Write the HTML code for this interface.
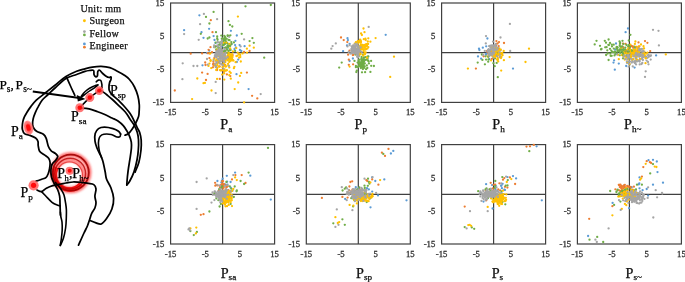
<!DOCTYPE html><html><head><meta charset="utf-8"><style>html,body{margin:0;padding:0;background:#fff;width:685px;height:282px;overflow:hidden}svg{display:block}text{font-family:"Liberation Serif",serif;stroke:currentColor;stroke-width:0.25px;paint-order:stroke}svg{will-change:transform}</style></head><body>
<svg width="685" height="282" viewBox="0 0 685 282">
<defs><filter id="bl" x="-50%" y="-50%" width="200%" height="200%"><feGaussianBlur stdDeviation="1.2"/></filter><filter id="bl2" x="-50%" y="-50%" width="200%" height="200%"><feGaussianBlur stdDeviation="0.9"/></filter><filter id="bl3" x="-50%" y="-50%" width="200%" height="200%"><feGaussianBlur stdDeviation="0.5"/></filter></defs>
<g stroke="#404040" stroke-width="1.2" fill="none">
<rect x="170.6" y="3.0" width="104.0" height="99.4"/>
<line x1="222.6" y1="3.0" x2="222.6" y2="102.4"/>
<line x1="170.6" y1="52.7" x2="274.6" y2="52.7"/>
</g>
<circle cx="235.1" cy="45.1" r="1.15" fill="#5B9BD5"/><circle cx="202.5" cy="65.3" r="1.15" fill="#5B9BD5"/><circle cx="213.6" cy="36.1" r="1.15" fill="#5B9BD5"/><circle cx="209.3" cy="50.7" r="1.15" fill="#5B9BD5"/><circle cx="229.6" cy="49.4" r="1.15" fill="#5B9BD5"/><circle cx="209.1" cy="28.8" r="1.15" fill="#5B9BD5"/><circle cx="199.4" cy="15.3" r="1.15" fill="#5B9BD5"/><circle cx="235.4" cy="40.8" r="1.15" fill="#5B9BD5"/><circle cx="223.5" cy="40.2" r="1.15" fill="#5B9BD5"/><circle cx="224.9" cy="38.0" r="1.15" fill="#5B9BD5"/><circle cx="214.5" cy="40.0" r="1.15" fill="#5B9BD5"/><circle cx="236.5" cy="74.2" r="1.15" fill="#5B9BD5"/><circle cx="236.8" cy="35.5" r="1.15" fill="#5B9BD5"/><circle cx="244.6" cy="46.2" r="1.15" fill="#5B9BD5"/><circle cx="184.1" cy="30.2" r="1.15" fill="#5B9BD5"/><circle cx="207.0" cy="53.0" r="1.15" fill="#5B9BD5"/><circle cx="235.8" cy="47.4" r="1.15" fill="#5B9BD5"/><circle cx="219.2" cy="53.1" r="1.15" fill="#5B9BD5"/><circle cx="238.9" cy="53.8" r="1.15" fill="#5B9BD5"/><circle cx="227.2" cy="48.0" r="1.15" fill="#5B9BD5"/><circle cx="231.6" cy="43.8" r="1.15" fill="#5B9BD5"/><circle cx="216.8" cy="53.5" r="1.15" fill="#5B9BD5"/><circle cx="221.8" cy="46.6" r="1.15" fill="#5B9BD5"/><circle cx="241.3" cy="51.0" r="1.15" fill="#5B9BD5"/><circle cx="239.6" cy="45.1" r="1.15" fill="#5B9BD5"/><circle cx="201.5" cy="32.2" r="1.15" fill="#5B9BD5"/><circle cx="248.6" cy="89.1" r="1.15" fill="#5B9BD5"/><circle cx="219.1" cy="51.9" r="1.15" fill="#ED7D31"/><circle cx="219.8" cy="78.9" r="1.15" fill="#ED7D31"/><circle cx="215.5" cy="43.1" r="1.15" fill="#5B9BD5"/><circle cx="225.2" cy="43.7" r="1.15" fill="#5B9BD5"/><circle cx="236.8" cy="62.0" r="1.15" fill="#5B9BD5"/><circle cx="222.9" cy="56.9" r="1.15" fill="#ED7D31"/><circle cx="230.9" cy="30.8" r="1.15" fill="#5B9BD5"/><circle cx="234.5" cy="49.1" r="1.15" fill="#5B9BD5"/><circle cx="213.7" cy="63.7" r="1.15" fill="#ED7D31"/><circle cx="222.1" cy="52.3" r="1.15" fill="#5B9BD5"/><circle cx="210.5" cy="47.2" r="1.15" fill="#ED7D31"/><circle cx="231.5" cy="55.4" r="1.15" fill="#ED7D31"/><circle cx="238.2" cy="59.6" r="1.15" fill="#5B9BD5"/><circle cx="217.9" cy="60.8" r="1.15" fill="#ED7D31"/><circle cx="174.8" cy="90.5" r="1.15" fill="#ED7D31"/><circle cx="224.4" cy="56.0" r="1.15" fill="#ED7D31"/><circle cx="203.5" cy="37.8" r="1.15" fill="#5B9BD5"/><circle cx="207.8" cy="53.2" r="1.15" fill="#ED7D31"/><circle cx="217.1" cy="70.0" r="1.15" fill="#ED7D31"/><circle cx="249.6" cy="51.0" r="1.15" fill="#ED7D31"/><circle cx="239.9" cy="50.0" r="1.15" fill="#5B9BD5"/><circle cx="202.1" cy="72.6" r="1.15" fill="#ED7D31"/><circle cx="227.0" cy="42.9" r="1.15" fill="#5B9BD5"/><circle cx="206.0" cy="80.0" r="1.15" fill="#ED7D31"/><circle cx="205.2" cy="62.5" r="1.15" fill="#ED7D31"/><circle cx="224.5" cy="65.1" r="1.15" fill="#ED7D31"/><circle cx="223.5" cy="58.5" r="1.15" fill="#ED7D31"/><circle cx="218.6" cy="55.9" r="1.15" fill="#ED7D31"/><circle cx="190.7" cy="53.7" r="1.15" fill="#ED7D31"/><circle cx="224.5" cy="55.6" r="1.15" fill="#ED7D31"/><circle cx="207.6" cy="73.9" r="1.15" fill="#ED7D31"/><circle cx="222.4" cy="56.5" r="1.15" fill="#ED7D31"/><circle cx="227.8" cy="55.8" r="1.15" fill="#ED7D31"/><circle cx="223.8" cy="71.8" r="1.15" fill="#ED7D31"/><circle cx="226.9" cy="74.4" r="1.15" fill="#ED7D31"/><circle cx="224.3" cy="60.5" r="1.15" fill="#ED7D31"/><circle cx="214.4" cy="58.0" r="1.15" fill="#ED7D31"/><circle cx="215.5" cy="46.3" r="1.15" fill="#ED7D31"/><circle cx="210.8" cy="20.2" r="1.15" fill="#ED7D31"/><circle cx="225.2" cy="64.9" r="1.15" fill="#ED7D31"/><circle cx="224.7" cy="61.2" r="1.15" fill="#ED7D31"/><circle cx="252.1" cy="95.8" r="1.15" fill="#ED7D31"/><circle cx="205.5" cy="65.0" r="1.15" fill="#ED7D31"/><circle cx="224.8" cy="50.5" r="1.15" fill="#ED7D31"/><circle cx="209.3" cy="53.4" r="1.15" fill="#ED7D31"/><circle cx="215.8" cy="65.9" r="1.15" fill="#ED7D31"/><circle cx="219.7" cy="66.5" r="1.15" fill="#ED7D31"/><circle cx="220.9" cy="49.6" r="1.15" fill="#ED7D31"/><circle cx="209.4" cy="58.1" r="1.15" fill="#ED7D31"/><circle cx="229.5" cy="40.2" r="1.15" fill="#70AD47"/><circle cx="241.7" cy="33.8" r="1.15" fill="#70AD47"/><circle cx="212.5" cy="32.2" r="1.15" fill="#ED7D31"/><circle cx="218.4" cy="47.8" r="1.15" fill="#70AD47"/><circle cx="227.0" cy="49.8" r="1.15" fill="#70AD47"/><circle cx="217.1" cy="67.6" r="1.15" fill="#ED7D31"/><circle cx="220.0" cy="44.5" r="1.15" fill="#70AD47"/><circle cx="213.1" cy="64.2" r="1.15" fill="#ED7D31"/><circle cx="214.3" cy="47.2" r="1.15" fill="#70AD47"/><circle cx="257.3" cy="98.4" r="1.15" fill="#ED7D31"/><circle cx="228.9" cy="58.7" r="1.15" fill="#ED7D31"/><circle cx="230.2" cy="45.4" r="1.15" fill="#70AD47"/><circle cx="212.9" cy="67.3" r="1.15" fill="#ED7D31"/><circle cx="213.6" cy="65.6" r="1.15" fill="#ED7D31"/><circle cx="225.6" cy="52.5" r="1.15" fill="#ED7D31"/><circle cx="222.6" cy="45.0" r="1.15" fill="#70AD47"/><circle cx="220.8" cy="52.7" r="1.15" fill="#70AD47"/><circle cx="224.4" cy="38.6" r="1.15" fill="#70AD47"/><circle cx="206.0" cy="16.9" r="1.15" fill="#70AD47"/><circle cx="232.7" cy="55.1" r="1.15" fill="#ED7D31"/><circle cx="202.1" cy="53.4" r="1.15" fill="#ED7D31"/><circle cx="223.4" cy="42.2" r="1.15" fill="#70AD47"/><circle cx="218.8" cy="62.5" r="1.15" fill="#ED7D31"/><circle cx="231.5" cy="44.2" r="1.15" fill="#70AD47"/><circle cx="224.7" cy="39.9" r="1.15" fill="#70AD47"/><circle cx="225.3" cy="58.0" r="1.15" fill="#ED7D31"/><circle cx="224.3" cy="47.8" r="1.15" fill="#70AD47"/><circle cx="215.7" cy="42.6" r="1.15" fill="#70AD47"/><circle cx="227.9" cy="36.0" r="1.15" fill="#70AD47"/><circle cx="209.4" cy="37.5" r="1.15" fill="#70AD47"/><circle cx="216.5" cy="50.3" r="1.15" fill="#ED7D31"/><circle cx="246.9" cy="72.6" r="1.15" fill="#ED7D31"/><circle cx="226.2" cy="43.1" r="1.15" fill="#70AD47"/><circle cx="229.0" cy="56.6" r="1.15" fill="#ED7D31"/><circle cx="222.8" cy="60.4" r="1.15" fill="#ED7D31"/><circle cx="231.5" cy="57.1" r="1.15" fill="#ED7D31"/><circle cx="230.3" cy="76.1" r="1.15" fill="#ED7D31"/><circle cx="228.5" cy="21.2" r="1.15" fill="#70AD47"/><circle cx="213.4" cy="61.7" r="1.15" fill="#ED7D31"/><circle cx="228.4" cy="58.0" r="1.15" fill="#ED7D31"/><circle cx="223.9" cy="44.6" r="1.15" fill="#70AD47"/><circle cx="228.7" cy="46.1" r="1.15" fill="#70AD47"/><circle cx="221.4" cy="70.3" r="1.15" fill="#ED7D31"/><circle cx="223.2" cy="65.8" r="1.15" fill="#ED7D31"/><circle cx="235.1" cy="50.9" r="1.15" fill="#70AD47"/><circle cx="264.2" cy="57.7" r="1.15" fill="#70AD47"/><circle cx="217.2" cy="38.4" r="1.15" fill="#70AD47"/><circle cx="245.5" cy="6.3" r="1.15" fill="#70AD47"/><circle cx="212.0" cy="52.2" r="1.15" fill="#ED7D31"/><circle cx="208.6" cy="49.8" r="1.15" fill="#ED7D31"/><circle cx="244.1" cy="52.0" r="1.15" fill="#ED7D31"/><circle cx="222.1" cy="39.5" r="1.15" fill="#70AD47"/><circle cx="228.5" cy="51.0" r="1.15" fill="#70AD47"/><circle cx="220.2" cy="42.4" r="1.15" fill="#70AD47"/><circle cx="225.2" cy="40.4" r="1.15" fill="#70AD47"/><circle cx="217.5" cy="50.5" r="1.15" fill="#70AD47"/><circle cx="222.2" cy="55.4" r="1.15" fill="#70AD47"/><circle cx="218.9" cy="52.9" r="1.15" fill="#70AD47"/><circle cx="225.5" cy="40.8" r="1.15" fill="#70AD47"/><circle cx="227.3" cy="52.8" r="1.15" fill="#70AD47"/><circle cx="218.7" cy="48.0" r="1.15" fill="#70AD47"/><circle cx="224.1" cy="43.3" r="1.15" fill="#70AD47"/><circle cx="225.0" cy="36.9" r="1.15" fill="#70AD47"/><circle cx="229.9" cy="24.9" r="1.15" fill="#70AD47"/><circle cx="221.2" cy="48.8" r="1.15" fill="#70AD47"/><circle cx="230.4" cy="50.2" r="1.15" fill="#70AD47"/><circle cx="207.7" cy="38.5" r="1.15" fill="#70AD47"/><circle cx="223.8" cy="44.8" r="1.15" fill="#70AD47"/><circle cx="249.6" cy="41.1" r="1.15" fill="#70AD47"/><circle cx="228.5" cy="40.0" r="1.15" fill="#70AD47"/><circle cx="223.0" cy="40.7" r="1.15" fill="#70AD47"/><circle cx="227.6" cy="35.5" r="1.15" fill="#70AD47"/><circle cx="231.3" cy="42.1" r="1.15" fill="#70AD47"/><circle cx="227.7" cy="43.6" r="1.15" fill="#70AD47"/><circle cx="218.2" cy="46.4" r="1.15" fill="#70AD47"/><circle cx="233.9" cy="42.4" r="1.15" fill="#70AD47"/><circle cx="253.8" cy="42.8" r="1.15" fill="#70AD47"/><circle cx="224.7" cy="50.8" r="1.15" fill="#70AD47"/><circle cx="223.4" cy="40.9" r="1.15" fill="#70AD47"/><circle cx="231.7" cy="58.9" r="1.15" fill="#70AD47"/><circle cx="225.4" cy="37.7" r="1.15" fill="#70AD47"/><circle cx="218.8" cy="45.1" r="1.15" fill="#70AD47"/><circle cx="230.4" cy="35.3" r="1.15" fill="#70AD47"/><circle cx="226.7" cy="38.8" r="1.15" fill="#70AD47"/><circle cx="200.8" cy="33.8" r="1.15" fill="#70AD47"/><circle cx="225.1" cy="60.6" r="1.15" fill="#FFC000"/><circle cx="210.6" cy="61.0" r="1.15" fill="#FFC000"/><circle cx="229.3" cy="67.4" r="1.15" fill="#FFC000"/><circle cx="229.3" cy="75.2" r="1.15" fill="#FFC000"/><circle cx="218.8" cy="58.8" r="1.15" fill="#FFC000"/><circle cx="230.3" cy="49.7" r="1.15" fill="#70AD47"/><circle cx="230.2" cy="48.4" r="1.15" fill="#FFC000"/><circle cx="215.3" cy="64.2" r="1.15" fill="#FFC000"/><circle cx="217.6" cy="39.8" r="1.15" fill="#70AD47"/><circle cx="240.3" cy="57.1" r="1.15" fill="#FFC000"/><circle cx="215.9" cy="46.6" r="1.15" fill="#70AD47"/><circle cx="225.3" cy="51.1" r="1.15" fill="#70AD47"/><circle cx="197.3" cy="78.5" r="1.15" fill="#FFC000"/><circle cx="229.1" cy="53.3" r="1.15" fill="#FFC000"/><circle cx="220.4" cy="43.0" r="1.15" fill="#70AD47"/><circle cx="210.2" cy="53.5" r="1.15" fill="#FFC000"/><circle cx="218.9" cy="66.5" r="1.15" fill="#FFC000"/><circle cx="233.5" cy="60.6" r="1.15" fill="#FFC000"/><circle cx="225.4" cy="66.6" r="1.15" fill="#FFC000"/><circle cx="228.8" cy="52.6" r="1.15" fill="#70AD47"/><circle cx="239.9" cy="75.9" r="1.15" fill="#FFC000"/><circle cx="222.4" cy="43.1" r="1.15" fill="#70AD47"/><circle cx="225.0" cy="65.3" r="1.15" fill="#FFC000"/><circle cx="216.0" cy="32.2" r="1.15" fill="#70AD47"/><circle cx="217.2" cy="36.5" r="1.15" fill="#70AD47"/><circle cx="270.8" cy="5.0" r="1.15" fill="#70AD47"/><circle cx="209.4" cy="23.5" r="1.15" fill="#70AD47"/><circle cx="221.8" cy="38.7" r="1.15" fill="#70AD47"/><circle cx="228.8" cy="59.5" r="1.15" fill="#70AD47"/><circle cx="225.8" cy="47.4" r="1.15" fill="#70AD47"/><circle cx="224.6" cy="69.4" r="1.15" fill="#FFC000"/><circle cx="242.6" cy="53.4" r="1.15" fill="#FFC000"/><circle cx="230.2" cy="61.0" r="1.15" fill="#FFC000"/><circle cx="225.8" cy="70.8" r="1.15" fill="#FFC000"/><circle cx="213.6" cy="11.9" r="1.15" fill="#70AD47"/><circle cx="222.6" cy="38.4" r="1.15" fill="#70AD47"/><circle cx="229.0" cy="36.0" r="1.15" fill="#70AD47"/><circle cx="224.0" cy="42.9" r="1.15" fill="#FFC000"/><circle cx="224.6" cy="39.7" r="1.15" fill="#70AD47"/><circle cx="226.1" cy="66.4" r="1.15" fill="#FFC000"/><circle cx="230.8" cy="59.2" r="1.15" fill="#FFC000"/><circle cx="225.9" cy="47.9" r="1.15" fill="#70AD47"/><circle cx="226.2" cy="42.1" r="1.15" fill="#70AD47"/><circle cx="231.0" cy="58.4" r="1.15" fill="#FFC000"/><circle cx="228.2" cy="45.9" r="1.15" fill="#70AD47"/><circle cx="228.2" cy="47.6" r="1.15" fill="#70AD47"/><circle cx="219.6" cy="57.0" r="1.15" fill="#FFC000"/><circle cx="229.4" cy="58.0" r="1.15" fill="#FFC000"/><circle cx="238.9" cy="53.9" r="1.15" fill="#FFC000"/><circle cx="225.4" cy="62.0" r="1.15" fill="#FFC000"/><circle cx="241.2" cy="72.9" r="1.15" fill="#FFC000"/><circle cx="236.4" cy="56.1" r="1.15" fill="#FFC000"/><circle cx="225.1" cy="43.7" r="1.15" fill="#70AD47"/><circle cx="224.3" cy="35.8" r="1.15" fill="#70AD47"/><circle cx="217.1" cy="78.9" r="1.15" fill="#FFC000"/><circle cx="252.4" cy="38.1" r="1.15" fill="#70AD47"/><circle cx="246.9" cy="48.7" r="1.15" fill="#FFC000"/><circle cx="222.5" cy="67.4" r="1.15" fill="#FFC000"/><circle cx="233.9" cy="68.2" r="1.15" fill="#FFC000"/><circle cx="227.4" cy="46.0" r="1.15" fill="#70AD47"/><circle cx="228.4" cy="45.4" r="1.15" fill="#70AD47"/><circle cx="223.9" cy="51.5" r="1.15" fill="#70AD47"/><circle cx="236.3" cy="48.1" r="1.15" fill="#FFC000"/><circle cx="228.0" cy="59.4" r="1.15" fill="#FFC000"/><circle cx="231.3" cy="58.2" r="1.15" fill="#FFC000"/><circle cx="225.2" cy="57.0" r="1.15" fill="#FFC000"/><circle cx="225.7" cy="59.4" r="1.15" fill="#FFC000"/><circle cx="216.2" cy="49.3" r="1.15" fill="#70AD47"/><circle cx="203.5" cy="83.2" r="1.15" fill="#FFC000"/><circle cx="238.2" cy="82.5" r="1.15" fill="#FFC000"/><circle cx="232.0" cy="60.5" r="1.15" fill="#FFC000"/><circle cx="229.4" cy="56.4" r="1.15" fill="#FFC000"/><circle cx="224.4" cy="39.0" r="1.15" fill="#70AD47"/><circle cx="221.3" cy="35.6" r="1.15" fill="#70AD47"/><circle cx="230.1" cy="45.9" r="1.15" fill="#70AD47"/><circle cx="232.5" cy="56.9" r="1.15" fill="#FFC000"/><circle cx="232.3" cy="26.5" r="1.15" fill="#70AD47"/><circle cx="247.0" cy="52.7" r="1.15" fill="#FFC000"/><circle cx="226.4" cy="42.6" r="1.15" fill="#FFC000"/><circle cx="231.9" cy="55.5" r="1.15" fill="#FFC000"/><circle cx="232.9" cy="51.5" r="1.15" fill="#FFC000"/><circle cx="249.6" cy="45.7" r="1.15" fill="#FFC000"/><circle cx="224.8" cy="59.6" r="1.15" fill="#FFC000"/><circle cx="225.3" cy="57.0" r="1.15" fill="#FFC000"/><circle cx="220.7" cy="60.7" r="1.15" fill="#FFC000"/><circle cx="224.1" cy="62.8" r="1.15" fill="#FFC000"/><circle cx="215.9" cy="60.8" r="1.15" fill="#FFC000"/><circle cx="217.9" cy="60.4" r="1.15" fill="#FFC000"/><circle cx="224.3" cy="79.6" r="1.15" fill="#FFC000"/><circle cx="244.1" cy="102.4" r="1.15" fill="#FFC000"/><circle cx="220.3" cy="56.7" r="1.15" fill="#FFC000"/><circle cx="229.2" cy="62.0" r="1.15" fill="#FFC000"/><circle cx="216.2" cy="70.0" r="1.15" fill="#FFC000"/><circle cx="225.6" cy="56.5" r="1.15" fill="#FFC000"/><circle cx="230.5" cy="54.3" r="1.15" fill="#FFC000"/><circle cx="230.7" cy="72.9" r="1.15" fill="#FFC000"/><circle cx="220.7" cy="70.4" r="1.15" fill="#FFC000"/><circle cx="217.3" cy="65.0" r="1.15" fill="#FFC000"/><circle cx="226.9" cy="70.2" r="1.15" fill="#FFC000"/><circle cx="237.7" cy="52.6" r="1.15" fill="#FFC000"/><circle cx="220.0" cy="70.1" r="1.15" fill="#FFC000"/><circle cx="223.9" cy="70.5" r="1.15" fill="#FFC000"/><circle cx="217.4" cy="49.7" r="1.15" fill="#FFC000"/><circle cx="228.3" cy="65.5" r="1.15" fill="#FFC000"/><circle cx="218.5" cy="61.3" r="1.15" fill="#FFC000"/><circle cx="240.8" cy="61.5" r="1.15" fill="#FFC000"/><circle cx="224.2" cy="73.3" r="1.15" fill="#FFC000"/><circle cx="208.5" cy="65.9" r="1.15" fill="#FFC000"/><circle cx="228.1" cy="54.9" r="1.15" fill="#FFC000"/><circle cx="222.7" cy="65.8" r="1.15" fill="#FFC000"/><circle cx="230.8" cy="55.8" r="1.15" fill="#FFC000"/><circle cx="234.7" cy="89.1" r="1.15" fill="#FFC000"/><circle cx="231.9" cy="54.1" r="1.15" fill="#FFC000"/><circle cx="210.6" cy="60.2" r="1.15" fill="#FFC000"/><circle cx="213.7" cy="59.3" r="1.15" fill="#FFC000"/><circle cx="224.6" cy="61.1" r="1.15" fill="#FFC000"/><circle cx="182.7" cy="63.3" r="1.15" fill="#A5A5A5"/><circle cx="219.4" cy="55.8" r="1.15" fill="#A5A5A5"/><circle cx="224.7" cy="58.6" r="1.15" fill="#A5A5A5"/><circle cx="219.9" cy="61.5" r="1.15" fill="#FFC000"/><circle cx="192.1" cy="99.1" r="1.15" fill="#FFC000"/><circle cx="220.5" cy="53.9" r="1.15" fill="#A5A5A5"/><circle cx="219.8" cy="50.9" r="1.15" fill="#A5A5A5"/><circle cx="222.3" cy="53.6" r="1.15" fill="#A5A5A5"/><circle cx="217.7" cy="55.6" r="1.15" fill="#A5A5A5"/><circle cx="226.0" cy="58.9" r="1.15" fill="#FFC000"/><circle cx="225.2" cy="65.9" r="1.15" fill="#FFC000"/><circle cx="222.3" cy="56.1" r="1.15" fill="#A5A5A5"/><circle cx="222.2" cy="74.6" r="1.15" fill="#FFC000"/><circle cx="237.6" cy="55.7" r="1.15" fill="#FFC000"/><circle cx="240.2" cy="55.0" r="1.15" fill="#FFC000"/><circle cx="230.7" cy="57.3" r="1.15" fill="#FFC000"/><circle cx="229.5" cy="43.8" r="1.15" fill="#FFC000"/><circle cx="239.3" cy="53.8" r="1.15" fill="#FFC000"/><circle cx="217.6" cy="50.8" r="1.15" fill="#A5A5A5"/><circle cx="218.3" cy="55.9" r="1.15" fill="#FFC000"/><circle cx="223.4" cy="63.9" r="1.15" fill="#FFC000"/><circle cx="221.4" cy="64.2" r="1.15" fill="#A5A5A5"/><circle cx="217.6" cy="63.1" r="1.15" fill="#FFC000"/><circle cx="221.8" cy="50.9" r="1.15" fill="#A5A5A5"/><circle cx="218.3" cy="55.5" r="1.15" fill="#FFC000"/><circle cx="219.5" cy="51.1" r="1.15" fill="#A5A5A5"/><circle cx="239.1" cy="57.7" r="1.15" fill="#FFC000"/><circle cx="211.5" cy="90.5" r="1.15" fill="#FFC000"/><circle cx="235.6" cy="62.2" r="1.15" fill="#FFC000"/><circle cx="223.7" cy="62.8" r="1.15" fill="#FFC000"/><circle cx="207.0" cy="59.0" r="1.15" fill="#A5A5A5"/><circle cx="214.5" cy="65.3" r="1.15" fill="#FFC000"/><circle cx="222.8" cy="59.2" r="1.15" fill="#A5A5A5"/><circle cx="217.3" cy="45.5" r="1.15" fill="#A5A5A5"/><circle cx="213.6" cy="60.3" r="1.15" fill="#A5A5A5"/><circle cx="217.3" cy="68.1" r="1.15" fill="#FFC000"/><circle cx="222.4" cy="50.0" r="1.15" fill="#A5A5A5"/><circle cx="219.6" cy="54.2" r="1.15" fill="#A5A5A5"/><circle cx="222.7" cy="70.2" r="1.15" fill="#FFC000"/><circle cx="230.2" cy="54.4" r="1.15" fill="#FFC000"/><circle cx="237.9" cy="16.6" r="1.15" fill="#FFC000"/><circle cx="222.8" cy="65.2" r="1.15" fill="#A5A5A5"/><circle cx="224.5" cy="55.6" r="1.15" fill="#FFC000"/><circle cx="222.6" cy="56.3" r="1.15" fill="#A5A5A5"/><circle cx="222.6" cy="59.6" r="1.15" fill="#A5A5A5"/><circle cx="223.8" cy="55.9" r="1.15" fill="#FFC000"/><circle cx="229.2" cy="36.8" r="1.15" fill="#A5A5A5"/><circle cx="221.9" cy="40.5" r="1.15" fill="#A5A5A5"/><circle cx="222.0" cy="58.1" r="1.15" fill="#A5A5A5"/><circle cx="223.1" cy="55.2" r="1.15" fill="#FFC000"/><circle cx="218.3" cy="59.3" r="1.15" fill="#A5A5A5"/><circle cx="229.6" cy="71.7" r="1.15" fill="#FFC000"/><circle cx="221.7" cy="43.5" r="1.15" fill="#A5A5A5"/><circle cx="223.5" cy="68.7" r="1.15" fill="#A5A5A5"/><circle cx="219.7" cy="53.6" r="1.15" fill="#A5A5A5"/><circle cx="253.8" cy="47.7" r="1.15" fill="#FFC000"/><circle cx="224.5" cy="59.3" r="1.15" fill="#A5A5A5"/><circle cx="216.4" cy="59.3" r="1.15" fill="#FFC000"/><circle cx="228.0" cy="63.8" r="1.15" fill="#FFC000"/><circle cx="220.9" cy="48.1" r="1.15" fill="#A5A5A5"/><circle cx="223.0" cy="54.6" r="1.15" fill="#FFC000"/><circle cx="229.7" cy="59.4" r="1.15" fill="#FFC000"/><circle cx="214.9" cy="55.3" r="1.15" fill="#A5A5A5"/><circle cx="219.6" cy="53.6" r="1.15" fill="#A5A5A5"/><circle cx="222.4" cy="56.0" r="1.15" fill="#A5A5A5"/><circle cx="215.8" cy="67.2" r="1.15" fill="#A5A5A5"/><circle cx="214.9" cy="64.5" r="1.15" fill="#A5A5A5"/><circle cx="219.4" cy="61.5" r="1.15" fill="#A5A5A5"/><circle cx="232.8" cy="59.9" r="1.15" fill="#FFC000"/><circle cx="227.4" cy="60.3" r="1.15" fill="#FFC000"/><circle cx="230.8" cy="78.7" r="1.15" fill="#FFC000"/><circle cx="220.0" cy="51.0" r="1.15" fill="#A5A5A5"/><circle cx="223.4" cy="53.2" r="1.15" fill="#FFC000"/><circle cx="211.2" cy="68.1" r="1.15" fill="#FFC000"/><circle cx="220.6" cy="42.8" r="1.15" fill="#A5A5A5"/><circle cx="197.3" cy="66.0" r="1.15" fill="#A5A5A5"/><circle cx="221.6" cy="52.3" r="1.15" fill="#A5A5A5"/><circle cx="217.5" cy="55.3" r="1.15" fill="#A5A5A5"/><circle cx="234.4" cy="66.8" r="1.15" fill="#FFC000"/><circle cx="209.4" cy="63.6" r="1.15" fill="#FFC000"/><circle cx="204.9" cy="82.9" r="1.15" fill="#FFC000"/><circle cx="221.7" cy="51.4" r="1.15" fill="#A5A5A5"/><circle cx="215.8" cy="53.5" r="1.15" fill="#A5A5A5"/><circle cx="225.3" cy="55.2" r="1.15" fill="#A5A5A5"/><circle cx="231.6" cy="58.6" r="1.15" fill="#FFC000"/><circle cx="228.6" cy="52.8" r="1.15" fill="#FFC000"/><circle cx="184.1" cy="34.1" r="1.15" fill="#A5A5A5"/><circle cx="220.3" cy="56.2" r="1.15" fill="#A5A5A5"/><circle cx="216.5" cy="63.0" r="1.15" fill="#A5A5A5"/><circle cx="217.7" cy="55.3" r="1.15" fill="#A5A5A5"/><circle cx="219.0" cy="53.3" r="1.15" fill="#A5A5A5"/><circle cx="217.6" cy="42.0" r="1.15" fill="#A5A5A5"/><circle cx="220.8" cy="59.0" r="1.15" fill="#A5A5A5"/><circle cx="221.8" cy="42.2" r="1.15" fill="#A5A5A5"/><circle cx="244.1" cy="39.4" r="1.15" fill="#A5A5A5"/><circle cx="219.8" cy="61.2" r="1.15" fill="#A5A5A5"/><circle cx="221.4" cy="56.7" r="1.15" fill="#A5A5A5"/><circle cx="220.7" cy="57.8" r="1.15" fill="#A5A5A5"/><circle cx="218.0" cy="50.3" r="1.15" fill="#A5A5A5"/><circle cx="220.8" cy="54.0" r="1.15" fill="#A5A5A5"/><circle cx="200.1" cy="24.2" r="1.15" fill="#A5A5A5"/><circle cx="224.8" cy="49.0" r="1.15" fill="#A5A5A5"/><circle cx="220.6" cy="43.4" r="1.15" fill="#A5A5A5"/><circle cx="218.0" cy="52.8" r="1.15" fill="#A5A5A5"/><circle cx="219.1" cy="55.2" r="1.15" fill="#A5A5A5"/><circle cx="221.3" cy="53.3" r="1.15" fill="#A5A5A5"/><circle cx="224.9" cy="53.6" r="1.15" fill="#A5A5A5"/><circle cx="217.1" cy="19.2" r="1.15" fill="#A5A5A5"/><circle cx="226.0" cy="58.5" r="1.15" fill="#A5A5A5"/><circle cx="223.7" cy="57.9" r="1.15" fill="#A5A5A5"/><circle cx="223.7" cy="55.2" r="1.15" fill="#A5A5A5"/><circle cx="214.1" cy="45.3" r="1.15" fill="#A5A5A5"/><circle cx="221.6" cy="57.7" r="1.15" fill="#A5A5A5"/><circle cx="215.7" cy="93.1" r="1.15" fill="#A5A5A5"/><circle cx="219.6" cy="57.1" r="1.15" fill="#A5A5A5"/><circle cx="219.8" cy="55.4" r="1.15" fill="#A5A5A5"/><circle cx="203.9" cy="13.9" r="1.15" fill="#A5A5A5"/><circle cx="218.9" cy="58.8" r="1.15" fill="#A5A5A5"/><circle cx="220.0" cy="53.9" r="1.15" fill="#A5A5A5"/><circle cx="217.7" cy="51.8" r="1.15" fill="#A5A5A5"/><circle cx="219.9" cy="63.5" r="1.15" fill="#A5A5A5"/><circle cx="215.5" cy="56.5" r="1.15" fill="#A5A5A5"/><circle cx="220.1" cy="51.1" r="1.15" fill="#A5A5A5"/><circle cx="220.3" cy="53.1" r="1.15" fill="#A5A5A5"/><circle cx="224.8" cy="57.5" r="1.15" fill="#A5A5A5"/><circle cx="220.8" cy="46.0" r="1.15" fill="#A5A5A5"/><circle cx="223.7" cy="61.1" r="1.15" fill="#A5A5A5"/><circle cx="216.5" cy="61.9" r="1.15" fill="#A5A5A5"/><circle cx="215.7" cy="81.9" r="1.15" fill="#A5A5A5"/><circle cx="217.2" cy="53.9" r="1.15" fill="#A5A5A5"/><circle cx="216.4" cy="51.8" r="1.15" fill="#A5A5A5"/><circle cx="224.4" cy="57.4" r="1.15" fill="#A5A5A5"/><circle cx="218.2" cy="54.8" r="1.15" fill="#A5A5A5"/><circle cx="182.4" cy="79.2" r="1.15" fill="#A5A5A5"/><circle cx="224.2" cy="55.4" r="1.15" fill="#A5A5A5"/><circle cx="214.9" cy="56.5" r="1.15" fill="#A5A5A5"/><circle cx="240.6" cy="46.4" r="1.15" fill="#A5A5A5"/><circle cx="216.9" cy="54.5" r="1.15" fill="#A5A5A5"/><circle cx="217.5" cy="51.3" r="1.15" fill="#A5A5A5"/><circle cx="221.3" cy="58.3" r="1.15" fill="#A5A5A5"/><circle cx="227.5" cy="57.2" r="1.15" fill="#A5A5A5"/><circle cx="216.9" cy="51.7" r="1.15" fill="#A5A5A5"/><circle cx="220.4" cy="49.6" r="1.15" fill="#A5A5A5"/><circle cx="215.2" cy="55.5" r="1.15" fill="#A5A5A5"/><circle cx="218.1" cy="42.5" r="1.15" fill="#A5A5A5"/><circle cx="225.4" cy="52.9" r="1.15" fill="#A5A5A5"/><circle cx="214.0" cy="47.2" r="1.15" fill="#A5A5A5"/><circle cx="216.2" cy="56.0" r="1.15" fill="#A5A5A5"/><circle cx="221.5" cy="56.2" r="1.15" fill="#A5A5A5"/><circle cx="224.3" cy="62.2" r="1.15" fill="#A5A5A5"/><circle cx="217.6" cy="53.3" r="1.15" fill="#A5A5A5"/><circle cx="193.5" cy="66.0" r="1.15" fill="#A5A5A5"/><circle cx="221.5" cy="61.4" r="1.15" fill="#A5A5A5"/><circle cx="218.7" cy="49.4" r="1.15" fill="#A5A5A5"/><circle cx="198.7" cy="39.8" r="1.15" fill="#A5A5A5"/><circle cx="220.8" cy="52.4" r="1.15" fill="#A5A5A5"/><circle cx="222.9" cy="53.3" r="1.15" fill="#A5A5A5"/><circle cx="218.1" cy="54.4" r="1.15" fill="#A5A5A5"/><circle cx="223.5" cy="54.7" r="1.15" fill="#A5A5A5"/><circle cx="229.0" cy="65.9" r="1.15" fill="#A5A5A5"/><circle cx="207.7" cy="64.6" r="1.15" fill="#A5A5A5"/><circle cx="221.5" cy="55.9" r="1.15" fill="#A5A5A5"/><circle cx="260.7" cy="94.1" r="1.15" fill="#A5A5A5"/><circle cx="216.7" cy="57.3" r="1.15" fill="#A5A5A5"/><circle cx="216.1" cy="66.5" r="1.15" fill="#A5A5A5"/><circle cx="217.6" cy="55.5" r="1.15" fill="#A5A5A5"/><circle cx="218.2" cy="46.5" r="1.15" fill="#A5A5A5"/><circle cx="218.1" cy="59.1" r="1.15" fill="#A5A5A5"/><circle cx="217.4" cy="54.0" r="1.15" fill="#A5A5A5"/>
<g font-size="7.7" fill="#3A3A3A" style="stroke:#3A3A3A;stroke-width:0.18px">
<text transform="translate(164.3 5.8) scale(1.13 1)" text-anchor="end">15</text>
<text transform="translate(164.3 38.9) scale(1.13 1)" text-anchor="end">5</text>
<text transform="translate(164.3 72.1) scale(1.13 1)" text-anchor="end">-5</text>
<text transform="translate(164.3 105.2) scale(1.13 1)" text-anchor="end">-15</text>
<text transform="translate(170.6 114.9) scale(1.13 1)" text-anchor="middle">-15</text>
<text transform="translate(205.3 114.9) scale(1.13 1)" text-anchor="middle">-5</text>
<text transform="translate(239.9 114.9) scale(1.13 1)" text-anchor="middle">5</text>
<text transform="translate(274.6 114.9) scale(1.13 1)" text-anchor="middle">15</text>
</g>
<text x="220.3" y="129.3" font-size="14.2" fill="#111">P<tspan font-size="9.2" dy="2.7">a</tspan></text>
<g stroke="#404040" stroke-width="1.2" fill="none">
<rect x="306.3" y="3.0" width="104.0" height="99.4"/>
<line x1="358.3" y1="3.0" x2="358.3" y2="102.4"/>
<line x1="306.3" y1="52.7" x2="410.3" y2="52.7"/>
</g>
<circle cx="347.0" cy="45.4" r="1.15" fill="#5B9BD5"/><circle cx="349.6" cy="61.0" r="1.15" fill="#5B9BD5"/><circle cx="356.6" cy="42.5" r="1.15" fill="#5B9BD5"/><circle cx="347.9" cy="40.1" r="1.15" fill="#5B9BD5"/><circle cx="343.1" cy="51.2" r="1.15" fill="#5B9BD5"/><circle cx="347.5" cy="38.2" r="1.15" fill="#5B9BD5"/><circle cx="352.9" cy="58.5" r="1.15" fill="#5B9BD5"/><circle cx="385.7" cy="34.8" r="1.15" fill="#5B9BD5"/><circle cx="349.6" cy="43.8" r="1.15" fill="#5B9BD5"/><circle cx="349.5" cy="50.7" r="1.15" fill="#ED7D31"/><circle cx="348.8" cy="59.7" r="1.15" fill="#ED7D31"/><circle cx="356.7" cy="53.1" r="1.15" fill="#ED7D31"/><circle cx="352.8" cy="55.1" r="1.15" fill="#ED7D31"/><circle cx="341.0" cy="37.5" r="1.15" fill="#ED7D31"/><circle cx="353.4" cy="54.8" r="1.15" fill="#ED7D31"/><circle cx="348.1" cy="54.7" r="1.15" fill="#ED7D31"/><circle cx="348.8" cy="64.8" r="1.15" fill="#ED7D31"/><circle cx="353.1" cy="64.3" r="1.15" fill="#ED7D31"/><circle cx="347.3" cy="42.1" r="1.15" fill="#ED7D31"/><circle cx="343.7" cy="40.1" r="1.15" fill="#ED7D31"/><circle cx="355.9" cy="66.0" r="1.15" fill="#70AD47"/><circle cx="363.9" cy="60.1" r="1.15" fill="#70AD47"/><circle cx="362.9" cy="69.1" r="1.15" fill="#70AD47"/><circle cx="360.7" cy="65.6" r="1.15" fill="#70AD47"/><circle cx="360.9" cy="68.0" r="1.15" fill="#70AD47"/><circle cx="367.6" cy="58.3" r="1.15" fill="#70AD47"/><circle cx="367.5" cy="56.7" r="1.15" fill="#70AD47"/><circle cx="355.5" cy="54.5" r="1.15" fill="#70AD47"/><circle cx="356.8" cy="70.7" r="1.15" fill="#70AD47"/><circle cx="362.3" cy="62.4" r="1.15" fill="#70AD47"/><circle cx="359.2" cy="62.9" r="1.15" fill="#70AD47"/><circle cx="362.3" cy="63.4" r="1.15" fill="#70AD47"/><circle cx="363.4" cy="62.6" r="1.15" fill="#70AD47"/><circle cx="361.4" cy="66.4" r="1.15" fill="#70AD47"/><circle cx="361.3" cy="65.8" r="1.15" fill="#70AD47"/><circle cx="363.9" cy="61.5" r="1.15" fill="#70AD47"/><circle cx="359.4" cy="65.3" r="1.15" fill="#70AD47"/><circle cx="363.3" cy="67.2" r="1.15" fill="#70AD47"/><circle cx="364.0" cy="57.4" r="1.15" fill="#70AD47"/><circle cx="361.7" cy="60.7" r="1.15" fill="#70AD47"/><circle cx="361.7" cy="61.3" r="1.15" fill="#70AD47"/><circle cx="373.9" cy="66.0" r="1.15" fill="#70AD47"/><circle cx="366.8" cy="65.4" r="1.15" fill="#70AD47"/><circle cx="361.4" cy="59.4" r="1.15" fill="#70AD47"/><circle cx="359.7" cy="62.7" r="1.15" fill="#70AD47"/><circle cx="363.1" cy="59.6" r="1.15" fill="#70AD47"/><circle cx="359.6" cy="64.5" r="1.15" fill="#70AD47"/><circle cx="359.1" cy="59.6" r="1.15" fill="#70AD47"/><circle cx="356.3" cy="72.1" r="1.15" fill="#70AD47"/><circle cx="371.1" cy="60.9" r="1.15" fill="#70AD47"/><circle cx="365.2" cy="60.0" r="1.15" fill="#70AD47"/><circle cx="362.5" cy="61.0" r="1.15" fill="#70AD47"/><circle cx="364.8" cy="63.4" r="1.15" fill="#70AD47"/><circle cx="367.3" cy="68.0" r="1.15" fill="#70AD47"/><circle cx="361.3" cy="65.8" r="1.15" fill="#70AD47"/><circle cx="368.9" cy="63.4" r="1.15" fill="#70AD47"/><circle cx="362.3" cy="64.3" r="1.15" fill="#70AD47"/><circle cx="360.0" cy="62.6" r="1.15" fill="#70AD47"/><circle cx="359.1" cy="62.3" r="1.15" fill="#70AD47"/><circle cx="362.4" cy="67.2" r="1.15" fill="#70AD47"/><circle cx="360.2" cy="64.2" r="1.15" fill="#70AD47"/><circle cx="361.6" cy="58.4" r="1.15" fill="#70AD47"/><circle cx="339.2" cy="67.6" r="1.15" fill="#70AD47"/><circle cx="360.3" cy="66.6" r="1.15" fill="#70AD47"/><circle cx="362.0" cy="72.3" r="1.15" fill="#70AD47"/><circle cx="362.1" cy="66.1" r="1.15" fill="#70AD47"/><circle cx="355.9" cy="67.2" r="1.15" fill="#70AD47"/><circle cx="365.1" cy="72.2" r="1.15" fill="#70AD47"/><circle cx="364.2" cy="67.8" r="1.15" fill="#70AD47"/><circle cx="363.7" cy="67.4" r="1.15" fill="#70AD47"/><circle cx="362.7" cy="67.4" r="1.15" fill="#70AD47"/><circle cx="363.6" cy="59.5" r="1.15" fill="#70AD47"/><circle cx="366.6" cy="59.7" r="1.15" fill="#70AD47"/><circle cx="363.8" cy="57.9" r="1.15" fill="#70AD47"/><circle cx="363.3" cy="66.2" r="1.15" fill="#70AD47"/><circle cx="366.1" cy="69.2" r="1.15" fill="#70AD47"/><circle cx="363.2" cy="60.8" r="1.15" fill="#70AD47"/><circle cx="365.6" cy="57.2" r="1.15" fill="#70AD47"/><circle cx="362.6" cy="62.7" r="1.15" fill="#70AD47"/><circle cx="360.6" cy="66.2" r="1.15" fill="#70AD47"/><circle cx="371.2" cy="65.8" r="1.15" fill="#70AD47"/><circle cx="357.4" cy="66.8" r="1.15" fill="#70AD47"/><circle cx="362.6" cy="64.1" r="1.15" fill="#70AD47"/><circle cx="362.8" cy="66.6" r="1.15" fill="#70AD47"/><circle cx="362.0" cy="62.0" r="1.15" fill="#70AD47"/><circle cx="359.9" cy="63.0" r="1.15" fill="#70AD47"/><circle cx="361.5" cy="63.8" r="1.15" fill="#70AD47"/><circle cx="363.1" cy="54.6" r="1.15" fill="#70AD47"/><circle cx="358.1" cy="66.9" r="1.15" fill="#70AD47"/><circle cx="364.6" cy="66.4" r="1.15" fill="#70AD47"/><circle cx="363.9" cy="61.2" r="1.15" fill="#70AD47"/><circle cx="362.7" cy="64.0" r="1.15" fill="#70AD47"/><circle cx="361.6" cy="57.0" r="1.15" fill="#70AD47"/><circle cx="359.0" cy="55.8" r="1.15" fill="#70AD47"/><circle cx="368.3" cy="56.4" r="1.15" fill="#70AD47"/><circle cx="361.9" cy="61.2" r="1.15" fill="#70AD47"/><circle cx="368.0" cy="60.5" r="1.15" fill="#70AD47"/><circle cx="362.2" cy="65.5" r="1.15" fill="#70AD47"/><circle cx="362.4" cy="61.0" r="1.15" fill="#70AD47"/><circle cx="364.2" cy="66.6" r="1.15" fill="#70AD47"/><circle cx="368.7" cy="61.3" r="1.15" fill="#70AD47"/><circle cx="357.6" cy="62.6" r="1.15" fill="#70AD47"/><circle cx="359.2" cy="65.5" r="1.15" fill="#70AD47"/><circle cx="360.6" cy="64.8" r="1.15" fill="#70AD47"/><circle cx="361.9" cy="63.1" r="1.15" fill="#70AD47"/><circle cx="354.5" cy="60.9" r="1.15" fill="#70AD47"/><circle cx="363.6" cy="64.7" r="1.15" fill="#70AD47"/><circle cx="361.7" cy="62.2" r="1.15" fill="#70AD47"/><circle cx="370.4" cy="71.9" r="1.15" fill="#70AD47"/><circle cx="361.9" cy="62.2" r="1.15" fill="#70AD47"/><circle cx="361.1" cy="63.4" r="1.15" fill="#70AD47"/><circle cx="358.7" cy="60.7" r="1.15" fill="#70AD47"/><circle cx="341.7" cy="62.6" r="1.15" fill="#70AD47"/><circle cx="361.7" cy="59.8" r="1.15" fill="#70AD47"/><circle cx="375.6" cy="38.1" r="1.15" fill="#FFC000"/><circle cx="360.6" cy="54.3" r="1.15" fill="#FFC000"/><circle cx="359.8" cy="49.3" r="1.15" fill="#FFC000"/><circle cx="354.7" cy="43.6" r="1.15" fill="#FFC000"/><circle cx="367.2" cy="44.4" r="1.15" fill="#FFC000"/><circle cx="362.0" cy="46.7" r="1.15" fill="#FFC000"/><circle cx="358.2" cy="43.4" r="1.15" fill="#FFC000"/><circle cx="360.8" cy="45.0" r="1.15" fill="#FFC000"/><circle cx="358.5" cy="41.5" r="1.15" fill="#FFC000"/><circle cx="368.3" cy="38.3" r="1.15" fill="#FFC000"/><circle cx="349.6" cy="66.6" r="1.15" fill="#FFC000"/><circle cx="363.1" cy="49.4" r="1.15" fill="#FFC000"/><circle cx="361.9" cy="47.9" r="1.15" fill="#FFC000"/><circle cx="368.1" cy="43.9" r="1.15" fill="#FFC000"/><circle cx="358.3" cy="51.7" r="1.15" fill="#FFC000"/><circle cx="356.6" cy="48.6" r="1.15" fill="#FFC000"/><circle cx="358.8" cy="52.4" r="1.15" fill="#FFC000"/><circle cx="363.4" cy="49.3" r="1.15" fill="#FFC000"/><circle cx="364.7" cy="52.9" r="1.15" fill="#FFC000"/><circle cx="361.9" cy="35.0" r="1.15" fill="#FFC000"/><circle cx="364.2" cy="46.0" r="1.15" fill="#FFC000"/><circle cx="361.0" cy="41.8" r="1.15" fill="#FFC000"/><circle cx="358.5" cy="51.0" r="1.15" fill="#FFC000"/><circle cx="365.9" cy="49.3" r="1.15" fill="#FFC000"/><circle cx="362.5" cy="45.5" r="1.15" fill="#FFC000"/><circle cx="361.1" cy="33.5" r="1.15" fill="#FFC000"/><circle cx="360.3" cy="53.8" r="1.15" fill="#FFC000"/><circle cx="361.3" cy="44.6" r="1.15" fill="#FFC000"/><circle cx="365.7" cy="40.0" r="1.15" fill="#FFC000"/><circle cx="367.5" cy="43.8" r="1.15" fill="#FFC000"/><circle cx="358.9" cy="52.4" r="1.15" fill="#FFC000"/><circle cx="355.9" cy="42.2" r="1.15" fill="#FFC000"/><circle cx="359.6" cy="47.5" r="1.15" fill="#FFC000"/><circle cx="356.5" cy="51.5" r="1.15" fill="#FFC000"/><circle cx="359.0" cy="41.4" r="1.15" fill="#FFC000"/><circle cx="359.5" cy="46.2" r="1.15" fill="#FFC000"/><circle cx="365.2" cy="49.6" r="1.15" fill="#FFC000"/><circle cx="361.6" cy="49.2" r="1.15" fill="#FFC000"/><circle cx="364.8" cy="45.0" r="1.15" fill="#FFC000"/><circle cx="364.7" cy="46.0" r="1.15" fill="#FFC000"/><circle cx="360.3" cy="49.5" r="1.15" fill="#FFC000"/><circle cx="362.2" cy="48.1" r="1.15" fill="#FFC000"/><circle cx="363.5" cy="28.5" r="1.15" fill="#FFC000"/><circle cx="394.0" cy="56.7" r="1.15" fill="#FFC000"/><circle cx="367.5" cy="48.6" r="1.15" fill="#FFC000"/><circle cx="363.7" cy="49.9" r="1.15" fill="#FFC000"/><circle cx="367.8" cy="41.5" r="1.15" fill="#FFC000"/><circle cx="360.6" cy="51.5" r="1.15" fill="#FFC000"/><circle cx="362.5" cy="45.5" r="1.15" fill="#FFC000"/><circle cx="357.8" cy="41.1" r="1.15" fill="#FFC000"/><circle cx="355.6" cy="51.6" r="1.15" fill="#FFC000"/><circle cx="365.4" cy="45.7" r="1.15" fill="#FFC000"/><circle cx="361.0" cy="45.9" r="1.15" fill="#FFC000"/><circle cx="359.2" cy="41.9" r="1.15" fill="#FFC000"/><circle cx="360.7" cy="42.8" r="1.15" fill="#FFC000"/><circle cx="360.1" cy="39.6" r="1.15" fill="#FFC000"/><circle cx="367.0" cy="57.7" r="1.15" fill="#FFC000"/><circle cx="360.7" cy="48.4" r="1.15" fill="#FFC000"/><circle cx="365.7" cy="52.4" r="1.15" fill="#FFC000"/><circle cx="370.4" cy="41.7" r="1.15" fill="#FFC000"/><circle cx="365.8" cy="46.7" r="1.15" fill="#FFC000"/><circle cx="359.7" cy="47.6" r="1.15" fill="#FFC000"/><circle cx="359.9" cy="41.0" r="1.15" fill="#FFC000"/><circle cx="361.9" cy="48.8" r="1.15" fill="#FFC000"/><circle cx="357.5" cy="43.6" r="1.15" fill="#FFC000"/><circle cx="367.1" cy="45.9" r="1.15" fill="#FFC000"/><circle cx="368.3" cy="47.2" r="1.15" fill="#FFC000"/><circle cx="360.7" cy="41.9" r="1.15" fill="#FFC000"/><circle cx="363.7" cy="51.3" r="1.15" fill="#FFC000"/><circle cx="363.8" cy="39.2" r="1.15" fill="#FFC000"/><circle cx="363.7" cy="45.5" r="1.15" fill="#FFC000"/><circle cx="364.6" cy="54.1" r="1.15" fill="#FFC000"/><circle cx="365.4" cy="38.7" r="1.15" fill="#FFC000"/><circle cx="359.8" cy="48.3" r="1.15" fill="#FFC000"/><circle cx="366.1" cy="48.9" r="1.15" fill="#FFC000"/><circle cx="366.9" cy="45.5" r="1.15" fill="#FFC000"/><circle cx="390.2" cy="76.9" r="1.15" fill="#FFC000"/><circle cx="353.2" cy="46.5" r="1.15" fill="#FFC000"/><circle cx="360.3" cy="50.2" r="1.15" fill="#FFC000"/><circle cx="360.8" cy="40.6" r="1.15" fill="#FFC000"/><circle cx="357.3" cy="53.9" r="1.15" fill="#FFC000"/><circle cx="366.1" cy="44.2" r="1.15" fill="#FFC000"/><circle cx="364.9" cy="54.3" r="1.15" fill="#FFC000"/><circle cx="359.8" cy="47.3" r="1.15" fill="#FFC000"/><circle cx="364.5" cy="32.2" r="1.15" fill="#FFC000"/><circle cx="359.2" cy="54.8" r="1.15" fill="#FFC000"/><circle cx="364.3" cy="47.4" r="1.15" fill="#FFC000"/><circle cx="365.2" cy="48.4" r="1.15" fill="#FFC000"/><circle cx="362.5" cy="45.0" r="1.15" fill="#FFC000"/><circle cx="361.2" cy="48.8" r="1.15" fill="#FFC000"/><circle cx="358.7" cy="50.1" r="1.15" fill="#FFC000"/><circle cx="362.7" cy="47.7" r="1.15" fill="#FFC000"/><circle cx="363.2" cy="55.5" r="1.15" fill="#FFC000"/><circle cx="351.6" cy="46.3" r="1.15" fill="#A5A5A5"/><circle cx="349.6" cy="45.2" r="1.15" fill="#A5A5A5"/><circle cx="354.4" cy="47.8" r="1.15" fill="#A5A5A5"/><circle cx="356.7" cy="54.1" r="1.15" fill="#A5A5A5"/><circle cx="356.3" cy="48.8" r="1.15" fill="#A5A5A5"/><circle cx="353.3" cy="52.4" r="1.15" fill="#A5A5A5"/><circle cx="357.4" cy="44.3" r="1.15" fill="#A5A5A5"/><circle cx="358.5" cy="48.7" r="1.15" fill="#A5A5A5"/><circle cx="331.3" cy="48.7" r="1.15" fill="#A5A5A5"/><circle cx="347.5" cy="46.4" r="1.15" fill="#A5A5A5"/><circle cx="356.3" cy="49.4" r="1.15" fill="#A5A5A5"/><circle cx="354.6" cy="50.2" r="1.15" fill="#A5A5A5"/><circle cx="352.1" cy="50.5" r="1.15" fill="#A5A5A5"/><circle cx="352.7" cy="52.5" r="1.15" fill="#A5A5A5"/><circle cx="355.5" cy="48.9" r="1.15" fill="#A5A5A5"/><circle cx="351.6" cy="50.4" r="1.15" fill="#A5A5A5"/><circle cx="357.5" cy="46.6" r="1.15" fill="#A5A5A5"/><circle cx="355.2" cy="43.9" r="1.15" fill="#A5A5A5"/><circle cx="356.8" cy="49.8" r="1.15" fill="#A5A5A5"/><circle cx="357.5" cy="55.9" r="1.15" fill="#A5A5A5"/><circle cx="358.4" cy="53.9" r="1.15" fill="#A5A5A5"/><circle cx="353.5" cy="50.4" r="1.15" fill="#A5A5A5"/><circle cx="358.4" cy="55.6" r="1.15" fill="#A5A5A5"/><circle cx="354.1" cy="50.3" r="1.15" fill="#A5A5A5"/><circle cx="353.7" cy="52.1" r="1.15" fill="#A5A5A5"/><circle cx="332.6" cy="46.1" r="1.15" fill="#A5A5A5"/><circle cx="356.6" cy="45.1" r="1.15" fill="#A5A5A5"/><circle cx="357.2" cy="50.5" r="1.15" fill="#A5A5A5"/><circle cx="354.9" cy="48.4" r="1.15" fill="#A5A5A5"/><circle cx="352.8" cy="47.8" r="1.15" fill="#A5A5A5"/><circle cx="355.1" cy="52.0" r="1.15" fill="#A5A5A5"/><circle cx="354.7" cy="47.6" r="1.15" fill="#A5A5A5"/><circle cx="355.8" cy="50.6" r="1.15" fill="#A5A5A5"/><circle cx="358.6" cy="51.1" r="1.15" fill="#A5A5A5"/><circle cx="353.2" cy="45.3" r="1.15" fill="#A5A5A5"/><circle cx="352.3" cy="47.1" r="1.15" fill="#A5A5A5"/><circle cx="352.5" cy="52.5" r="1.15" fill="#A5A5A5"/><circle cx="368.7" cy="26.9" r="1.15" fill="#A5A5A5"/><circle cx="359.0" cy="51.9" r="1.15" fill="#A5A5A5"/><circle cx="357.3" cy="53.9" r="1.15" fill="#A5A5A5"/><circle cx="357.6" cy="56.1" r="1.15" fill="#A5A5A5"/><circle cx="356.6" cy="49.6" r="1.15" fill="#A5A5A5"/><circle cx="354.2" cy="52.4" r="1.15" fill="#A5A5A5"/><circle cx="356.5" cy="49.8" r="1.15" fill="#A5A5A5"/><circle cx="352.0" cy="48.4" r="1.15" fill="#A5A5A5"/><circle cx="335.8" cy="43.4" r="1.15" fill="#A5A5A5"/><circle cx="359.1" cy="49.6" r="1.15" fill="#A5A5A5"/><circle cx="358.6" cy="46.4" r="1.15" fill="#A5A5A5"/><circle cx="351.7" cy="53.4" r="1.15" fill="#A5A5A5"/><circle cx="355.7" cy="48.6" r="1.15" fill="#A5A5A5"/><circle cx="361.8" cy="52.1" r="1.15" fill="#A5A5A5"/><circle cx="358.3" cy="47.9" r="1.15" fill="#A5A5A5"/><circle cx="357.4" cy="56.9" r="1.15" fill="#A5A5A5"/><circle cx="350.3" cy="53.6" r="1.15" fill="#A5A5A5"/><circle cx="358.0" cy="52.1" r="1.15" fill="#A5A5A5"/><circle cx="358.7" cy="49.9" r="1.15" fill="#A5A5A5"/><circle cx="358.1" cy="47.0" r="1.15" fill="#A5A5A5"/><circle cx="355.8" cy="46.1" r="1.15" fill="#A5A5A5"/><circle cx="358.4" cy="57.0" r="1.15" fill="#A5A5A5"/><circle cx="351.3" cy="52.1" r="1.15" fill="#A5A5A5"/><circle cx="360.2" cy="51.1" r="1.15" fill="#A5A5A5"/><circle cx="354.6" cy="52.1" r="1.15" fill="#A5A5A5"/><circle cx="354.9" cy="47.8" r="1.15" fill="#A5A5A5"/><circle cx="354.9" cy="53.4" r="1.15" fill="#A5A5A5"/><circle cx="355.0" cy="51.2" r="1.15" fill="#A5A5A5"/><circle cx="352.4" cy="46.8" r="1.15" fill="#A5A5A5"/><circle cx="360.7" cy="47.5" r="1.15" fill="#A5A5A5"/><circle cx="354.4" cy="46.8" r="1.15" fill="#A5A5A5"/><circle cx="354.7" cy="50.0" r="1.15" fill="#A5A5A5"/><circle cx="356.8" cy="51.9" r="1.15" fill="#A5A5A5"/><circle cx="353.9" cy="49.0" r="1.15" fill="#A5A5A5"/><circle cx="351.7" cy="49.9" r="1.15" fill="#A5A5A5"/><circle cx="354.0" cy="48.6" r="1.15" fill="#A5A5A5"/><circle cx="353.6" cy="51.8" r="1.15" fill="#A5A5A5"/><circle cx="358.5" cy="51.2" r="1.15" fill="#A5A5A5"/><circle cx="357.4" cy="56.5" r="1.15" fill="#A5A5A5"/><circle cx="351.8" cy="48.7" r="1.15" fill="#A5A5A5"/><circle cx="354.8" cy="46.4" r="1.15" fill="#A5A5A5"/><circle cx="354.8" cy="51.5" r="1.15" fill="#A5A5A5"/><circle cx="355.6" cy="53.0" r="1.15" fill="#A5A5A5"/><circle cx="356.2" cy="52.8" r="1.15" fill="#A5A5A5"/><circle cx="355.3" cy="47.1" r="1.15" fill="#A5A5A5"/><circle cx="353.7" cy="45.6" r="1.15" fill="#A5A5A5"/><circle cx="348.7" cy="52.0" r="1.15" fill="#A5A5A5"/><circle cx="355.2" cy="46.6" r="1.15" fill="#A5A5A5"/><circle cx="351.6" cy="49.0" r="1.15" fill="#A5A5A5"/><circle cx="357.5" cy="50.9" r="1.15" fill="#A5A5A5"/><circle cx="357.1" cy="53.5" r="1.15" fill="#A5A5A5"/><circle cx="352.0" cy="51.9" r="1.15" fill="#A5A5A5"/>
<g font-size="7.7" fill="#3A3A3A" style="stroke:#3A3A3A;stroke-width:0.18px">
<text transform="translate(300.0 5.8) scale(1.13 1)" text-anchor="end">15</text>
<text transform="translate(300.0 38.9) scale(1.13 1)" text-anchor="end">5</text>
<text transform="translate(300.0 72.1) scale(1.13 1)" text-anchor="end">-5</text>
<text transform="translate(300.0 105.2) scale(1.13 1)" text-anchor="end">-15</text>
<text transform="translate(306.3 114.9) scale(1.13 1)" text-anchor="middle">-15</text>
<text transform="translate(341.0 114.9) scale(1.13 1)" text-anchor="middle">-5</text>
<text transform="translate(375.6 114.9) scale(1.13 1)" text-anchor="middle">5</text>
<text transform="translate(410.3 114.9) scale(1.13 1)" text-anchor="middle">15</text>
</g>
<text x="354.6" y="129.3" font-size="14.2" fill="#111">P<tspan font-size="9.2" dy="2.7">p</tspan></text>
<g stroke="#404040" stroke-width="1.2" fill="none">
<rect x="441.6" y="3.0" width="104.0" height="99.4"/>
<line x1="493.6" y1="3.0" x2="493.6" y2="102.4"/>
<line x1="441.6" y1="52.7" x2="545.6" y2="52.7"/>
</g>
<circle cx="487.4" cy="38.5" r="1.15" fill="#5B9BD5"/><circle cx="491.2" cy="52.4" r="1.15" fill="#5B9BD5"/><circle cx="482.8" cy="47.7" r="1.15" fill="#5B9BD5"/><circle cx="479.4" cy="50.0" r="1.15" fill="#5B9BD5"/><circle cx="481.1" cy="58.7" r="1.15" fill="#5B9BD5"/><circle cx="491.6" cy="52.6" r="1.15" fill="#ED7D31"/><circle cx="486.2" cy="46.3" r="1.15" fill="#5B9BD5"/><circle cx="493.1" cy="51.2" r="1.15" fill="#ED7D31"/><circle cx="495.7" cy="55.6" r="1.15" fill="#5B9BD5"/><circle cx="493.2" cy="53.7" r="1.15" fill="#ED7D31"/><circle cx="487.6" cy="52.2" r="1.15" fill="#ED7D31"/><circle cx="489.5" cy="53.9" r="1.15" fill="#ED7D31"/><circle cx="486.4" cy="54.6" r="1.15" fill="#ED7D31"/><circle cx="490.6" cy="52.7" r="1.15" fill="#ED7D31"/><circle cx="496.6" cy="54.9" r="1.15" fill="#5B9BD5"/><circle cx="491.3" cy="55.2" r="1.15" fill="#ED7D31"/><circle cx="493.5" cy="46.7" r="1.15" fill="#ED7D31"/><circle cx="488.6" cy="49.9" r="1.15" fill="#5B9BD5"/><circle cx="484.9" cy="64.3" r="1.15" fill="#70AD47"/><circle cx="494.7" cy="66.2" r="1.15" fill="#70AD47"/><circle cx="489.8" cy="55.3" r="1.15" fill="#5B9BD5"/><circle cx="492.3" cy="47.9" r="1.15" fill="#ED7D31"/><circle cx="489.4" cy="59.2" r="1.15" fill="#5B9BD5"/><circle cx="496.1" cy="45.7" r="1.15" fill="#ED7D31"/><circle cx="491.8" cy="50.4" r="1.15" fill="#ED7D31"/><circle cx="495.8" cy="55.5" r="1.15" fill="#ED7D31"/><circle cx="495.6" cy="53.3" r="1.15" fill="#70AD47"/><circle cx="475.9" cy="68.6" r="1.15" fill="#ED7D31"/><circle cx="488.6" cy="56.6" r="1.15" fill="#5B9BD5"/><circle cx="494.7" cy="48.5" r="1.15" fill="#FFC000"/><circle cx="487.1" cy="51.0" r="1.15" fill="#ED7D31"/><circle cx="499.8" cy="56.4" r="1.15" fill="#FFC000"/><circle cx="496.5" cy="51.2" r="1.15" fill="#FFC000"/><circle cx="499.5" cy="53.4" r="1.15" fill="#FFC000"/><circle cx="482.4" cy="59.9" r="1.15" fill="#70AD47"/><circle cx="490.9" cy="54.6" r="1.15" fill="#5B9BD5"/><circle cx="495.8" cy="54.2" r="1.15" fill="#ED7D31"/><circle cx="498.0" cy="59.1" r="1.15" fill="#FFC000"/><circle cx="498.8" cy="49.3" r="1.15" fill="#FFC000"/><circle cx="525.5" cy="62.0" r="1.15" fill="#FFC000"/><circle cx="487.8" cy="56.7" r="1.15" fill="#FFC000"/><circle cx="485.8" cy="54.4" r="1.15" fill="#5B9BD5"/><circle cx="499.3" cy="48.4" r="1.15" fill="#FFC000"/><circle cx="493.4" cy="63.2" r="1.15" fill="#70AD47"/><circle cx="488.8" cy="55.7" r="1.15" fill="#FFC000"/><circle cx="491.1" cy="60.4" r="1.15" fill="#FFC000"/><circle cx="496.8" cy="53.7" r="1.15" fill="#FFC000"/><circle cx="493.4" cy="58.2" r="1.15" fill="#70AD47"/><circle cx="498.7" cy="46.1" r="1.15" fill="#ED7D31"/><circle cx="488.2" cy="53.3" r="1.15" fill="#FFC000"/><circle cx="495.6" cy="47.7" r="1.15" fill="#FFC000"/><circle cx="488.2" cy="61.7" r="1.15" fill="#70AD47"/><circle cx="483.6" cy="56.3" r="1.15" fill="#ED7D31"/><circle cx="481.9" cy="54.5" r="1.15" fill="#70AD47"/><circle cx="487.9" cy="52.7" r="1.15" fill="#ED7D31"/><circle cx="496.2" cy="51.9" r="1.15" fill="#FFC000"/><circle cx="501.8" cy="54.3" r="1.15" fill="#FFC000"/><circle cx="495.6" cy="51.1" r="1.15" fill="#5B9BD5"/><circle cx="491.9" cy="58.8" r="1.15" fill="#ED7D31"/><circle cx="491.8" cy="47.1" r="1.15" fill="#A5A5A5"/><circle cx="497.6" cy="49.6" r="1.15" fill="#ED7D31"/><circle cx="496.7" cy="62.9" r="1.15" fill="#70AD47"/><circle cx="500.5" cy="37.5" r="1.15" fill="#A5A5A5"/><circle cx="489.1" cy="46.1" r="1.15" fill="#A5A5A5"/><circle cx="499.5" cy="53.7" r="1.15" fill="#FFC000"/><circle cx="495.6" cy="51.2" r="1.15" fill="#A5A5A5"/><circle cx="499.0" cy="42.1" r="1.15" fill="#ED7D31"/><circle cx="492.0" cy="52.4" r="1.15" fill="#FFC000"/><circle cx="500.3" cy="52.8" r="1.15" fill="#FFC000"/><circle cx="486.5" cy="53.7" r="1.15" fill="#5B9BD5"/><circle cx="485.5" cy="56.3" r="1.15" fill="#70AD47"/><circle cx="492.4" cy="52.5" r="1.15" fill="#A5A5A5"/><circle cx="500.4" cy="50.4" r="1.15" fill="#A5A5A5"/><circle cx="509.9" cy="23.9" r="1.15" fill="#A5A5A5"/><circle cx="491.3" cy="49.6" r="1.15" fill="#A5A5A5"/><circle cx="487.6" cy="51.0" r="1.15" fill="#A5A5A5"/><circle cx="488.2" cy="49.8" r="1.15" fill="#A5A5A5"/><circle cx="489.6" cy="50.3" r="1.15" fill="#A5A5A5"/><circle cx="513.0" cy="68.6" r="1.15" fill="#5B9BD5"/><circle cx="494.1" cy="50.9" r="1.15" fill="#FFC000"/><circle cx="497.4" cy="53.6" r="1.15" fill="#A5A5A5"/><circle cx="496.5" cy="50.8" r="1.15" fill="#A5A5A5"/><circle cx="498.2" cy="61.4" r="1.15" fill="#FFC000"/><circle cx="495.0" cy="50.5" r="1.15" fill="#A5A5A5"/><circle cx="494.4" cy="52.4" r="1.15" fill="#ED7D31"/><circle cx="493.9" cy="51.9" r="1.15" fill="#A5A5A5"/><circle cx="495.0" cy="53.1" r="1.15" fill="#A5A5A5"/><circle cx="495.0" cy="51.1" r="1.15" fill="#A5A5A5"/><circle cx="489.5" cy="52.1" r="1.15" fill="#A5A5A5"/><circle cx="477.7" cy="62.6" r="1.15" fill="#70AD47"/><circle cx="494.2" cy="52.0" r="1.15" fill="#A5A5A5"/><circle cx="503.9" cy="60.2" r="1.15" fill="#FFC000"/><circle cx="489.6" cy="54.7" r="1.15" fill="#5B9BD5"/><circle cx="490.0" cy="54.7" r="1.15" fill="#5B9BD5"/><circle cx="487.9" cy="50.9" r="1.15" fill="#A5A5A5"/><circle cx="498.2" cy="48.7" r="1.15" fill="#ED7D31"/><circle cx="479.0" cy="48.7" r="1.15" fill="#5B9BD5"/><circle cx="498.8" cy="52.2" r="1.15" fill="#FFC000"/><circle cx="494.2" cy="52.3" r="1.15" fill="#A5A5A5"/><circle cx="490.8" cy="52.7" r="1.15" fill="#A5A5A5"/><circle cx="492.4" cy="55.9" r="1.15" fill="#FFC000"/><circle cx="497.9" cy="49.6" r="1.15" fill="#ED7D31"/><circle cx="496.0" cy="43.9" r="1.15" fill="#A5A5A5"/><circle cx="493.0" cy="47.6" r="1.15" fill="#A5A5A5"/><circle cx="490.7" cy="50.9" r="1.15" fill="#A5A5A5"/><circle cx="498.5" cy="50.0" r="1.15" fill="#A5A5A5"/><circle cx="493.4" cy="50.2" r="1.15" fill="#A5A5A5"/><circle cx="497.3" cy="55.8" r="1.15" fill="#ED7D31"/><circle cx="499.4" cy="49.7" r="1.15" fill="#FFC000"/><circle cx="490.6" cy="47.7" r="1.15" fill="#A5A5A5"/><circle cx="497.8" cy="77.2" r="1.15" fill="#70AD47"/><circle cx="490.6" cy="55.1" r="1.15" fill="#A5A5A5"/><circle cx="497.9" cy="50.9" r="1.15" fill="#FFC000"/><circle cx="492.4" cy="52.3" r="1.15" fill="#A5A5A5"/><circle cx="492.5" cy="48.5" r="1.15" fill="#A5A5A5"/><circle cx="494.1" cy="49.5" r="1.15" fill="#5B9BD5"/><circle cx="490.7" cy="51.9" r="1.15" fill="#A5A5A5"/><circle cx="483.1" cy="54.9" r="1.15" fill="#A5A5A5"/><circle cx="496.3" cy="51.6" r="1.15" fill="#A5A5A5"/><circle cx="497.6" cy="60.0" r="1.15" fill="#FFC000"/><circle cx="493.1" cy="56.8" r="1.15" fill="#A5A5A5"/><circle cx="497.6" cy="43.5" r="1.15" fill="#ED7D31"/><circle cx="491.8" cy="51.1" r="1.15" fill="#ED7D31"/><circle cx="486.1" cy="59.6" r="1.15" fill="#70AD47"/><circle cx="492.0" cy="47.1" r="1.15" fill="#FFC000"/><circle cx="478.0" cy="56.4" r="1.15" fill="#5B9BD5"/><circle cx="497.9" cy="47.8" r="1.15" fill="#A5A5A5"/><circle cx="495.2" cy="51.3" r="1.15" fill="#FFC000"/><circle cx="491.2" cy="54.3" r="1.15" fill="#FFC000"/><circle cx="492.2" cy="53.7" r="1.15" fill="#A5A5A5"/><circle cx="494.9" cy="58.4" r="1.15" fill="#70AD47"/><circle cx="499.6" cy="52.4" r="1.15" fill="#A5A5A5"/><circle cx="500.8" cy="49.7" r="1.15" fill="#FFC000"/><circle cx="509.6" cy="57.1" r="1.15" fill="#FFC000"/><circle cx="493.4" cy="51.9" r="1.15" fill="#A5A5A5"/><circle cx="496.4" cy="41.1" r="1.15" fill="#ED7D31"/><circle cx="497.0" cy="59.3" r="1.15" fill="#FFC000"/><circle cx="501.6" cy="53.5" r="1.15" fill="#FFC000"/><circle cx="503.7" cy="50.9" r="1.15" fill="#FFC000"/><circle cx="491.5" cy="52.3" r="1.15" fill="#ED7D31"/><circle cx="501.0" cy="54.3" r="1.15" fill="#FFC000"/><circle cx="496.7" cy="50.6" r="1.15" fill="#ED7D31"/><circle cx="501.0" cy="58.0" r="1.15" fill="#FFC000"/><circle cx="493.8" cy="55.6" r="1.15" fill="#FFC000"/><circle cx="500.2" cy="56.9" r="1.15" fill="#FFC000"/><circle cx="496.3" cy="53.0" r="1.15" fill="#FFC000"/><circle cx="489.3" cy="52.4" r="1.15" fill="#A5A5A5"/><circle cx="491.9" cy="50.9" r="1.15" fill="#FFC000"/><circle cx="488.1" cy="51.1" r="1.15" fill="#A5A5A5"/><circle cx="496.6" cy="51.1" r="1.15" fill="#FFC000"/><circle cx="493.7" cy="55.5" r="1.15" fill="#70AD47"/><circle cx="496.3" cy="48.4" r="1.15" fill="#FFC000"/><circle cx="495.0" cy="49.0" r="1.15" fill="#A5A5A5"/><circle cx="497.7" cy="57.8" r="1.15" fill="#FFC000"/><circle cx="488.4" cy="56.6" r="1.15" fill="#70AD47"/><circle cx="495.1" cy="46.7" r="1.15" fill="#A5A5A5"/><circle cx="504.0" cy="43.0" r="1.15" fill="#ED7D31"/><circle cx="529.0" cy="48.7" r="1.15" fill="#FFC000"/><circle cx="489.2" cy="55.8" r="1.15" fill="#A5A5A5"/><circle cx="493.8" cy="54.0" r="1.15" fill="#FFC000"/><circle cx="495.5" cy="51.1" r="1.15" fill="#A5A5A5"/><circle cx="490.0" cy="54.8" r="1.15" fill="#A5A5A5"/><circle cx="488.8" cy="53.3" r="1.15" fill="#A5A5A5"/><circle cx="499.9" cy="54.9" r="1.15" fill="#A5A5A5"/><circle cx="489.0" cy="51.2" r="1.15" fill="#A5A5A5"/><circle cx="493.9" cy="55.9" r="1.15" fill="#A5A5A5"/><circle cx="497.4" cy="53.7" r="1.15" fill="#FFC000"/><circle cx="498.1" cy="55.0" r="1.15" fill="#FFC000"/><circle cx="493.8" cy="57.5" r="1.15" fill="#A5A5A5"/><circle cx="494.3" cy="51.7" r="1.15" fill="#A5A5A5"/><circle cx="494.0" cy="50.3" r="1.15" fill="#FFC000"/><circle cx="496.6" cy="50.1" r="1.15" fill="#A5A5A5"/><circle cx="488.5" cy="59.5" r="1.15" fill="#70AD47"/><circle cx="493.4" cy="55.7" r="1.15" fill="#FFC000"/><circle cx="495.6" cy="54.8" r="1.15" fill="#FFC000"/><circle cx="496.7" cy="53.3" r="1.15" fill="#70AD47"/><circle cx="491.9" cy="45.5" r="1.15" fill="#A5A5A5"/><circle cx="494.3" cy="45.7" r="1.15" fill="#A5A5A5"/><circle cx="491.1" cy="49.2" r="1.15" fill="#A5A5A5"/><circle cx="495.1" cy="46.2" r="1.15" fill="#A5A5A5"/><circle cx="495.2" cy="49.4" r="1.15" fill="#A5A5A5"/><circle cx="493.3" cy="50.6" r="1.15" fill="#A5A5A5"/><circle cx="488.7" cy="49.1" r="1.15" fill="#A5A5A5"/><circle cx="502.6" cy="55.2" r="1.15" fill="#FFC000"/><circle cx="502.3" cy="53.0" r="1.15" fill="#FFC000"/><circle cx="498.3" cy="54.1" r="1.15" fill="#FFC000"/><circle cx="497.8" cy="50.7" r="1.15" fill="#A5A5A5"/><circle cx="497.9" cy="50.4" r="1.15" fill="#FFC000"/><circle cx="492.1" cy="54.0" r="1.15" fill="#A5A5A5"/><circle cx="491.8" cy="52.8" r="1.15" fill="#A5A5A5"/><circle cx="493.8" cy="52.2" r="1.15" fill="#A5A5A5"/><circle cx="484.8" cy="50.9" r="1.15" fill="#A5A5A5"/><circle cx="494.2" cy="50.8" r="1.15" fill="#A5A5A5"/><circle cx="496.3" cy="46.6" r="1.15" fill="#A5A5A5"/><circle cx="501.4" cy="57.0" r="1.15" fill="#FFC000"/><circle cx="497.4" cy="50.7" r="1.15" fill="#FFC000"/><circle cx="494.4" cy="52.0" r="1.15" fill="#A5A5A5"/><circle cx="494.4" cy="56.6" r="1.15" fill="#FFC000"/><circle cx="496.0" cy="53.5" r="1.15" fill="#FFC000"/><circle cx="493.4" cy="45.5" r="1.15" fill="#A5A5A5"/><circle cx="495.6" cy="56.8" r="1.15" fill="#FFC000"/><circle cx="501.2" cy="70.6" r="1.15" fill="#FFC000"/><circle cx="495.8" cy="53.3" r="1.15" fill="#FFC000"/><circle cx="499.7" cy="57.3" r="1.15" fill="#A5A5A5"/><circle cx="495.0" cy="52.0" r="1.15" fill="#FFC000"/><circle cx="467.9" cy="68.6" r="1.15" fill="#FFC000"/><circle cx="490.4" cy="53.2" r="1.15" fill="#A5A5A5"/><circle cx="486.0" cy="36.1" r="1.15" fill="#A5A5A5"/><circle cx="492.4" cy="47.4" r="1.15" fill="#A5A5A5"/><circle cx="497.1" cy="56.1" r="1.15" fill="#A5A5A5"/><circle cx="493.5" cy="50.6" r="1.15" fill="#A5A5A5"/><circle cx="493.0" cy="41.6" r="1.15" fill="#A5A5A5"/><circle cx="494.3" cy="52.6" r="1.15" fill="#A5A5A5"/><circle cx="490.3" cy="50.1" r="1.15" fill="#A5A5A5"/><circle cx="494.2" cy="50.0" r="1.15" fill="#A5A5A5"/><circle cx="490.7" cy="53.2" r="1.15" fill="#A5A5A5"/><circle cx="492.3" cy="45.8" r="1.15" fill="#A5A5A5"/><circle cx="490.6" cy="50.1" r="1.15" fill="#A5A5A5"/><circle cx="493.1" cy="50.6" r="1.15" fill="#A5A5A5"/><circle cx="485.8" cy="43.4" r="1.15" fill="#A5A5A5"/><circle cx="490.4" cy="45.7" r="1.15" fill="#A5A5A5"/><circle cx="490.4" cy="53.7" r="1.15" fill="#A5A5A5"/><circle cx="493.8" cy="53.5" r="1.15" fill="#A5A5A5"/><circle cx="510.2" cy="51.0" r="1.15" fill="#A5A5A5"/><circle cx="497.0" cy="49.5" r="1.15" fill="#A5A5A5"/><circle cx="492.3" cy="54.9" r="1.15" fill="#A5A5A5"/><circle cx="493.0" cy="51.1" r="1.15" fill="#A5A5A5"/><circle cx="489.8" cy="46.3" r="1.15" fill="#A5A5A5"/><circle cx="495.4" cy="45.0" r="1.15" fill="#A5A5A5"/><circle cx="493.8" cy="48.7" r="1.15" fill="#A5A5A5"/>
<g font-size="7.7" fill="#3A3A3A" style="stroke:#3A3A3A;stroke-width:0.18px">
<text transform="translate(435.3 5.8) scale(1.13 1)" text-anchor="end">15</text>
<text transform="translate(435.3 38.9) scale(1.13 1)" text-anchor="end">5</text>
<text transform="translate(435.3 72.1) scale(1.13 1)" text-anchor="end">-5</text>
<text transform="translate(435.3 105.2) scale(1.13 1)" text-anchor="end">-15</text>
<text transform="translate(441.6 114.9) scale(1.13 1)" text-anchor="middle">-15</text>
<text transform="translate(476.3 114.9) scale(1.13 1)" text-anchor="middle">-5</text>
<text transform="translate(510.9 114.9) scale(1.13 1)" text-anchor="middle">5</text>
<text transform="translate(545.6 114.9) scale(1.13 1)" text-anchor="middle">15</text>
</g>
<text x="492.3" y="129.3" font-size="14.2" fill="#111">P<tspan font-size="9.2" dy="2.7">h</tspan></text>
<g stroke="#404040" stroke-width="1.2" fill="none">
<rect x="577.4" y="3.0" width="104.0" height="99.4"/>
<line x1="629.4" y1="3.0" x2="629.4" y2="102.4"/>
<line x1="577.4" y1="52.7" x2="681.4" y2="52.7"/>
</g>
<circle cx="634.6" cy="67.6" r="1.15" fill="#5B9BD5"/><circle cx="613.5" cy="62.6" r="1.15" fill="#5B9BD5"/><circle cx="636.6" cy="60.0" r="1.15" fill="#5B9BD5"/><circle cx="625.4" cy="51.1" r="1.15" fill="#5B9BD5"/><circle cx="628.1" cy="61.8" r="1.15" fill="#5B9BD5"/><circle cx="625.6" cy="32.2" r="1.15" fill="#5B9BD5"/><circle cx="638.4" cy="47.8" r="1.15" fill="#ED7D31"/><circle cx="639.4" cy="46.3" r="1.15" fill="#ED7D31"/><circle cx="639.4" cy="50.0" r="1.15" fill="#ED7D31"/><circle cx="633.2" cy="47.6" r="1.15" fill="#ED7D31"/><circle cx="634.3" cy="51.4" r="1.15" fill="#ED7D31"/><circle cx="634.0" cy="47.4" r="1.15" fill="#ED7D31"/><circle cx="626.2" cy="66.0" r="1.15" fill="#5B9BD5"/><circle cx="628.0" cy="28.5" r="1.15" fill="#5B9BD5"/><circle cx="634.7" cy="52.0" r="1.15" fill="#ED7D31"/><circle cx="625.9" cy="51.2" r="1.15" fill="#ED7D31"/><circle cx="633.8" cy="48.4" r="1.15" fill="#ED7D31"/><circle cx="624.2" cy="52.2" r="1.15" fill="#ED7D31"/><circle cx="622.2" cy="50.5" r="1.15" fill="#5B9BD5"/><circle cx="614.5" cy="55.4" r="1.15" fill="#70AD47"/><circle cx="625.5" cy="43.8" r="1.15" fill="#ED7D31"/><circle cx="629.5" cy="49.9" r="1.15" fill="#ED7D31"/><circle cx="634.5" cy="46.6" r="1.15" fill="#70AD47"/><circle cx="616.7" cy="48.4" r="1.15" fill="#70AD47"/><circle cx="627.3" cy="50.4" r="1.15" fill="#70AD47"/><circle cx="608.6" cy="60.0" r="1.15" fill="#70AD47"/><circle cx="631.6" cy="50.2" r="1.15" fill="#70AD47"/><circle cx="612.0" cy="46.4" r="1.15" fill="#70AD47"/><circle cx="619.8" cy="55.3" r="1.15" fill="#70AD47"/><circle cx="610.0" cy="48.8" r="1.15" fill="#70AD47"/><circle cx="608.4" cy="44.8" r="1.15" fill="#70AD47"/><circle cx="620.2" cy="52.8" r="1.15" fill="#70AD47"/><circle cx="615.4" cy="52.0" r="1.15" fill="#70AD47"/><circle cx="636.7" cy="46.8" r="1.15" fill="#ED7D31"/><circle cx="612.2" cy="51.8" r="1.15" fill="#70AD47"/><circle cx="615.2" cy="49.7" r="1.15" fill="#5B9BD5"/><circle cx="636.5" cy="51.9" r="1.15" fill="#70AD47"/><circle cx="616.7" cy="46.9" r="1.15" fill="#70AD47"/><circle cx="615.4" cy="54.2" r="1.15" fill="#70AD47"/><circle cx="631.1" cy="53.2" r="1.15" fill="#70AD47"/><circle cx="634.4" cy="49.5" r="1.15" fill="#70AD47"/><circle cx="616.8" cy="47.4" r="1.15" fill="#70AD47"/><circle cx="638.5" cy="50.1" r="1.15" fill="#ED7D31"/><circle cx="645.0" cy="41.1" r="1.15" fill="#ED7D31"/><circle cx="606.6" cy="47.2" r="1.15" fill="#70AD47"/><circle cx="622.9" cy="43.6" r="1.15" fill="#ED7D31"/><circle cx="622.5" cy="40.8" r="1.15" fill="#70AD47"/><circle cx="622.1" cy="51.5" r="1.15" fill="#70AD47"/><circle cx="633.9" cy="53.5" r="1.15" fill="#FFC000"/><circle cx="632.6" cy="59.5" r="1.15" fill="#FFC000"/><circle cx="636.2" cy="60.6" r="1.15" fill="#FFC000"/><circle cx="634.6" cy="47.2" r="1.15" fill="#FFC000"/><circle cx="610.3" cy="53.7" r="1.15" fill="#70AD47"/><circle cx="632.2" cy="54.3" r="1.15" fill="#ED7D31"/><circle cx="629.4" cy="53.2" r="1.15" fill="#70AD47"/><circle cx="614.6" cy="51.7" r="1.15" fill="#70AD47"/><circle cx="625.9" cy="49.8" r="1.15" fill="#FFC000"/><circle cx="633.8" cy="52.5" r="1.15" fill="#5B9BD5"/><circle cx="647.4" cy="42.8" r="1.15" fill="#ED7D31"/><circle cx="638.6" cy="54.1" r="1.15" fill="#FFC000"/><circle cx="635.9" cy="47.1" r="1.15" fill="#FFC000"/><circle cx="629.9" cy="50.3" r="1.15" fill="#FFC000"/><circle cx="628.2" cy="59.4" r="1.15" fill="#FFC000"/><circle cx="650.2" cy="51.1" r="1.15" fill="#ED7D31"/><circle cx="632.1" cy="51.3" r="1.15" fill="#FFC000"/><circle cx="600.0" cy="45.8" r="1.15" fill="#70AD47"/><circle cx="614.8" cy="69.7" r="1.15" fill="#5B9BD5"/><circle cx="633.9" cy="48.8" r="1.15" fill="#FFC000"/><circle cx="604.8" cy="40.8" r="1.15" fill="#70AD47"/><circle cx="619.7" cy="50.5" r="1.15" fill="#70AD47"/><circle cx="601.0" cy="49.4" r="1.15" fill="#70AD47"/><circle cx="638.3" cy="53.2" r="1.15" fill="#ED7D31"/><circle cx="629.8" cy="58.1" r="1.15" fill="#FFC000"/><circle cx="637.3" cy="50.8" r="1.15" fill="#ED7D31"/><circle cx="607.7" cy="53.5" r="1.15" fill="#70AD47"/><circle cx="613.8" cy="48.6" r="1.15" fill="#70AD47"/><circle cx="620.0" cy="43.8" r="1.15" fill="#70AD47"/><circle cx="644.4" cy="51.7" r="1.15" fill="#FFC000"/><circle cx="616.7" cy="48.4" r="1.15" fill="#70AD47"/><circle cx="634.8" cy="50.3" r="1.15" fill="#ED7D31"/><circle cx="645.5" cy="63.2" r="1.15" fill="#FFC000"/><circle cx="611.8" cy="44.7" r="1.15" fill="#70AD47"/><circle cx="621.0" cy="49.4" r="1.15" fill="#FFC000"/><circle cx="634.9" cy="53.1" r="1.15" fill="#ED7D31"/><circle cx="630.1" cy="53.6" r="1.15" fill="#70AD47"/><circle cx="608.6" cy="39.5" r="1.15" fill="#70AD47"/><circle cx="630.6" cy="57.5" r="1.15" fill="#FFC000"/><circle cx="624.5" cy="51.9" r="1.15" fill="#70AD47"/><circle cx="601.5" cy="49.0" r="1.15" fill="#70AD47"/><circle cx="634.0" cy="50.8" r="1.15" fill="#70AD47"/><circle cx="636.2" cy="52.3" r="1.15" fill="#ED7D31"/><circle cx="617.4" cy="50.0" r="1.15" fill="#70AD47"/><circle cx="634.8" cy="48.9" r="1.15" fill="#FFC000"/><circle cx="644.1" cy="48.3" r="1.15" fill="#FFC000"/><circle cx="623.3" cy="47.4" r="1.15" fill="#ED7D31"/><circle cx="651.0" cy="55.5" r="1.15" fill="#A5A5A5"/><circle cx="622.1" cy="49.5" r="1.15" fill="#70AD47"/><circle cx="639.8" cy="54.7" r="1.15" fill="#A5A5A5"/><circle cx="643.3" cy="55.0" r="1.15" fill="#A5A5A5"/><circle cx="629.8" cy="64.5" r="1.15" fill="#A5A5A5"/><circle cx="638.0" cy="51.3" r="1.15" fill="#FFC000"/><circle cx="627.5" cy="53.8" r="1.15" fill="#ED7D31"/><circle cx="621.8" cy="55.1" r="1.15" fill="#FFC000"/><circle cx="627.7" cy="51.0" r="1.15" fill="#70AD47"/><circle cx="632.3" cy="54.7" r="1.15" fill="#A5A5A5"/><circle cx="606.1" cy="55.0" r="1.15" fill="#70AD47"/><circle cx="633.2" cy="56.4" r="1.15" fill="#A5A5A5"/><circle cx="638.0" cy="53.7" r="1.15" fill="#A5A5A5"/><circle cx="623.0" cy="58.3" r="1.15" fill="#70AD47"/><circle cx="628.0" cy="55.4" r="1.15" fill="#70AD47"/><circle cx="617.1" cy="47.5" r="1.15" fill="#70AD47"/><circle cx="627.8" cy="52.1" r="1.15" fill="#70AD47"/><circle cx="636.0" cy="60.7" r="1.15" fill="#A5A5A5"/><circle cx="610.0" cy="43.0" r="1.15" fill="#70AD47"/><circle cx="618.8" cy="63.6" r="1.15" fill="#5B9BD5"/><circle cx="644.4" cy="55.8" r="1.15" fill="#A5A5A5"/><circle cx="628.3" cy="46.9" r="1.15" fill="#FFC000"/><circle cx="642.5" cy="53.4" r="1.15" fill="#FFC000"/><circle cx="637.8" cy="54.1" r="1.15" fill="#ED7D31"/><circle cx="630.5" cy="52.4" r="1.15" fill="#5B9BD5"/><circle cx="623.8" cy="50.6" r="1.15" fill="#FFC000"/><circle cx="624.7" cy="59.5" r="1.15" fill="#FFC000"/><circle cx="623.1" cy="53.7" r="1.15" fill="#70AD47"/><circle cx="622.7" cy="52.9" r="1.15" fill="#70AD47"/><circle cx="630.1" cy="47.8" r="1.15" fill="#FFC000"/><circle cx="634.1" cy="54.5" r="1.15" fill="#FFC000"/><circle cx="619.0" cy="50.8" r="1.15" fill="#70AD47"/><circle cx="643.5" cy="48.6" r="1.15" fill="#FFC000"/><circle cx="625.4" cy="55.7" r="1.15" fill="#FFC000"/><circle cx="627.3" cy="55.7" r="1.15" fill="#70AD47"/><circle cx="614.1" cy="60.3" r="1.15" fill="#5B9BD5"/><circle cx="633.8" cy="49.5" r="1.15" fill="#FFC000"/><circle cx="634.8" cy="56.4" r="1.15" fill="#A5A5A5"/><circle cx="616.0" cy="43.5" r="1.15" fill="#5B9BD5"/><circle cx="624.3" cy="52.8" r="1.15" fill="#FFC000"/><circle cx="644.6" cy="55.4" r="1.15" fill="#FFC000"/><circle cx="627.0" cy="62.6" r="1.15" fill="#5B9BD5"/><circle cx="648.6" cy="56.9" r="1.15" fill="#A5A5A5"/><circle cx="632.8" cy="46.3" r="1.15" fill="#ED7D31"/><circle cx="623.4" cy="43.9" r="1.15" fill="#70AD47"/><circle cx="630.5" cy="52.2" r="1.15" fill="#FFC000"/><circle cx="627.2" cy="59.1" r="1.15" fill="#A5A5A5"/><circle cx="638.6" cy="48.4" r="1.15" fill="#A5A5A5"/><circle cx="647.5" cy="57.8" r="1.15" fill="#A5A5A5"/><circle cx="641.9" cy="55.1" r="1.15" fill="#A5A5A5"/><circle cx="656.1" cy="55.4" r="1.15" fill="#5B9BD5"/><circle cx="638.5" cy="42.4" r="1.15" fill="#ED7D31"/><circle cx="629.6" cy="50.6" r="1.15" fill="#70AD47"/><circle cx="619.6" cy="51.6" r="1.15" fill="#70AD47"/><circle cx="634.9" cy="43.9" r="1.15" fill="#FFC000"/><circle cx="625.1" cy="49.6" r="1.15" fill="#70AD47"/><circle cx="642.3" cy="63.0" r="1.15" fill="#A5A5A5"/><circle cx="625.3" cy="47.7" r="1.15" fill="#70AD47"/><circle cx="630.9" cy="58.8" r="1.15" fill="#A5A5A5"/><circle cx="622.4" cy="46.4" r="1.15" fill="#70AD47"/><circle cx="627.0" cy="62.8" r="1.15" fill="#A5A5A5"/><circle cx="639.8" cy="59.8" r="1.15" fill="#A5A5A5"/><circle cx="637.4" cy="56.2" r="1.15" fill="#A5A5A5"/><circle cx="645.8" cy="58.1" r="1.15" fill="#FFC000"/><circle cx="627.1" cy="54.9" r="1.15" fill="#A5A5A5"/><circle cx="626.3" cy="57.4" r="1.15" fill="#FFC000"/><circle cx="640.3" cy="54.8" r="1.15" fill="#A5A5A5"/><circle cx="624.0" cy="53.8" r="1.15" fill="#FFC000"/><circle cx="638.8" cy="46.3" r="1.15" fill="#FFC000"/><circle cx="611.7" cy="55.8" r="1.15" fill="#70AD47"/><circle cx="632.5" cy="52.0" r="1.15" fill="#A5A5A5"/><circle cx="634.6" cy="56.0" r="1.15" fill="#A5A5A5"/><circle cx="630.4" cy="34.8" r="1.15" fill="#70AD47"/><circle cx="634.0" cy="53.1" r="1.15" fill="#FFC000"/><circle cx="634.2" cy="54.8" r="1.15" fill="#FFC000"/><circle cx="628.8" cy="40.5" r="1.15" fill="#70AD47"/><circle cx="619.5" cy="49.4" r="1.15" fill="#70AD47"/><circle cx="633.1" cy="51.4" r="1.15" fill="#FFC000"/><circle cx="629.2" cy="50.7" r="1.15" fill="#70AD47"/><circle cx="637.0" cy="59.6" r="1.15" fill="#FFC000"/><circle cx="634.0" cy="55.8" r="1.15" fill="#FFC000"/><circle cx="630.8" cy="45.8" r="1.15" fill="#70AD47"/><circle cx="594.7" cy="44.4" r="1.15" fill="#70AD47"/><circle cx="623.6" cy="50.1" r="1.15" fill="#70AD47"/><circle cx="641.9" cy="49.0" r="1.15" fill="#A5A5A5"/><circle cx="621.1" cy="48.1" r="1.15" fill="#FFC000"/><circle cx="640.6" cy="56.0" r="1.15" fill="#A5A5A5"/><circle cx="629.5" cy="58.6" r="1.15" fill="#A5A5A5"/><circle cx="631.3" cy="51.3" r="1.15" fill="#ED7D31"/><circle cx="626.2" cy="53.2" r="1.15" fill="#70AD47"/><circle cx="627.1" cy="55.9" r="1.15" fill="#70AD47"/><circle cx="636.0" cy="56.3" r="1.15" fill="#A5A5A5"/><circle cx="629.9" cy="61.6" r="1.15" fill="#A5A5A5"/><circle cx="610.6" cy="55.8" r="1.15" fill="#70AD47"/><circle cx="631.8" cy="62.5" r="1.15" fill="#A5A5A5"/><circle cx="631.7" cy="46.2" r="1.15" fill="#ED7D31"/><circle cx="617.6" cy="51.5" r="1.15" fill="#70AD47"/><circle cx="638.2" cy="48.8" r="1.15" fill="#FFC000"/><circle cx="634.8" cy="61.1" r="1.15" fill="#A5A5A5"/><circle cx="648.5" cy="64.3" r="1.15" fill="#A5A5A5"/><circle cx="645.2" cy="56.5" r="1.15" fill="#FFC000"/><circle cx="642.3" cy="56.9" r="1.15" fill="#A5A5A5"/><circle cx="634.2" cy="52.2" r="1.15" fill="#70AD47"/><circle cx="623.1" cy="55.4" r="1.15" fill="#70AD47"/><circle cx="623.0" cy="53.4" r="1.15" fill="#70AD47"/><circle cx="621.6" cy="46.6" r="1.15" fill="#70AD47"/><circle cx="658.5" cy="30.8" r="1.15" fill="#A5A5A5"/><circle cx="636.9" cy="61.6" r="1.15" fill="#A5A5A5"/><circle cx="643.6" cy="53.9" r="1.15" fill="#FFC000"/><circle cx="629.6" cy="53.6" r="1.15" fill="#A5A5A5"/><circle cx="639.3" cy="52.4" r="1.15" fill="#FFC000"/><circle cx="611.3" cy="50.6" r="1.15" fill="#70AD47"/><circle cx="605.2" cy="47.3" r="1.15" fill="#70AD47"/><circle cx="643.7" cy="51.9" r="1.15" fill="#A5A5A5"/><circle cx="646.0" cy="56.6" r="1.15" fill="#A5A5A5"/><circle cx="620.3" cy="46.7" r="1.15" fill="#70AD47"/><circle cx="608.9" cy="45.1" r="1.15" fill="#70AD47"/><circle cx="637.9" cy="53.6" r="1.15" fill="#A5A5A5"/><circle cx="628.0" cy="49.7" r="1.15" fill="#A5A5A5"/><circle cx="629.8" cy="47.4" r="1.15" fill="#ED7D31"/><circle cx="634.4" cy="54.4" r="1.15" fill="#A5A5A5"/><circle cx="626.5" cy="45.0" r="1.15" fill="#70AD47"/><circle cx="643.7" cy="57.2" r="1.15" fill="#A5A5A5"/><circle cx="634.7" cy="47.4" r="1.15" fill="#70AD47"/><circle cx="630.1" cy="55.9" r="1.15" fill="#A5A5A5"/><circle cx="620.1" cy="42.7" r="1.15" fill="#70AD47"/><circle cx="630.9" cy="51.9" r="1.15" fill="#FFC000"/><circle cx="647.4" cy="52.6" r="1.15" fill="#FFC000"/><circle cx="636.0" cy="52.1" r="1.15" fill="#FFC000"/><circle cx="639.6" cy="61.5" r="1.15" fill="#A5A5A5"/><circle cx="639.2" cy="55.5" r="1.15" fill="#A5A5A5"/><circle cx="635.0" cy="52.4" r="1.15" fill="#FFC000"/><circle cx="628.1" cy="49.2" r="1.15" fill="#FFC000"/><circle cx="639.2" cy="56.8" r="1.15" fill="#A5A5A5"/><circle cx="623.6" cy="56.5" r="1.15" fill="#FFC000"/><circle cx="596.5" cy="40.8" r="1.15" fill="#70AD47"/><circle cx="644.7" cy="53.7" r="1.15" fill="#FFC000"/><circle cx="637.9" cy="53.2" r="1.15" fill="#FFC000"/><circle cx="628.7" cy="66.7" r="1.15" fill="#A5A5A5"/><circle cx="638.6" cy="51.3" r="1.15" fill="#A5A5A5"/><circle cx="614.2" cy="52.4" r="1.15" fill="#70AD47"/><circle cx="617.0" cy="53.7" r="1.15" fill="#70AD47"/><circle cx="606.0" cy="42.7" r="1.15" fill="#70AD47"/><circle cx="643.5" cy="46.2" r="1.15" fill="#FFC000"/><circle cx="629.0" cy="58.0" r="1.15" fill="#70AD47"/><circle cx="633.2" cy="52.4" r="1.15" fill="#FFC000"/><circle cx="631.8" cy="50.7" r="1.15" fill="#70AD47"/><circle cx="628.2" cy="46.3" r="1.15" fill="#70AD47"/><circle cx="619.7" cy="45.5" r="1.15" fill="#70AD47"/><circle cx="612.4" cy="52.2" r="1.15" fill="#70AD47"/><circle cx="618.0" cy="54.8" r="1.15" fill="#FFC000"/><circle cx="650.7" cy="59.6" r="1.15" fill="#A5A5A5"/><circle cx="617.6" cy="47.4" r="1.15" fill="#70AD47"/><circle cx="629.6" cy="57.1" r="1.15" fill="#A5A5A5"/><circle cx="640.1" cy="50.4" r="1.15" fill="#FFC000"/><circle cx="642.0" cy="58.9" r="1.15" fill="#A5A5A5"/><circle cx="629.3" cy="49.3" r="1.15" fill="#70AD47"/><circle cx="636.9" cy="51.9" r="1.15" fill="#FFC000"/><circle cx="645.0" cy="76.9" r="1.15" fill="#A5A5A5"/><circle cx="632.2" cy="60.1" r="1.15" fill="#FFC000"/><circle cx="632.6" cy="59.4" r="1.15" fill="#A5A5A5"/><circle cx="640.0" cy="58.8" r="1.15" fill="#FFC000"/><circle cx="613.7" cy="44.7" r="1.15" fill="#70AD47"/><circle cx="620.8" cy="49.7" r="1.15" fill="#70AD47"/><circle cx="643.2" cy="50.8" r="1.15" fill="#A5A5A5"/><circle cx="658.9" cy="45.4" r="1.15" fill="#A5A5A5"/><circle cx="607.3" cy="50.3" r="1.15" fill="#70AD47"/><circle cx="645.7" cy="58.3" r="1.15" fill="#FFC000"/><circle cx="630.0" cy="46.7" r="1.15" fill="#70AD47"/><circle cx="643.7" cy="53.3" r="1.15" fill="#A5A5A5"/><circle cx="640.7" cy="53.9" r="1.15" fill="#A5A5A5"/><circle cx="619.5" cy="41.5" r="1.15" fill="#70AD47"/><circle cx="628.8" cy="45.1" r="1.15" fill="#70AD47"/><circle cx="636.3" cy="58.0" r="1.15" fill="#A5A5A5"/><circle cx="630.4" cy="44.6" r="1.15" fill="#FFC000"/><circle cx="634.8" cy="48.8" r="1.15" fill="#A5A5A5"/><circle cx="628.4" cy="53.6" r="1.15" fill="#FFC000"/><circle cx="635.4" cy="41.5" r="1.15" fill="#FFC000"/><circle cx="626.3" cy="55.8" r="1.15" fill="#70AD47"/><circle cx="626.3" cy="53.2" r="1.15" fill="#FFC000"/><circle cx="643.9" cy="53.4" r="1.15" fill="#FFC000"/><circle cx="625.2" cy="56.1" r="1.15" fill="#FFC000"/><circle cx="653.0" cy="29.8" r="1.15" fill="#A5A5A5"/><circle cx="639.9" cy="49.0" r="1.15" fill="#A5A5A5"/><circle cx="623.7" cy="49.2" r="1.15" fill="#70AD47"/><circle cx="618.8" cy="59.2" r="1.15" fill="#FFC000"/><circle cx="631.9" cy="53.5" r="1.15" fill="#FFC000"/><circle cx="637.2" cy="54.9" r="1.15" fill="#A5A5A5"/><circle cx="637.2" cy="49.0" r="1.15" fill="#FFC000"/><circle cx="642.4" cy="51.6" r="1.15" fill="#A5A5A5"/><circle cx="630.3" cy="50.0" r="1.15" fill="#FFC000"/><circle cx="648.6" cy="54.8" r="1.15" fill="#A5A5A5"/><circle cx="642.9" cy="55.0" r="1.15" fill="#FFC000"/><circle cx="623.8" cy="56.8" r="1.15" fill="#A5A5A5"/><circle cx="646.3" cy="53.7" r="1.15" fill="#FFC000"/><circle cx="650.2" cy="56.0" r="1.15" fill="#A5A5A5"/><circle cx="633.5" cy="53.6" r="1.15" fill="#FFC000"/><circle cx="628.3" cy="55.2" r="1.15" fill="#A5A5A5"/><circle cx="635.8" cy="54.1" r="1.15" fill="#FFC000"/><circle cx="639.0" cy="49.5" r="1.15" fill="#A5A5A5"/><circle cx="636.0" cy="52.4" r="1.15" fill="#FFC000"/><circle cx="639.1" cy="61.0" r="1.15" fill="#A5A5A5"/><circle cx="634.7" cy="52.1" r="1.15" fill="#FFC000"/><circle cx="634.1" cy="62.1" r="1.15" fill="#A5A5A5"/><circle cx="635.1" cy="62.4" r="1.15" fill="#A5A5A5"/><circle cx="629.4" cy="64.0" r="1.15" fill="#FFC000"/><circle cx="642.9" cy="55.0" r="1.15" fill="#A5A5A5"/><circle cx="636.9" cy="52.3" r="1.15" fill="#FFC000"/><circle cx="631.1" cy="56.7" r="1.15" fill="#FFC000"/><circle cx="625.4" cy="59.2" r="1.15" fill="#A5A5A5"/><circle cx="640.0" cy="50.6" r="1.15" fill="#A5A5A5"/><circle cx="635.3" cy="49.8" r="1.15" fill="#FFC000"/><circle cx="627.2" cy="62.0" r="1.15" fill="#FFC000"/><circle cx="627.9" cy="57.1" r="1.15" fill="#A5A5A5"/><circle cx="646.6" cy="60.6" r="1.15" fill="#A5A5A5"/><circle cx="665.8" cy="54.4" r="1.15" fill="#FFC000"/><circle cx="642.4" cy="57.6" r="1.15" fill="#A5A5A5"/><circle cx="640.8" cy="55.6" r="1.15" fill="#A5A5A5"/><circle cx="631.1" cy="54.8" r="1.15" fill="#FFC000"/><circle cx="638.7" cy="60.4" r="1.15" fill="#A5A5A5"/><circle cx="648.0" cy="62.0" r="1.15" fill="#A5A5A5"/><circle cx="632.8" cy="66.4" r="1.15" fill="#A5A5A5"/><circle cx="642.9" cy="60.0" r="1.15" fill="#A5A5A5"/><circle cx="636.1" cy="52.8" r="1.15" fill="#A5A5A5"/><circle cx="638.9" cy="55.2" r="1.15" fill="#A5A5A5"/><circle cx="636.3" cy="57.2" r="1.15" fill="#FFC000"/><circle cx="636.3" cy="55.1" r="1.15" fill="#A5A5A5"/><circle cx="633.6" cy="59.1" r="1.15" fill="#FFC000"/><circle cx="634.4" cy="56.1" r="1.15" fill="#A5A5A5"/><circle cx="634.0" cy="49.8" r="1.15" fill="#FFC000"/><circle cx="638.9" cy="52.3" r="1.15" fill="#FFC000"/><circle cx="641.0" cy="44.5" r="1.15" fill="#FFC000"/><circle cx="628.6" cy="63.5" r="1.15" fill="#A5A5A5"/><circle cx="634.9" cy="63.2" r="1.15" fill="#A5A5A5"/><circle cx="638.4" cy="53.6" r="1.15" fill="#A5A5A5"/><circle cx="649.8" cy="56.0" r="1.15" fill="#A5A5A5"/><circle cx="629.4" cy="61.5" r="1.15" fill="#A5A5A5"/><circle cx="627.3" cy="56.1" r="1.15" fill="#A5A5A5"/><circle cx="647.9" cy="55.3" r="1.15" fill="#A5A5A5"/><circle cx="632.4" cy="61.4" r="1.15" fill="#A5A5A5"/><circle cx="636.0" cy="53.8" r="1.15" fill="#A5A5A5"/><circle cx="628.8" cy="57.7" r="1.15" fill="#A5A5A5"/><circle cx="639.7" cy="64.4" r="1.15" fill="#A5A5A5"/><circle cx="640.4" cy="50.3" r="1.15" fill="#A5A5A5"/><circle cx="624.6" cy="55.5" r="1.15" fill="#A5A5A5"/><circle cx="626.9" cy="61.3" r="1.15" fill="#A5A5A5"/><circle cx="636.1" cy="64.4" r="1.15" fill="#A5A5A5"/><circle cx="641.5" cy="51.7" r="1.15" fill="#A5A5A5"/><circle cx="616.9" cy="54.4" r="1.15" fill="#A5A5A5"/><circle cx="640.1" cy="54.1" r="1.15" fill="#A5A5A5"/><circle cx="641.5" cy="64.0" r="1.15" fill="#A5A5A5"/><circle cx="635.9" cy="58.2" r="1.15" fill="#A5A5A5"/><circle cx="645.7" cy="71.3" r="1.15" fill="#A5A5A5"/>
<g font-size="7.7" fill="#3A3A3A" style="stroke:#3A3A3A;stroke-width:0.18px">
<text transform="translate(571.1 5.8) scale(1.13 1)" text-anchor="end">15</text>
<text transform="translate(571.1 38.9) scale(1.13 1)" text-anchor="end">5</text>
<text transform="translate(571.1 72.1) scale(1.13 1)" text-anchor="end">-5</text>
<text transform="translate(571.1 105.2) scale(1.13 1)" text-anchor="end">-15</text>
<text transform="translate(577.4 114.9) scale(1.13 1)" text-anchor="middle">-15</text>
<text transform="translate(612.1 114.9) scale(1.13 1)" text-anchor="middle">-5</text>
<text transform="translate(646.7 114.9) scale(1.13 1)" text-anchor="middle">5</text>
<text transform="translate(681.4 114.9) scale(1.13 1)" text-anchor="middle">15</text>
</g>
<text x="624.1" y="129.3" font-size="14.2" fill="#111">P<tspan font-size="9.2" dy="2.7">h~</tspan></text>
<g stroke="#404040" stroke-width="1.2" fill="none">
<rect x="170.6" y="144.6" width="104.0" height="99.4"/>
<line x1="222.6" y1="144.6" x2="222.6" y2="244.0"/>
<line x1="170.6" y1="194.3" x2="274.6" y2="194.3"/>
</g>
<circle cx="222.7" cy="178.7" r="1.15" fill="#5B9BD5"/><circle cx="232.5" cy="190.7" r="1.15" fill="#5B9BD5"/><circle cx="217.4" cy="181.0" r="1.15" fill="#5B9BD5"/><circle cx="227.1" cy="181.7" r="1.15" fill="#5B9BD5"/><circle cx="220.2" cy="185.5" r="1.15" fill="#5B9BD5"/><circle cx="221.4" cy="182.4" r="1.15" fill="#5B9BD5"/><circle cx="230.6" cy="182.0" r="1.15" fill="#5B9BD5"/><circle cx="235.1" cy="172.6" r="1.15" fill="#5B9BD5"/><circle cx="226.8" cy="175.8" r="1.15" fill="#5B9BD5"/><circle cx="225.1" cy="184.3" r="1.15" fill="#5B9BD5"/><circle cx="227.5" cy="184.7" r="1.15" fill="#5B9BD5"/><circle cx="250.3" cy="175.7" r="1.15" fill="#5B9BD5"/><circle cx="221.9" cy="180.7" r="1.15" fill="#5B9BD5"/><circle cx="222.3" cy="198.6" r="1.15" fill="#5B9BD5"/><circle cx="270.8" cy="199.6" r="1.15" fill="#5B9BD5"/><circle cx="230.7" cy="187.7" r="1.15" fill="#5B9BD5"/><circle cx="217.7" cy="185.4" r="1.15" fill="#ED7D31"/><circle cx="223.4" cy="187.7" r="1.15" fill="#ED7D31"/><circle cx="221.5" cy="184.8" r="1.15" fill="#ED7D31"/><circle cx="222.4" cy="192.0" r="1.15" fill="#ED7D31"/><circle cx="227.7" cy="186.2" r="1.15" fill="#ED7D31"/><circle cx="232.0" cy="179.4" r="1.15" fill="#ED7D31"/><circle cx="222.8" cy="187.7" r="1.15" fill="#ED7D31"/><circle cx="229.8" cy="192.5" r="1.15" fill="#ED7D31"/><circle cx="215.3" cy="185.7" r="1.15" fill="#ED7D31"/><circle cx="223.4" cy="187.7" r="1.15" fill="#ED7D31"/><circle cx="223.0" cy="185.0" r="1.15" fill="#ED7D31"/><circle cx="203.5" cy="214.2" r="1.15" fill="#ED7D31"/><circle cx="226.6" cy="186.9" r="1.15" fill="#ED7D31"/><circle cx="224.0" cy="184.1" r="1.15" fill="#ED7D31"/><circle cx="219.6" cy="191.3" r="1.15" fill="#ED7D31"/><circle cx="223.0" cy="181.1" r="1.15" fill="#ED7D31"/><circle cx="241.7" cy="175.1" r="1.15" fill="#ED7D31"/><circle cx="226.2" cy="185.5" r="1.15" fill="#ED7D31"/><circle cx="222.2" cy="181.2" r="1.15" fill="#ED7D31"/><circle cx="200.8" cy="214.8" r="1.15" fill="#ED7D31"/><circle cx="222.3" cy="183.4" r="1.15" fill="#ED7D31"/><circle cx="215.1" cy="182.8" r="1.15" fill="#ED7D31"/><circle cx="220.8" cy="188.1" r="1.15" fill="#ED7D31"/><circle cx="228.4" cy="190.1" r="1.15" fill="#ED7D31"/><circle cx="245.5" cy="183.0" r="1.15" fill="#ED7D31"/><circle cx="219.9" cy="187.1" r="1.15" fill="#ED7D31"/><circle cx="222.4" cy="190.3" r="1.15" fill="#ED7D31"/><circle cx="226.4" cy="187.3" r="1.15" fill="#ED7D31"/><circle cx="235.4" cy="175.1" r="1.15" fill="#ED7D31"/><circle cx="220.2" cy="187.4" r="1.15" fill="#ED7D31"/><circle cx="221.2" cy="187.1" r="1.15" fill="#ED7D31"/><circle cx="223.6" cy="186.4" r="1.15" fill="#ED7D31"/><circle cx="221.5" cy="184.6" r="1.15" fill="#ED7D31"/><circle cx="216.4" cy="185.0" r="1.15" fill="#ED7D31"/><circle cx="225.5" cy="189.6" r="1.15" fill="#ED7D31"/><circle cx="218.9" cy="190.4" r="1.15" fill="#ED7D31"/><circle cx="209.4" cy="211.5" r="1.15" fill="#70AD47"/><circle cx="228.5" cy="201.5" r="1.15" fill="#70AD47"/><circle cx="226.4" cy="182.0" r="1.15" fill="#70AD47"/><circle cx="219.7" cy="193.1" r="1.15" fill="#70AD47"/><circle cx="193.8" cy="235.1" r="1.15" fill="#70AD47"/><circle cx="234.7" cy="186.5" r="1.15" fill="#70AD47"/><circle cx="214.6" cy="193.2" r="1.15" fill="#70AD47"/><circle cx="190.4" cy="231.1" r="1.15" fill="#70AD47"/><circle cx="219.2" cy="189.1" r="1.15" fill="#70AD47"/><circle cx="218.1" cy="194.3" r="1.15" fill="#70AD47"/><circle cx="229.8" cy="186.3" r="1.15" fill="#70AD47"/><circle cx="220.3" cy="196.1" r="1.15" fill="#70AD47"/><circle cx="248.6" cy="172.6" r="1.15" fill="#70AD47"/><circle cx="233.8" cy="197.0" r="1.15" fill="#70AD47"/><circle cx="244.1" cy="184.0" r="1.15" fill="#70AD47"/><circle cx="221.4" cy="187.7" r="1.15" fill="#70AD47"/><circle cx="219.6" cy="206.5" r="1.15" fill="#70AD47"/><circle cx="230.6" cy="203.9" r="1.15" fill="#70AD47"/><circle cx="236.5" cy="191.3" r="1.15" fill="#70AD47"/><circle cx="218.4" cy="200.2" r="1.15" fill="#70AD47"/><circle cx="196.9" cy="231.9" r="1.15" fill="#70AD47"/><circle cx="236.8" cy="190.5" r="1.15" fill="#70AD47"/><circle cx="220.9" cy="204.0" r="1.15" fill="#70AD47"/><circle cx="214.7" cy="192.9" r="1.15" fill="#70AD47"/><circle cx="222.1" cy="186.4" r="1.15" fill="#70AD47"/><circle cx="226.8" cy="193.0" r="1.15" fill="#70AD47"/><circle cx="223.0" cy="200.3" r="1.15" fill="#70AD47"/><circle cx="223.6" cy="194.9" r="1.15" fill="#70AD47"/><circle cx="231.3" cy="188.7" r="1.15" fill="#70AD47"/><circle cx="268.0" cy="147.9" r="1.15" fill="#70AD47"/><circle cx="216.4" cy="198.4" r="1.15" fill="#70AD47"/><circle cx="240.6" cy="181.0" r="1.15" fill="#70AD47"/><circle cx="226.0" cy="193.4" r="1.15" fill="#FFC000"/><circle cx="227.4" cy="195.4" r="1.15" fill="#FFC000"/><circle cx="228.8" cy="195.2" r="1.15" fill="#FFC000"/><circle cx="226.9" cy="192.5" r="1.15" fill="#FFC000"/><circle cx="230.5" cy="197.0" r="1.15" fill="#FFC000"/><circle cx="225.7" cy="201.9" r="1.15" fill="#FFC000"/><circle cx="227.1" cy="196.2" r="1.15" fill="#FFC000"/><circle cx="225.1" cy="201.6" r="1.15" fill="#FFC000"/><circle cx="229.2" cy="193.8" r="1.15" fill="#FFC000"/><circle cx="230.8" cy="200.3" r="1.15" fill="#FFC000"/><circle cx="228.5" cy="200.3" r="1.15" fill="#FFC000"/><circle cx="226.1" cy="197.8" r="1.15" fill="#FFC000"/><circle cx="226.0" cy="200.9" r="1.15" fill="#FFC000"/><circle cx="230.2" cy="196.6" r="1.15" fill="#FFC000"/><circle cx="228.0" cy="193.8" r="1.15" fill="#FFC000"/><circle cx="223.1" cy="200.5" r="1.15" fill="#FFC000"/><circle cx="231.6" cy="198.7" r="1.15" fill="#FFC000"/><circle cx="228.3" cy="194.3" r="1.15" fill="#FFC000"/><circle cx="228.4" cy="191.8" r="1.15" fill="#FFC000"/><circle cx="225.8" cy="193.0" r="1.15" fill="#FFC000"/><circle cx="233.3" cy="189.0" r="1.15" fill="#FFC000"/><circle cx="228.6" cy="199.8" r="1.15" fill="#FFC000"/><circle cx="227.8" cy="195.9" r="1.15" fill="#FFC000"/><circle cx="225.5" cy="206.3" r="1.15" fill="#FFC000"/><circle cx="227.2" cy="198.0" r="1.15" fill="#FFC000"/><circle cx="228.9" cy="197.9" r="1.15" fill="#FFC000"/><circle cx="228.4" cy="198.6" r="1.15" fill="#FFC000"/><circle cx="235.1" cy="177.4" r="1.15" fill="#FFC000"/><circle cx="195.9" cy="233.4" r="1.15" fill="#FFC000"/><circle cx="228.9" cy="199.1" r="1.15" fill="#FFC000"/><circle cx="228.4" cy="201.3" r="1.15" fill="#FFC000"/><circle cx="223.9" cy="192.4" r="1.15" fill="#FFC000"/><circle cx="229.2" cy="196.5" r="1.15" fill="#FFC000"/><circle cx="230.8" cy="198.4" r="1.15" fill="#FFC000"/><circle cx="222.7" cy="203.4" r="1.15" fill="#FFC000"/><circle cx="225.9" cy="192.6" r="1.15" fill="#FFC000"/><circle cx="225.0" cy="204.5" r="1.15" fill="#FFC000"/><circle cx="223.6" cy="202.0" r="1.15" fill="#FFC000"/><circle cx="229.9" cy="196.5" r="1.15" fill="#FFC000"/><circle cx="224.8" cy="197.8" r="1.15" fill="#FFC000"/><circle cx="230.2" cy="192.0" r="1.15" fill="#FFC000"/><circle cx="225.7" cy="201.0" r="1.15" fill="#FFC000"/><circle cx="226.3" cy="200.0" r="1.15" fill="#FFC000"/><circle cx="232.0" cy="206.1" r="1.15" fill="#FFC000"/><circle cx="222.9" cy="197.3" r="1.15" fill="#FFC000"/><circle cx="228.8" cy="194.1" r="1.15" fill="#FFC000"/><circle cx="228.7" cy="199.1" r="1.15" fill="#FFC000"/><circle cx="223.8" cy="190.9" r="1.15" fill="#FFC000"/><circle cx="224.6" cy="197.8" r="1.15" fill="#FFC000"/><circle cx="227.4" cy="192.6" r="1.15" fill="#FFC000"/><circle cx="229.8" cy="195.7" r="1.15" fill="#FFC000"/><circle cx="231.5" cy="195.7" r="1.15" fill="#FFC000"/><circle cx="229.6" cy="195.7" r="1.15" fill="#FFC000"/><circle cx="196.3" cy="227.6" r="1.15" fill="#FFC000"/><circle cx="224.6" cy="191.9" r="1.15" fill="#FFC000"/><circle cx="230.6" cy="197.5" r="1.15" fill="#FFC000"/><circle cx="227.8" cy="196.7" r="1.15" fill="#FFC000"/><circle cx="231.5" cy="194.9" r="1.15" fill="#FFC000"/><circle cx="225.4" cy="200.0" r="1.15" fill="#FFC000"/><circle cx="227.0" cy="193.2" r="1.15" fill="#FFC000"/><circle cx="228.1" cy="202.1" r="1.15" fill="#FFC000"/><circle cx="190.4" cy="228.4" r="1.15" fill="#FFC000"/><circle cx="232.1" cy="190.9" r="1.15" fill="#FFC000"/><circle cx="227.1" cy="201.4" r="1.15" fill="#FFC000"/><circle cx="227.8" cy="200.0" r="1.15" fill="#FFC000"/><circle cx="229.1" cy="197.7" r="1.15" fill="#FFC000"/><circle cx="226.2" cy="202.5" r="1.15" fill="#FFC000"/><circle cx="223.4" cy="198.7" r="1.15" fill="#FFC000"/><circle cx="225.0" cy="202.5" r="1.15" fill="#FFC000"/><circle cx="230.9" cy="191.7" r="1.15" fill="#FFC000"/><circle cx="231.9" cy="195.6" r="1.15" fill="#FFC000"/><circle cx="230.7" cy="202.1" r="1.15" fill="#FFC000"/><circle cx="221.7" cy="197.3" r="1.15" fill="#FFC000"/><circle cx="228.2" cy="198.7" r="1.15" fill="#FFC000"/><circle cx="224.6" cy="198.1" r="1.15" fill="#FFC000"/><circle cx="229.4" cy="194.0" r="1.15" fill="#FFC000"/><circle cx="224.8" cy="201.8" r="1.15" fill="#FFC000"/><circle cx="226.4" cy="200.9" r="1.15" fill="#FFC000"/><circle cx="225.0" cy="193.3" r="1.15" fill="#FFC000"/><circle cx="224.6" cy="203.1" r="1.15" fill="#FFC000"/><circle cx="226.3" cy="200.4" r="1.15" fill="#FFC000"/><circle cx="223.7" cy="203.1" r="1.15" fill="#FFC000"/><circle cx="228.0" cy="200.7" r="1.15" fill="#FFC000"/><circle cx="225.2" cy="195.5" r="1.15" fill="#FFC000"/><circle cx="227.0" cy="197.3" r="1.15" fill="#FFC000"/><circle cx="226.7" cy="193.4" r="1.15" fill="#FFC000"/><circle cx="228.7" cy="196.1" r="1.15" fill="#FFC000"/><circle cx="228.3" cy="191.2" r="1.15" fill="#FFC000"/><circle cx="228.4" cy="202.5" r="1.15" fill="#FFC000"/><circle cx="225.8" cy="193.5" r="1.15" fill="#FFC000"/><circle cx="225.7" cy="192.7" r="1.15" fill="#FFC000"/><circle cx="226.3" cy="190.9" r="1.15" fill="#FFC000"/><circle cx="230.0" cy="191.0" r="1.15" fill="#FFC000"/><circle cx="227.0" cy="196.9" r="1.15" fill="#FFC000"/><circle cx="226.9" cy="199.6" r="1.15" fill="#FFC000"/><circle cx="228.4" cy="197.4" r="1.15" fill="#FFC000"/><circle cx="231.8" cy="196.9" r="1.15" fill="#FFC000"/><circle cx="221.7" cy="200.2" r="1.15" fill="#FFC000"/><circle cx="228.7" cy="204.9" r="1.15" fill="#FFC000"/><circle cx="226.8" cy="196.6" r="1.15" fill="#FFC000"/><circle cx="227.4" cy="197.9" r="1.15" fill="#FFC000"/><circle cx="228.8" cy="200.1" r="1.15" fill="#FFC000"/><circle cx="228.2" cy="192.8" r="1.15" fill="#FFC000"/><circle cx="228.2" cy="200.4" r="1.15" fill="#FFC000"/><circle cx="227.8" cy="198.0" r="1.15" fill="#FFC000"/><circle cx="226.4" cy="198.6" r="1.15" fill="#FFC000"/><circle cx="229.0" cy="199.5" r="1.15" fill="#FFC000"/><circle cx="236.8" cy="180.1" r="1.15" fill="#FFC000"/><circle cx="228.0" cy="195.9" r="1.15" fill="#FFC000"/><circle cx="226.9" cy="197.5" r="1.15" fill="#FFC000"/><circle cx="223.4" cy="200.0" r="1.15" fill="#FFC000"/><circle cx="228.6" cy="198.3" r="1.15" fill="#FFC000"/><circle cx="224.3" cy="197.0" r="1.15" fill="#FFC000"/><circle cx="226.1" cy="202.3" r="1.15" fill="#FFC000"/><circle cx="227.0" cy="206.2" r="1.15" fill="#FFC000"/><circle cx="231.8" cy="200.3" r="1.15" fill="#FFC000"/><circle cx="221.9" cy="192.8" r="1.15" fill="#A5A5A5"/><circle cx="224.9" cy="185.9" r="1.15" fill="#A5A5A5"/><circle cx="222.9" cy="195.2" r="1.15" fill="#A5A5A5"/><circle cx="222.7" cy="193.1" r="1.15" fill="#A5A5A5"/><circle cx="223.0" cy="192.4" r="1.15" fill="#A5A5A5"/><circle cx="221.2" cy="193.1" r="1.15" fill="#A5A5A5"/><circle cx="217.7" cy="193.5" r="1.15" fill="#A5A5A5"/><circle cx="226.2" cy="191.8" r="1.15" fill="#A5A5A5"/><circle cx="221.0" cy="197.2" r="1.15" fill="#A5A5A5"/><circle cx="222.3" cy="195.3" r="1.15" fill="#A5A5A5"/><circle cx="221.7" cy="194.2" r="1.15" fill="#A5A5A5"/><circle cx="225.1" cy="197.3" r="1.15" fill="#A5A5A5"/><circle cx="219.9" cy="185.8" r="1.15" fill="#A5A5A5"/><circle cx="222.3" cy="201.6" r="1.15" fill="#A5A5A5"/><circle cx="219.4" cy="194.9" r="1.15" fill="#A5A5A5"/><circle cx="217.0" cy="194.2" r="1.15" fill="#A5A5A5"/><circle cx="212.5" cy="192.3" r="1.15" fill="#A5A5A5"/><circle cx="221.8" cy="200.2" r="1.15" fill="#A5A5A5"/><circle cx="228.4" cy="194.8" r="1.15" fill="#A5A5A5"/><circle cx="219.2" cy="196.7" r="1.15" fill="#A5A5A5"/><circle cx="217.8" cy="196.0" r="1.15" fill="#A5A5A5"/><circle cx="224.0" cy="193.1" r="1.15" fill="#A5A5A5"/><circle cx="220.6" cy="200.1" r="1.15" fill="#A5A5A5"/><circle cx="223.4" cy="196.1" r="1.15" fill="#A5A5A5"/><circle cx="220.7" cy="190.8" r="1.15" fill="#A5A5A5"/><circle cx="227.3" cy="190.1" r="1.15" fill="#A5A5A5"/><circle cx="219.3" cy="198.7" r="1.15" fill="#A5A5A5"/><circle cx="217.4" cy="196.2" r="1.15" fill="#A5A5A5"/><circle cx="225.6" cy="190.7" r="1.15" fill="#A5A5A5"/><circle cx="222.4" cy="194.9" r="1.15" fill="#A5A5A5"/><circle cx="217.3" cy="184.8" r="1.15" fill="#A5A5A5"/><circle cx="226.5" cy="194.6" r="1.15" fill="#A5A5A5"/><circle cx="221.1" cy="190.8" r="1.15" fill="#A5A5A5"/><circle cx="221.3" cy="197.0" r="1.15" fill="#A5A5A5"/><circle cx="220.4" cy="194.9" r="1.15" fill="#A5A5A5"/><circle cx="233.3" cy="175.1" r="1.15" fill="#A5A5A5"/><circle cx="212.9" cy="194.9" r="1.15" fill="#A5A5A5"/><circle cx="219.1" cy="192.5" r="1.15" fill="#A5A5A5"/><circle cx="224.4" cy="193.5" r="1.15" fill="#A5A5A5"/><circle cx="221.2" cy="192.2" r="1.15" fill="#A5A5A5"/><circle cx="196.6" cy="182.0" r="1.15" fill="#A5A5A5"/><circle cx="219.5" cy="197.7" r="1.15" fill="#A5A5A5"/><circle cx="224.9" cy="196.0" r="1.15" fill="#A5A5A5"/><circle cx="221.0" cy="192.6" r="1.15" fill="#A5A5A5"/><circle cx="215.9" cy="192.7" r="1.15" fill="#A5A5A5"/><circle cx="221.2" cy="194.5" r="1.15" fill="#A5A5A5"/><circle cx="220.5" cy="188.9" r="1.15" fill="#A5A5A5"/><circle cx="214.6" cy="191.5" r="1.15" fill="#A5A5A5"/><circle cx="190.0" cy="230.4" r="1.15" fill="#A5A5A5"/><circle cx="217.7" cy="194.6" r="1.15" fill="#A5A5A5"/><circle cx="222.1" cy="191.3" r="1.15" fill="#A5A5A5"/><circle cx="216.5" cy="197.1" r="1.15" fill="#A5A5A5"/><circle cx="224.2" cy="191.4" r="1.15" fill="#A5A5A5"/><circle cx="221.6" cy="195.3" r="1.15" fill="#A5A5A5"/><circle cx="230.7" cy="191.5" r="1.15" fill="#A5A5A5"/><circle cx="221.9" cy="193.8" r="1.15" fill="#A5A5A5"/><circle cx="217.8" cy="196.1" r="1.15" fill="#A5A5A5"/><circle cx="220.9" cy="199.4" r="1.15" fill="#A5A5A5"/><circle cx="226.0" cy="191.8" r="1.15" fill="#A5A5A5"/><circle cx="227.1" cy="185.3" r="1.15" fill="#A5A5A5"/><circle cx="217.5" cy="194.9" r="1.15" fill="#A5A5A5"/><circle cx="225.1" cy="192.7" r="1.15" fill="#A5A5A5"/><circle cx="219.5" cy="199.1" r="1.15" fill="#A5A5A5"/><circle cx="221.9" cy="194.1" r="1.15" fill="#A5A5A5"/><circle cx="225.8" cy="195.5" r="1.15" fill="#A5A5A5"/><circle cx="219.7" cy="196.5" r="1.15" fill="#A5A5A5"/><circle cx="223.9" cy="194.8" r="1.15" fill="#A5A5A5"/><circle cx="226.1" cy="189.1" r="1.15" fill="#A5A5A5"/><circle cx="218.5" cy="196.5" r="1.15" fill="#A5A5A5"/><circle cx="222.9" cy="195.2" r="1.15" fill="#A5A5A5"/><circle cx="223.7" cy="192.4" r="1.15" fill="#A5A5A5"/><circle cx="218.9" cy="195.2" r="1.15" fill="#A5A5A5"/><circle cx="221.8" cy="192.0" r="1.15" fill="#A5A5A5"/><circle cx="219.6" cy="193.2" r="1.15" fill="#A5A5A5"/><circle cx="189.3" cy="228.4" r="1.15" fill="#A5A5A5"/><circle cx="218.6" cy="194.7" r="1.15" fill="#A5A5A5"/><circle cx="222.4" cy="196.0" r="1.15" fill="#A5A5A5"/><circle cx="188.5" cy="229.4" r="1.15" fill="#A5A5A5"/><circle cx="220.0" cy="193.1" r="1.15" fill="#A5A5A5"/><circle cx="224.9" cy="195.0" r="1.15" fill="#A5A5A5"/><circle cx="224.0" cy="193.2" r="1.15" fill="#A5A5A5"/><circle cx="217.9" cy="193.8" r="1.15" fill="#A5A5A5"/><circle cx="211.5" cy="202.6" r="1.15" fill="#A5A5A5"/><circle cx="223.1" cy="192.4" r="1.15" fill="#A5A5A5"/><circle cx="224.3" cy="193.2" r="1.15" fill="#A5A5A5"/><circle cx="219.8" cy="198.1" r="1.15" fill="#A5A5A5"/><circle cx="223.3" cy="193.0" r="1.15" fill="#A5A5A5"/><circle cx="224.3" cy="192.9" r="1.15" fill="#A5A5A5"/><circle cx="222.6" cy="191.3" r="1.15" fill="#A5A5A5"/><circle cx="220.9" cy="193.4" r="1.15" fill="#A5A5A5"/><circle cx="220.9" cy="196.6" r="1.15" fill="#A5A5A5"/><circle cx="221.3" cy="192.2" r="1.15" fill="#A5A5A5"/><circle cx="221.9" cy="191.9" r="1.15" fill="#A5A5A5"/><circle cx="221.9" cy="192.5" r="1.15" fill="#A5A5A5"/><circle cx="219.3" cy="197.1" r="1.15" fill="#A5A5A5"/><circle cx="220.6" cy="190.5" r="1.15" fill="#A5A5A5"/><circle cx="218.1" cy="194.9" r="1.15" fill="#A5A5A5"/><circle cx="221.7" cy="191.1" r="1.15" fill="#A5A5A5"/><circle cx="217.9" cy="191.4" r="1.15" fill="#A5A5A5"/><circle cx="224.0" cy="196.4" r="1.15" fill="#A5A5A5"/><circle cx="216.4" cy="196.6" r="1.15" fill="#A5A5A5"/><circle cx="214.4" cy="200.1" r="1.15" fill="#A5A5A5"/><circle cx="220.8" cy="193.2" r="1.15" fill="#A5A5A5"/><circle cx="224.2" cy="192.1" r="1.15" fill="#A5A5A5"/><circle cx="218.6" cy="197.2" r="1.15" fill="#A5A5A5"/><circle cx="215.8" cy="194.7" r="1.15" fill="#A5A5A5"/><circle cx="231.6" cy="195.8" r="1.15" fill="#A5A5A5"/><circle cx="217.4" cy="195.6" r="1.15" fill="#A5A5A5"/><circle cx="196.6" cy="208.9" r="1.15" fill="#A5A5A5"/><circle cx="220.2" cy="191.5" r="1.15" fill="#A5A5A5"/><circle cx="206.7" cy="178.4" r="1.15" fill="#A5A5A5"/><circle cx="224.1" cy="196.7" r="1.15" fill="#A5A5A5"/><circle cx="223.1" cy="192.6" r="1.15" fill="#A5A5A5"/><circle cx="215.2" cy="195.0" r="1.15" fill="#A5A5A5"/><circle cx="222.8" cy="190.6" r="1.15" fill="#A5A5A5"/><circle cx="219.7" cy="199.8" r="1.15" fill="#A5A5A5"/><circle cx="221.6" cy="196.8" r="1.15" fill="#A5A5A5"/><circle cx="218.6" cy="192.1" r="1.15" fill="#A5A5A5"/><circle cx="226.8" cy="198.8" r="1.15" fill="#A5A5A5"/><circle cx="215.1" cy="191.6" r="1.15" fill="#A5A5A5"/><circle cx="219.9" cy="194.2" r="1.15" fill="#A5A5A5"/><circle cx="220.3" cy="202.2" r="1.15" fill="#A5A5A5"/><circle cx="221.7" cy="194.3" r="1.15" fill="#A5A5A5"/>
<g font-size="7.7" fill="#3A3A3A" style="stroke:#3A3A3A;stroke-width:0.18px">
<text transform="translate(164.3 147.4) scale(1.13 1)" text-anchor="end">15</text>
<text transform="translate(164.3 180.5) scale(1.13 1)" text-anchor="end">5</text>
<text transform="translate(164.3 213.7) scale(1.13 1)" text-anchor="end">-5</text>
<text transform="translate(164.3 246.8) scale(1.13 1)" text-anchor="end">-15</text>
<text transform="translate(170.6 256.5) scale(1.13 1)" text-anchor="middle">-15</text>
<text transform="translate(205.3 256.5) scale(1.13 1)" text-anchor="middle">-5</text>
<text transform="translate(239.9 256.5) scale(1.13 1)" text-anchor="middle">5</text>
<text transform="translate(274.6 256.5) scale(1.13 1)" text-anchor="middle">15</text>
</g>
<text x="220.7" y="277.7" font-size="14.2" fill="#111">P<tspan font-size="9.2" dy="2.7">sa</tspan></text>
<g stroke="#404040" stroke-width="1.2" fill="none">
<rect x="306.3" y="144.6" width="104.0" height="99.4"/>
<line x1="358.3" y1="144.6" x2="358.3" y2="244.0"/>
<line x1="306.3" y1="194.3" x2="410.3" y2="194.3"/>
</g>
<circle cx="390.9" cy="153.5" r="1.15" fill="#5B9BD5"/><circle cx="384.3" cy="179.4" r="1.15" fill="#5B9BD5"/><circle cx="358.8" cy="188.1" r="1.15" fill="#5B9BD5"/><circle cx="358.9" cy="188.5" r="1.15" fill="#5B9BD5"/><circle cx="359.5" cy="195.5" r="1.15" fill="#5B9BD5"/><circle cx="364.8" cy="192.3" r="1.15" fill="#5B9BD5"/><circle cx="370.1" cy="198.4" r="1.15" fill="#5B9BD5"/><circle cx="375.3" cy="181.0" r="1.15" fill="#5B9BD5"/><circle cx="393.3" cy="150.9" r="1.15" fill="#5B9BD5"/><circle cx="368.8" cy="189.4" r="1.15" fill="#5B9BD5"/><circle cx="367.0" cy="188.2" r="1.15" fill="#5B9BD5"/><circle cx="369.5" cy="198.0" r="1.15" fill="#5B9BD5"/><circle cx="359.7" cy="194.8" r="1.15" fill="#5B9BD5"/><circle cx="349.8" cy="192.9" r="1.15" fill="#5B9BD5"/><circle cx="354.9" cy="190.9" r="1.15" fill="#ED7D31"/><circle cx="355.8" cy="187.2" r="1.15" fill="#5B9BD5"/><circle cx="352.3" cy="193.6" r="1.15" fill="#ED7D31"/><circle cx="385.0" cy="155.9" r="1.15" fill="#ED7D31"/><circle cx="349.1" cy="190.2" r="1.15" fill="#ED7D31"/><circle cx="361.0" cy="199.6" r="1.15" fill="#ED7D31"/><circle cx="357.7" cy="195.4" r="1.15" fill="#ED7D31"/><circle cx="372.2" cy="191.6" r="1.15" fill="#5B9BD5"/><circle cx="372.2" cy="177.4" r="1.15" fill="#5B9BD5"/><circle cx="388.5" cy="148.9" r="1.15" fill="#ED7D31"/><circle cx="378.4" cy="184.7" r="1.15" fill="#ED7D31"/><circle cx="356.6" cy="191.8" r="1.15" fill="#ED7D31"/><circle cx="345.2" cy="198.9" r="1.15" fill="#5B9BD5"/><circle cx="406.5" cy="200.3" r="1.15" fill="#5B9BD5"/><circle cx="342.4" cy="196.9" r="1.15" fill="#ED7D31"/><circle cx="353.2" cy="192.4" r="1.15" fill="#ED7D31"/><circle cx="362.4" cy="196.2" r="1.15" fill="#5B9BD5"/><circle cx="370.5" cy="207.3" r="1.15" fill="#5B9BD5"/><circle cx="353.6" cy="195.5" r="1.15" fill="#ED7D31"/><circle cx="366.3" cy="193.8" r="1.15" fill="#5B9BD5"/><circle cx="378.0" cy="195.4" r="1.15" fill="#5B9BD5"/><circle cx="348.2" cy="194.0" r="1.15" fill="#ED7D31"/><circle cx="354.0" cy="193.3" r="1.15" fill="#ED7D31"/><circle cx="351.1" cy="191.3" r="1.15" fill="#ED7D31"/><circle cx="353.7" cy="199.3" r="1.15" fill="#70AD47"/><circle cx="366.3" cy="180.1" r="1.15" fill="#ED7D31"/><circle cx="350.8" cy="192.7" r="1.15" fill="#ED7D31"/><circle cx="367.3" cy="181.0" r="1.15" fill="#ED7D31"/><circle cx="355.2" cy="198.7" r="1.15" fill="#70AD47"/><circle cx="353.5" cy="190.0" r="1.15" fill="#70AD47"/><circle cx="381.9" cy="152.7" r="1.15" fill="#ED7D31"/><circle cx="348.5" cy="194.2" r="1.15" fill="#ED7D31"/><circle cx="357.1" cy="199.0" r="1.15" fill="#70AD47"/><circle cx="350.4" cy="182.0" r="1.15" fill="#ED7D31"/><circle cx="347.6" cy="197.6" r="1.15" fill="#ED7D31"/><circle cx="372.2" cy="179.4" r="1.15" fill="#ED7D31"/><circle cx="321.9" cy="197.9" r="1.15" fill="#ED7D31"/><circle cx="353.1" cy="206.4" r="1.15" fill="#70AD47"/><circle cx="369.0" cy="182.0" r="1.15" fill="#70AD47"/><circle cx="359.7" cy="189.4" r="1.15" fill="#ED7D31"/><circle cx="355.5" cy="191.5" r="1.15" fill="#70AD47"/><circle cx="348.1" cy="192.5" r="1.15" fill="#ED7D31"/><circle cx="358.2" cy="197.3" r="1.15" fill="#ED7D31"/><circle cx="359.4" cy="187.3" r="1.15" fill="#70AD47"/><circle cx="349.4" cy="186.5" r="1.15" fill="#ED7D31"/><circle cx="352.2" cy="181.3" r="1.15" fill="#ED7D31"/><circle cx="365.7" cy="195.2" r="1.15" fill="#70AD47"/><circle cx="352.4" cy="189.6" r="1.15" fill="#ED7D31"/><circle cx="354.6" cy="192.7" r="1.15" fill="#ED7D31"/><circle cx="357.7" cy="196.7" r="1.15" fill="#FFC000"/><circle cx="366.1" cy="197.3" r="1.15" fill="#70AD47"/><circle cx="356.9" cy="199.4" r="1.15" fill="#FFC000"/><circle cx="369.4" cy="183.7" r="1.15" fill="#70AD47"/><circle cx="362.3" cy="196.3" r="1.15" fill="#FFC000"/><circle cx="333.3" cy="223.3" r="1.15" fill="#70AD47"/><circle cx="359.4" cy="199.2" r="1.15" fill="#FFC000"/><circle cx="357.0" cy="200.5" r="1.15" fill="#FFC000"/><circle cx="364.6" cy="193.7" r="1.15" fill="#FFC000"/><circle cx="354.5" cy="200.3" r="1.15" fill="#70AD47"/><circle cx="368.0" cy="178.7" r="1.15" fill="#70AD47"/><circle cx="354.7" cy="196.5" r="1.15" fill="#FFC000"/><circle cx="359.7" cy="199.7" r="1.15" fill="#FFC000"/><circle cx="365.3" cy="190.1" r="1.15" fill="#FFC000"/><circle cx="359.9" cy="196.6" r="1.15" fill="#FFC000"/><circle cx="363.8" cy="196.7" r="1.15" fill="#FFC000"/><circle cx="346.1" cy="187.5" r="1.15" fill="#70AD47"/><circle cx="366.7" cy="196.6" r="1.15" fill="#FFC000"/><circle cx="354.2" cy="200.0" r="1.15" fill="#FFC000"/><circle cx="362.0" cy="200.1" r="1.15" fill="#FFC000"/><circle cx="363.9" cy="196.4" r="1.15" fill="#FFC000"/><circle cx="365.8" cy="191.9" r="1.15" fill="#FFC000"/><circle cx="362.6" cy="200.2" r="1.15" fill="#FFC000"/><circle cx="354.5" cy="194.1" r="1.15" fill="#FFC000"/><circle cx="359.9" cy="196.2" r="1.15" fill="#FFC000"/><circle cx="366.4" cy="198.7" r="1.15" fill="#FFC000"/><circle cx="364.1" cy="197.2" r="1.15" fill="#FFC000"/><circle cx="364.0" cy="199.8" r="1.15" fill="#FFC000"/><circle cx="342.6" cy="190.5" r="1.15" fill="#70AD47"/><circle cx="352.5" cy="193.9" r="1.15" fill="#FFC000"/><circle cx="366.7" cy="202.1" r="1.15" fill="#70AD47"/><circle cx="367.8" cy="185.8" r="1.15" fill="#70AD47"/><circle cx="372.7" cy="196.3" r="1.15" fill="#FFC000"/><circle cx="366.3" cy="198.0" r="1.15" fill="#FFC000"/><circle cx="344.8" cy="188.7" r="1.15" fill="#70AD47"/><circle cx="358.2" cy="199.7" r="1.15" fill="#FFC000"/><circle cx="361.1" cy="197.0" r="1.15" fill="#FFC000"/><circle cx="361.4" cy="198.5" r="1.15" fill="#FFC000"/><circle cx="383.3" cy="153.9" r="1.15" fill="#70AD47"/><circle cx="353.4" cy="205.7" r="1.15" fill="#FFC000"/><circle cx="360.5" cy="199.2" r="1.15" fill="#FFC000"/><circle cx="361.7" cy="197.6" r="1.15" fill="#FFC000"/><circle cx="371.7" cy="195.9" r="1.15" fill="#FFC000"/><circle cx="365.3" cy="198.1" r="1.15" fill="#FFC000"/><circle cx="358.6" cy="199.7" r="1.15" fill="#FFC000"/><circle cx="369.4" cy="198.2" r="1.15" fill="#FFC000"/><circle cx="357.2" cy="197.1" r="1.15" fill="#FFC000"/><circle cx="364.5" cy="195.2" r="1.15" fill="#FFC000"/><circle cx="357.1" cy="189.4" r="1.15" fill="#70AD47"/><circle cx="364.5" cy="185.7" r="1.15" fill="#70AD47"/><circle cx="357.6" cy="197.7" r="1.15" fill="#FFC000"/><circle cx="342.4" cy="219.3" r="1.15" fill="#70AD47"/><circle cx="344.8" cy="224.8" r="1.15" fill="#70AD47"/><circle cx="355.6" cy="197.7" r="1.15" fill="#70AD47"/><circle cx="357.2" cy="197.3" r="1.15" fill="#70AD47"/><circle cx="372.5" cy="193.9" r="1.15" fill="#FFC000"/><circle cx="356.9" cy="203.4" r="1.15" fill="#FFC000"/><circle cx="358.8" cy="198.9" r="1.15" fill="#FFC000"/><circle cx="364.6" cy="194.4" r="1.15" fill="#70AD47"/><circle cx="351.3" cy="198.2" r="1.15" fill="#70AD47"/><circle cx="372.0" cy="196.5" r="1.15" fill="#FFC000"/><circle cx="361.3" cy="196.5" r="1.15" fill="#FFC000"/><circle cx="369.3" cy="199.1" r="1.15" fill="#FFC000"/><circle cx="364.8" cy="188.0" r="1.15" fill="#70AD47"/><circle cx="360.4" cy="197.3" r="1.15" fill="#70AD47"/><circle cx="365.0" cy="200.8" r="1.15" fill="#FFC000"/><circle cx="364.3" cy="193.2" r="1.15" fill="#70AD47"/><circle cx="365.8" cy="196.4" r="1.15" fill="#FFC000"/><circle cx="353.7" cy="195.1" r="1.15" fill="#FFC000"/><circle cx="363.2" cy="196.4" r="1.15" fill="#FFC000"/><circle cx="360.1" cy="197.2" r="1.15" fill="#FFC000"/><circle cx="358.9" cy="197.6" r="1.15" fill="#A5A5A5"/><circle cx="358.9" cy="189.9" r="1.15" fill="#A5A5A5"/><circle cx="363.7" cy="192.7" r="1.15" fill="#FFC000"/><circle cx="353.3" cy="196.2" r="1.15" fill="#A5A5A5"/><circle cx="356.2" cy="194.8" r="1.15" fill="#A5A5A5"/><circle cx="339.2" cy="222.1" r="1.15" fill="#FFC000"/><circle cx="346.9" cy="188.4" r="1.15" fill="#A5A5A5"/><circle cx="357.6" cy="196.1" r="1.15" fill="#FFC000"/><circle cx="356.0" cy="192.8" r="1.15" fill="#A5A5A5"/><circle cx="347.8" cy="192.3" r="1.15" fill="#A5A5A5"/><circle cx="376.1" cy="192.9" r="1.15" fill="#A5A5A5"/><circle cx="354.1" cy="198.0" r="1.15" fill="#A5A5A5"/><circle cx="356.5" cy="195.5" r="1.15" fill="#FFC000"/><circle cx="360.6" cy="197.1" r="1.15" fill="#FFC000"/><circle cx="358.5" cy="196.8" r="1.15" fill="#FFC000"/><circle cx="363.5" cy="198.1" r="1.15" fill="#FFC000"/><circle cx="357.0" cy="193.1" r="1.15" fill="#A5A5A5"/><circle cx="359.1" cy="197.5" r="1.15" fill="#A5A5A5"/><circle cx="367.0" cy="200.8" r="1.15" fill="#FFC000"/><circle cx="359.3" cy="192.2" r="1.15" fill="#FFC000"/><circle cx="353.9" cy="190.1" r="1.15" fill="#A5A5A5"/><circle cx="356.9" cy="190.7" r="1.15" fill="#A5A5A5"/><circle cx="356.7" cy="196.6" r="1.15" fill="#FFC000"/><circle cx="361.0" cy="193.6" r="1.15" fill="#FFC000"/><circle cx="362.3" cy="189.0" r="1.15" fill="#A5A5A5"/><circle cx="364.6" cy="196.6" r="1.15" fill="#FFC000"/><circle cx="357.1" cy="199.2" r="1.15" fill="#FFC000"/><circle cx="357.3" cy="191.0" r="1.15" fill="#A5A5A5"/><circle cx="355.4" cy="198.6" r="1.15" fill="#A5A5A5"/><circle cx="348.9" cy="194.7" r="1.15" fill="#A5A5A5"/><circle cx="362.1" cy="192.2" r="1.15" fill="#A5A5A5"/><circle cx="365.7" cy="197.4" r="1.15" fill="#A5A5A5"/><circle cx="360.6" cy="197.4" r="1.15" fill="#A5A5A5"/><circle cx="352.5" cy="193.0" r="1.15" fill="#A5A5A5"/><circle cx="353.3" cy="193.9" r="1.15" fill="#A5A5A5"/><circle cx="366.7" cy="196.7" r="1.15" fill="#FFC000"/><circle cx="356.4" cy="194.2" r="1.15" fill="#A5A5A5"/><circle cx="380.1" cy="180.1" r="1.15" fill="#FFC000"/><circle cx="363.9" cy="196.2" r="1.15" fill="#FFC000"/><circle cx="363.2" cy="199.1" r="1.15" fill="#FFC000"/><circle cx="353.2" cy="189.5" r="1.15" fill="#A5A5A5"/><circle cx="353.2" cy="193.0" r="1.15" fill="#A5A5A5"/><circle cx="361.1" cy="190.6" r="1.15" fill="#A5A5A5"/><circle cx="361.5" cy="197.3" r="1.15" fill="#FFC000"/><circle cx="361.6" cy="195.0" r="1.15" fill="#A5A5A5"/><circle cx="361.0" cy="194.4" r="1.15" fill="#A5A5A5"/><circle cx="368.3" cy="197.2" r="1.15" fill="#FFC000"/><circle cx="335.4" cy="217.2" r="1.15" fill="#FFC000"/><circle cx="352.6" cy="198.1" r="1.15" fill="#A5A5A5"/><circle cx="365.3" cy="195.9" r="1.15" fill="#A5A5A5"/><circle cx="349.6" cy="204.9" r="1.15" fill="#FFC000"/><circle cx="364.7" cy="198.3" r="1.15" fill="#A5A5A5"/><circle cx="362.2" cy="193.3" r="1.15" fill="#FFC000"/><circle cx="351.7" cy="192.7" r="1.15" fill="#A5A5A5"/><circle cx="362.5" cy="201.0" r="1.15" fill="#FFC000"/><circle cx="354.6" cy="194.2" r="1.15" fill="#FFC000"/><circle cx="352.4" cy="193.9" r="1.15" fill="#A5A5A5"/><circle cx="354.9" cy="201.2" r="1.15" fill="#A5A5A5"/><circle cx="358.1" cy="194.9" r="1.15" fill="#A5A5A5"/><circle cx="351.3" cy="194.0" r="1.15" fill="#A5A5A5"/><circle cx="360.6" cy="193.1" r="1.15" fill="#A5A5A5"/><circle cx="368.6" cy="201.2" r="1.15" fill="#FFC000"/><circle cx="367.6" cy="194.1" r="1.15" fill="#FFC000"/><circle cx="355.1" cy="193.0" r="1.15" fill="#A5A5A5"/><circle cx="362.1" cy="196.0" r="1.15" fill="#A5A5A5"/><circle cx="362.6" cy="193.2" r="1.15" fill="#FFC000"/><circle cx="352.9" cy="193.2" r="1.15" fill="#A5A5A5"/><circle cx="362.3" cy="193.2" r="1.15" fill="#A5A5A5"/><circle cx="356.9" cy="195.0" r="1.15" fill="#A5A5A5"/><circle cx="337.8" cy="223.0" r="1.15" fill="#FFC000"/><circle cx="353.8" cy="196.4" r="1.15" fill="#A5A5A5"/><circle cx="361.4" cy="188.0" r="1.15" fill="#A5A5A5"/><circle cx="360.9" cy="201.0" r="1.15" fill="#FFC000"/><circle cx="370.4" cy="182.4" r="1.15" fill="#FFC000"/><circle cx="370.6" cy="196.7" r="1.15" fill="#FFC000"/><circle cx="347.2" cy="191.9" r="1.15" fill="#A5A5A5"/><circle cx="352.3" cy="191.1" r="1.15" fill="#A5A5A5"/><circle cx="359.1" cy="196.1" r="1.15" fill="#FFC000"/><circle cx="356.9" cy="197.3" r="1.15" fill="#FFC000"/><circle cx="357.2" cy="192.7" r="1.15" fill="#A5A5A5"/><circle cx="366.1" cy="197.8" r="1.15" fill="#FFC000"/><circle cx="348.6" cy="189.8" r="1.15" fill="#A5A5A5"/><circle cx="358.2" cy="193.7" r="1.15" fill="#A5A5A5"/><circle cx="358.3" cy="198.8" r="1.15" fill="#FFC000"/><circle cx="359.8" cy="195.8" r="1.15" fill="#FFC000"/><circle cx="368.3" cy="196.4" r="1.15" fill="#FFC000"/><circle cx="349.0" cy="192.9" r="1.15" fill="#A5A5A5"/><circle cx="367.3" cy="195.8" r="1.15" fill="#FFC000"/><circle cx="360.8" cy="194.2" r="1.15" fill="#A5A5A5"/><circle cx="371.3" cy="197.7" r="1.15" fill="#FFC000"/><circle cx="365.9" cy="192.0" r="1.15" fill="#A5A5A5"/><circle cx="358.5" cy="194.8" r="1.15" fill="#A5A5A5"/><circle cx="372.5" cy="177.1" r="1.15" fill="#A5A5A5"/><circle cx="361.9" cy="198.9" r="1.15" fill="#FFC000"/><circle cx="367.4" cy="200.8" r="1.15" fill="#FFC000"/><circle cx="362.0" cy="194.7" r="1.15" fill="#FFC000"/><circle cx="355.3" cy="196.6" r="1.15" fill="#A5A5A5"/><circle cx="354.1" cy="196.9" r="1.15" fill="#A5A5A5"/><circle cx="350.6" cy="191.5" r="1.15" fill="#A5A5A5"/><circle cx="355.6" cy="196.7" r="1.15" fill="#A5A5A5"/><circle cx="338.5" cy="224.8" r="1.15" fill="#A5A5A5"/><circle cx="360.4" cy="197.1" r="1.15" fill="#A5A5A5"/><circle cx="347.4" cy="193.6" r="1.15" fill="#A5A5A5"/><circle cx="356.2" cy="193.7" r="1.15" fill="#A5A5A5"/><circle cx="372.2" cy="195.5" r="1.15" fill="#FFC000"/><circle cx="365.2" cy="199.0" r="1.15" fill="#FFC000"/><circle cx="360.2" cy="190.6" r="1.15" fill="#A5A5A5"/><circle cx="362.4" cy="194.5" r="1.15" fill="#A5A5A5"/><circle cx="357.7" cy="193.7" r="1.15" fill="#A5A5A5"/><circle cx="365.8" cy="197.6" r="1.15" fill="#A5A5A5"/><circle cx="355.2" cy="195.4" r="1.15" fill="#A5A5A5"/><circle cx="352.1" cy="196.4" r="1.15" fill="#A5A5A5"/><circle cx="355.3" cy="191.5" r="1.15" fill="#A5A5A5"/><circle cx="355.4" cy="193.0" r="1.15" fill="#A5A5A5"/><circle cx="360.7" cy="192.1" r="1.15" fill="#A5A5A5"/><circle cx="360.8" cy="195.0" r="1.15" fill="#A5A5A5"/><circle cx="335.4" cy="226.9" r="1.15" fill="#A5A5A5"/><circle cx="361.4" cy="190.2" r="1.15" fill="#A5A5A5"/><circle cx="364.5" cy="178.7" r="1.15" fill="#A5A5A5"/><circle cx="356.6" cy="192.3" r="1.15" fill="#A5A5A5"/><circle cx="359.0" cy="195.1" r="1.15" fill="#A5A5A5"/><circle cx="355.3" cy="188.8" r="1.15" fill="#A5A5A5"/><circle cx="369.2" cy="195.9" r="1.15" fill="#A5A5A5"/><circle cx="362.6" cy="195.6" r="1.15" fill="#A5A5A5"/><circle cx="364.3" cy="190.2" r="1.15" fill="#A5A5A5"/><circle cx="363.2" cy="192.8" r="1.15" fill="#A5A5A5"/><circle cx="356.2" cy="191.6" r="1.15" fill="#A5A5A5"/><circle cx="362.9" cy="194.5" r="1.15" fill="#A5A5A5"/><circle cx="355.6" cy="193.2" r="1.15" fill="#A5A5A5"/><circle cx="359.9" cy="192.2" r="1.15" fill="#A5A5A5"/><circle cx="358.8" cy="200.2" r="1.15" fill="#A5A5A5"/><circle cx="356.8" cy="198.0" r="1.15" fill="#A5A5A5"/><circle cx="355.7" cy="192.9" r="1.15" fill="#A5A5A5"/><circle cx="357.8" cy="194.7" r="1.15" fill="#A5A5A5"/><circle cx="362.9" cy="194.1" r="1.15" fill="#A5A5A5"/><circle cx="360.6" cy="195.2" r="1.15" fill="#A5A5A5"/><circle cx="363.0" cy="190.2" r="1.15" fill="#A5A5A5"/><circle cx="366.4" cy="190.2" r="1.15" fill="#A5A5A5"/><circle cx="336.8" cy="209.4" r="1.15" fill="#A5A5A5"/><circle cx="353.0" cy="189.3" r="1.15" fill="#A5A5A5"/><circle cx="358.1" cy="195.4" r="1.15" fill="#A5A5A5"/><circle cx="370.1" cy="193.7" r="1.15" fill="#A5A5A5"/><circle cx="352.9" cy="192.9" r="1.15" fill="#A5A5A5"/><circle cx="355.5" cy="193.0" r="1.15" fill="#A5A5A5"/><circle cx="359.5" cy="194.5" r="1.15" fill="#A5A5A5"/><circle cx="357.6" cy="194.5" r="1.15" fill="#A5A5A5"/><circle cx="359.3" cy="196.1" r="1.15" fill="#A5A5A5"/><circle cx="359.5" cy="193.2" r="1.15" fill="#A5A5A5"/><circle cx="359.7" cy="192.4" r="1.15" fill="#A5A5A5"/><circle cx="361.4" cy="193.1" r="1.15" fill="#A5A5A5"/><circle cx="353.3" cy="191.6" r="1.15" fill="#A5A5A5"/><circle cx="357.4" cy="192.0" r="1.15" fill="#A5A5A5"/><circle cx="355.7" cy="193.6" r="1.15" fill="#A5A5A5"/><circle cx="359.4" cy="193.3" r="1.15" fill="#A5A5A5"/><circle cx="357.6" cy="195.1" r="1.15" fill="#A5A5A5"/><circle cx="352.4" cy="192.9" r="1.15" fill="#A5A5A5"/><circle cx="353.5" cy="196.6" r="1.15" fill="#A5A5A5"/><circle cx="365.2" cy="195.3" r="1.15" fill="#A5A5A5"/><circle cx="355.5" cy="193.2" r="1.15" fill="#A5A5A5"/><circle cx="364.9" cy="191.1" r="1.15" fill="#A5A5A5"/><circle cx="357.0" cy="194.0" r="1.15" fill="#A5A5A5"/><circle cx="368.5" cy="193.9" r="1.15" fill="#A5A5A5"/><circle cx="352.4" cy="210.2" r="1.15" fill="#A5A5A5"/><circle cx="346.6" cy="193.9" r="1.15" fill="#A5A5A5"/><circle cx="358.7" cy="191.7" r="1.15" fill="#A5A5A5"/><circle cx="363.4" cy="200.9" r="1.15" fill="#A5A5A5"/><circle cx="365.6" cy="190.5" r="1.15" fill="#A5A5A5"/><circle cx="341.8" cy="187.2" r="1.15" fill="#A5A5A5"/><circle cx="355.7" cy="198.7" r="1.15" fill="#A5A5A5"/><circle cx="346.7" cy="200.2" r="1.15" fill="#A5A5A5"/>
<g font-size="7.7" fill="#3A3A3A" style="stroke:#3A3A3A;stroke-width:0.18px">
<text transform="translate(300.0 147.4) scale(1.13 1)" text-anchor="end">15</text>
<text transform="translate(300.0 180.5) scale(1.13 1)" text-anchor="end">5</text>
<text transform="translate(300.0 213.7) scale(1.13 1)" text-anchor="end">-5</text>
<text transform="translate(300.0 246.8) scale(1.13 1)" text-anchor="end">-15</text>
<text transform="translate(306.3 256.5) scale(1.13 1)" text-anchor="middle">-15</text>
<text transform="translate(341.0 256.5) scale(1.13 1)" text-anchor="middle">-5</text>
<text transform="translate(375.6 256.5) scale(1.13 1)" text-anchor="middle">5</text>
<text transform="translate(410.3 256.5) scale(1.13 1)" text-anchor="middle">15</text>
</g>
<text x="356.1" y="277.7" font-size="14.2" fill="#111">P<tspan font-size="9.2" dy="2.7">sp</tspan></text>
<g stroke="#404040" stroke-width="1.2" fill="none">
<rect x="441.6" y="144.6" width="104.0" height="99.4"/>
<line x1="493.6" y1="144.6" x2="493.6" y2="244.0"/>
<line x1="441.6" y1="194.3" x2="545.6" y2="194.3"/>
</g>
<circle cx="495.7" cy="185.7" r="1.15" fill="#5B9BD5"/><circle cx="541.8" cy="200.3" r="1.15" fill="#5B9BD5"/><circle cx="483.5" cy="201.6" r="1.15" fill="#5B9BD5"/><circle cx="498.3" cy="196.4" r="1.15" fill="#5B9BD5"/><circle cx="504.3" cy="189.7" r="1.15" fill="#5B9BD5"/><circle cx="501.1" cy="185.7" r="1.15" fill="#5B9BD5"/><circle cx="495.6" cy="189.3" r="1.15" fill="#5B9BD5"/><circle cx="495.7" cy="196.6" r="1.15" fill="#5B9BD5"/><circle cx="501.9" cy="193.4" r="1.15" fill="#5B9BD5"/><circle cx="492.1" cy="185.1" r="1.15" fill="#5B9BD5"/><circle cx="497.7" cy="191.1" r="1.15" fill="#5B9BD5"/><circle cx="507.5" cy="177.1" r="1.15" fill="#5B9BD5"/><circle cx="513.0" cy="176.1" r="1.15" fill="#5B9BD5"/><circle cx="502.6" cy="183.8" r="1.15" fill="#5B9BD5"/><circle cx="501.9" cy="188.2" r="1.15" fill="#5B9BD5"/><circle cx="492.6" cy="208.5" r="1.15" fill="#5B9BD5"/><circle cx="536.6" cy="146.3" r="1.15" fill="#5B9BD5"/><circle cx="504.9" cy="190.0" r="1.15" fill="#5B9BD5"/><circle cx="516.1" cy="178.4" r="1.15" fill="#5B9BD5"/><circle cx="489.9" cy="192.0" r="1.15" fill="#ED7D31"/><circle cx="507.4" cy="187.6" r="1.15" fill="#ED7D31"/><circle cx="485.7" cy="190.7" r="1.15" fill="#ED7D31"/><circle cx="464.7" cy="206.6" r="1.15" fill="#ED7D31"/><circle cx="492.4" cy="191.5" r="1.15" fill="#5B9BD5"/><circle cx="487.0" cy="192.6" r="1.15" fill="#ED7D31"/><circle cx="498.2" cy="189.3" r="1.15" fill="#ED7D31"/><circle cx="504.3" cy="178.1" r="1.15" fill="#ED7D31"/><circle cx="515.1" cy="184.0" r="1.15" fill="#ED7D31"/><circle cx="486.3" cy="200.3" r="1.15" fill="#ED7D31"/><circle cx="486.1" cy="184.2" r="1.15" fill="#5B9BD5"/><circle cx="489.6" cy="193.2" r="1.15" fill="#5B9BD5"/><circle cx="480.8" cy="193.0" r="1.15" fill="#5B9BD5"/><circle cx="501.4" cy="185.7" r="1.15" fill="#5B9BD5"/><circle cx="509.9" cy="177.4" r="1.15" fill="#ED7D31"/><circle cx="490.4" cy="189.7" r="1.15" fill="#ED7D31"/><circle cx="490.7" cy="182.8" r="1.15" fill="#ED7D31"/><circle cx="491.2" cy="191.9" r="1.15" fill="#ED7D31"/><circle cx="526.5" cy="146.6" r="1.15" fill="#ED7D31"/><circle cx="505.0" cy="186.8" r="1.15" fill="#ED7D31"/><circle cx="499.4" cy="183.3" r="1.15" fill="#ED7D31"/><circle cx="491.7" cy="192.9" r="1.15" fill="#ED7D31"/><circle cx="530.0" cy="146.3" r="1.15" fill="#ED7D31"/><circle cx="500.1" cy="190.3" r="1.15" fill="#ED7D31"/><circle cx="492.8" cy="188.4" r="1.15" fill="#ED7D31"/><circle cx="503.0" cy="179.7" r="1.15" fill="#ED7D31"/><circle cx="485.2" cy="193.3" r="1.15" fill="#ED7D31"/><circle cx="485.8" cy="193.1" r="1.15" fill="#70AD47"/><circle cx="492.9" cy="190.7" r="1.15" fill="#ED7D31"/><circle cx="495.1" cy="184.6" r="1.15" fill="#ED7D31"/><circle cx="502.6" cy="201.8" r="1.15" fill="#70AD47"/><circle cx="502.6" cy="195.5" r="1.15" fill="#70AD47"/><circle cx="533.8" cy="144.9" r="1.15" fill="#ED7D31"/><circle cx="471.8" cy="227.4" r="1.15" fill="#70AD47"/><circle cx="493.6" cy="184.8" r="1.15" fill="#ED7D31"/><circle cx="485.3" cy="193.8" r="1.15" fill="#70AD47"/><circle cx="494.9" cy="187.9" r="1.15" fill="#70AD47"/><circle cx="495.1" cy="186.1" r="1.15" fill="#70AD47"/><circle cx="490.4" cy="188.8" r="1.15" fill="#ED7D31"/><circle cx="478.2" cy="191.2" r="1.15" fill="#70AD47"/><circle cx="489.5" cy="189.4" r="1.15" fill="#70AD47"/><circle cx="486.5" cy="188.4" r="1.15" fill="#70AD47"/><circle cx="502.3" cy="177.1" r="1.15" fill="#70AD47"/><circle cx="496.9" cy="196.4" r="1.15" fill="#70AD47"/><circle cx="485.5" cy="189.4" r="1.15" fill="#70AD47"/><circle cx="505.7" cy="185.7" r="1.15" fill="#70AD47"/><circle cx="464.7" cy="227.1" r="1.15" fill="#70AD47"/><circle cx="494.0" cy="199.6" r="1.15" fill="#FFC000"/><circle cx="493.9" cy="201.7" r="1.15" fill="#FFC000"/><circle cx="500.8" cy="199.2" r="1.15" fill="#FFC000"/><circle cx="492.1" cy="192.2" r="1.15" fill="#70AD47"/><circle cx="501.0" cy="194.4" r="1.15" fill="#FFC000"/><circle cx="491.6" cy="198.1" r="1.15" fill="#70AD47"/><circle cx="507.5" cy="185.4" r="1.15" fill="#70AD47"/><circle cx="495.7" cy="198.0" r="1.15" fill="#FFC000"/><circle cx="498.8" cy="203.8" r="1.15" fill="#FFC000"/><circle cx="494.8" cy="201.1" r="1.15" fill="#FFC000"/><circle cx="497.5" cy="200.3" r="1.15" fill="#FFC000"/><circle cx="501.6" cy="201.2" r="1.15" fill="#FFC000"/><circle cx="493.2" cy="202.3" r="1.15" fill="#FFC000"/><circle cx="499.2" cy="205.8" r="1.15" fill="#FFC000"/><circle cx="501.7" cy="196.3" r="1.15" fill="#FFC000"/><circle cx="499.5" cy="195.4" r="1.15" fill="#FFC000"/><circle cx="488.8" cy="194.8" r="1.15" fill="#FFC000"/><circle cx="495.4" cy="199.2" r="1.15" fill="#FFC000"/><circle cx="502.0" cy="198.2" r="1.15" fill="#FFC000"/><circle cx="495.3" cy="181.0" r="1.15" fill="#70AD47"/><circle cx="498.3" cy="201.4" r="1.15" fill="#FFC000"/><circle cx="474.2" cy="228.8" r="1.15" fill="#70AD47"/><circle cx="499.4" cy="202.5" r="1.15" fill="#FFC000"/><circle cx="490.7" cy="191.2" r="1.15" fill="#70AD47"/><circle cx="497.7" cy="199.9" r="1.15" fill="#FFC000"/><circle cx="497.8" cy="203.9" r="1.15" fill="#FFC000"/><circle cx="502.1" cy="198.9" r="1.15" fill="#FFC000"/><circle cx="500.7" cy="196.9" r="1.15" fill="#FFC000"/><circle cx="503.7" cy="194.1" r="1.15" fill="#FFC000"/><circle cx="529.3" cy="151.2" r="1.15" fill="#70AD47"/><circle cx="505.3" cy="204.3" r="1.15" fill="#70AD47"/><circle cx="505.8" cy="197.8" r="1.15" fill="#FFC000"/><circle cx="488.0" cy="198.0" r="1.15" fill="#70AD47"/><circle cx="486.1" cy="194.8" r="1.15" fill="#70AD47"/><circle cx="499.6" cy="200.8" r="1.15" fill="#FFC000"/><circle cx="502.7" cy="198.3" r="1.15" fill="#FFC000"/><circle cx="492.6" cy="196.9" r="1.15" fill="#FFC000"/><circle cx="501.5" cy="191.3" r="1.15" fill="#70AD47"/><circle cx="507.8" cy="180.1" r="1.15" fill="#70AD47"/><circle cx="502.1" cy="200.1" r="1.15" fill="#FFC000"/><circle cx="504.8" cy="200.7" r="1.15" fill="#FFC000"/><circle cx="500.8" cy="201.7" r="1.15" fill="#FFC000"/><circle cx="471.1" cy="225.8" r="1.15" fill="#FFC000"/><circle cx="495.1" cy="198.7" r="1.15" fill="#FFC000"/><circle cx="505.5" cy="201.1" r="1.15" fill="#FFC000"/><circle cx="502.8" cy="196.4" r="1.15" fill="#FFC000"/><circle cx="501.3" cy="201.3" r="1.15" fill="#FFC000"/><circle cx="500.0" cy="199.6" r="1.15" fill="#FFC000"/><circle cx="499.3" cy="197.3" r="1.15" fill="#FFC000"/><circle cx="503.0" cy="196.9" r="1.15" fill="#FFC000"/><circle cx="496.5" cy="199.1" r="1.15" fill="#FFC000"/><circle cx="498.0" cy="203.2" r="1.15" fill="#FFC000"/><circle cx="495.8" cy="201.3" r="1.15" fill="#FFC000"/><circle cx="501.1" cy="203.9" r="1.15" fill="#FFC000"/><circle cx="497.0" cy="195.4" r="1.15" fill="#FFC000"/><circle cx="499.5" cy="193.3" r="1.15" fill="#FFC000"/><circle cx="497.5" cy="202.6" r="1.15" fill="#FFC000"/><circle cx="500.2" cy="198.5" r="1.15" fill="#FFC000"/><circle cx="487.7" cy="206.9" r="1.15" fill="#FFC000"/><circle cx="503.1" cy="196.9" r="1.15" fill="#FFC000"/><circle cx="500.7" cy="200.9" r="1.15" fill="#FFC000"/><circle cx="500.8" cy="195.6" r="1.15" fill="#FFC000"/><circle cx="499.3" cy="201.3" r="1.15" fill="#FFC000"/><circle cx="501.6" cy="198.6" r="1.15" fill="#FFC000"/><circle cx="503.0" cy="194.5" r="1.15" fill="#FFC000"/><circle cx="492.4" cy="201.6" r="1.15" fill="#FFC000"/><circle cx="496.4" cy="201.3" r="1.15" fill="#FFC000"/><circle cx="498.1" cy="196.8" r="1.15" fill="#FFC000"/><circle cx="496.4" cy="196.4" r="1.15" fill="#FFC000"/><circle cx="506.3" cy="194.3" r="1.15" fill="#FFC000"/><circle cx="494.8" cy="195.5" r="1.15" fill="#FFC000"/><circle cx="506.1" cy="199.8" r="1.15" fill="#FFC000"/><circle cx="499.9" cy="199.4" r="1.15" fill="#FFC000"/><circle cx="499.2" cy="197.2" r="1.15" fill="#FFC000"/><circle cx="499.3" cy="201.4" r="1.15" fill="#FFC000"/><circle cx="500.9" cy="200.8" r="1.15" fill="#FFC000"/><circle cx="511.3" cy="179.1" r="1.15" fill="#FFC000"/><circle cx="491.5" cy="196.5" r="1.15" fill="#FFC000"/><circle cx="497.9" cy="204.0" r="1.15" fill="#FFC000"/><circle cx="497.9" cy="197.8" r="1.15" fill="#FFC000"/><circle cx="501.1" cy="201.9" r="1.15" fill="#FFC000"/><circle cx="496.8" cy="197.2" r="1.15" fill="#FFC000"/><circle cx="496.5" cy="200.1" r="1.15" fill="#FFC000"/><circle cx="497.0" cy="195.1" r="1.15" fill="#FFC000"/><circle cx="503.2" cy="197.2" r="1.15" fill="#FFC000"/><circle cx="468.3" cy="225.1" r="1.15" fill="#FFC000"/><circle cx="497.5" cy="201.4" r="1.15" fill="#FFC000"/><circle cx="486.1" cy="199.2" r="1.15" fill="#A5A5A5"/><circle cx="497.8" cy="198.6" r="1.15" fill="#FFC000"/><circle cx="490.2" cy="194.3" r="1.15" fill="#A5A5A5"/><circle cx="487.8" cy="191.3" r="1.15" fill="#A5A5A5"/><circle cx="499.3" cy="196.7" r="1.15" fill="#FFC000"/><circle cx="489.3" cy="191.8" r="1.15" fill="#A5A5A5"/><circle cx="502.9" cy="190.7" r="1.15" fill="#FFC000"/><circle cx="499.8" cy="199.7" r="1.15" fill="#FFC000"/><circle cx="485.4" cy="197.4" r="1.15" fill="#A5A5A5"/><circle cx="466.6" cy="228.4" r="1.15" fill="#A5A5A5"/><circle cx="488.5" cy="195.7" r="1.15" fill="#A5A5A5"/><circle cx="469.7" cy="224.8" r="1.15" fill="#FFC000"/><circle cx="487.6" cy="192.2" r="1.15" fill="#A5A5A5"/><circle cx="499.3" cy="194.9" r="1.15" fill="#A5A5A5"/><circle cx="489.8" cy="195.0" r="1.15" fill="#A5A5A5"/><circle cx="484.1" cy="195.0" r="1.15" fill="#A5A5A5"/><circle cx="482.6" cy="197.9" r="1.15" fill="#A5A5A5"/><circle cx="486.0" cy="194.5" r="1.15" fill="#A5A5A5"/><circle cx="503.4" cy="199.1" r="1.15" fill="#FFC000"/><circle cx="493.1" cy="194.2" r="1.15" fill="#A5A5A5"/><circle cx="496.5" cy="187.3" r="1.15" fill="#A5A5A5"/><circle cx="501.5" cy="200.4" r="1.15" fill="#FFC000"/><circle cx="504.6" cy="197.8" r="1.15" fill="#FFC000"/><circle cx="499.9" cy="195.2" r="1.15" fill="#FFC000"/><circle cx="502.1" cy="199.7" r="1.15" fill="#FFC000"/><circle cx="479.5" cy="193.8" r="1.15" fill="#A5A5A5"/><circle cx="496.9" cy="197.4" r="1.15" fill="#FFC000"/><circle cx="493.8" cy="192.9" r="1.15" fill="#A5A5A5"/><circle cx="500.0" cy="198.7" r="1.15" fill="#FFC000"/><circle cx="496.0" cy="193.6" r="1.15" fill="#A5A5A5"/><circle cx="497.7" cy="199.3" r="1.15" fill="#FFC000"/><circle cx="490.3" cy="192.2" r="1.15" fill="#A5A5A5"/><circle cx="499.5" cy="195.8" r="1.15" fill="#FFC000"/><circle cx="498.8" cy="197.3" r="1.15" fill="#FFC000"/><circle cx="504.5" cy="201.2" r="1.15" fill="#FFC000"/><circle cx="493.2" cy="199.9" r="1.15" fill="#FFC000"/><circle cx="499.3" cy="195.9" r="1.15" fill="#FFC000"/><circle cx="502.5" cy="199.0" r="1.15" fill="#FFC000"/><circle cx="491.6" cy="196.4" r="1.15" fill="#A5A5A5"/><circle cx="486.6" cy="196.6" r="1.15" fill="#A5A5A5"/><circle cx="495.5" cy="201.2" r="1.15" fill="#FFC000"/><circle cx="491.9" cy="191.5" r="1.15" fill="#A5A5A5"/><circle cx="501.7" cy="197.7" r="1.15" fill="#FFC000"/><circle cx="486.4" cy="191.4" r="1.15" fill="#A5A5A5"/><circle cx="481.5" cy="200.9" r="1.15" fill="#A5A5A5"/><circle cx="497.2" cy="198.3" r="1.15" fill="#FFC000"/><circle cx="496.9" cy="193.6" r="1.15" fill="#A5A5A5"/><circle cx="497.6" cy="194.6" r="1.15" fill="#A5A5A5"/><circle cx="500.7" cy="198.0" r="1.15" fill="#FFC000"/><circle cx="506.8" cy="182.0" r="1.15" fill="#FFC000"/><circle cx="502.0" cy="204.0" r="1.15" fill="#FFC000"/><circle cx="484.5" cy="193.1" r="1.15" fill="#A5A5A5"/><circle cx="483.4" cy="191.3" r="1.15" fill="#A5A5A5"/><circle cx="502.0" cy="199.5" r="1.15" fill="#FFC000"/><circle cx="491.6" cy="195.2" r="1.15" fill="#A5A5A5"/><circle cx="495.5" cy="200.3" r="1.15" fill="#FFC000"/><circle cx="495.9" cy="190.8" r="1.15" fill="#A5A5A5"/><circle cx="500.8" cy="200.7" r="1.15" fill="#FFC000"/><circle cx="500.9" cy="196.2" r="1.15" fill="#FFC000"/><circle cx="494.1" cy="194.8" r="1.15" fill="#A5A5A5"/><circle cx="491.2" cy="198.4" r="1.15" fill="#FFC000"/><circle cx="491.0" cy="189.0" r="1.15" fill="#A5A5A5"/><circle cx="497.0" cy="191.5" r="1.15" fill="#A5A5A5"/><circle cx="497.2" cy="196.1" r="1.15" fill="#FFC000"/><circle cx="485.5" cy="200.3" r="1.15" fill="#A5A5A5"/><circle cx="491.8" cy="196.2" r="1.15" fill="#A5A5A5"/><circle cx="488.3" cy="195.2" r="1.15" fill="#A5A5A5"/><circle cx="480.4" cy="191.3" r="1.15" fill="#A5A5A5"/><circle cx="493.8" cy="192.1" r="1.15" fill="#A5A5A5"/><circle cx="489.9" cy="193.3" r="1.15" fill="#A5A5A5"/><circle cx="494.4" cy="196.9" r="1.15" fill="#A5A5A5"/><circle cx="492.8" cy="191.9" r="1.15" fill="#A5A5A5"/><circle cx="490.6" cy="194.6" r="1.15" fill="#A5A5A5"/><circle cx="493.5" cy="195.8" r="1.15" fill="#A5A5A5"/><circle cx="500.3" cy="193.1" r="1.15" fill="#A5A5A5"/><circle cx="488.4" cy="193.3" r="1.15" fill="#A5A5A5"/><circle cx="485.9" cy="196.2" r="1.15" fill="#A5A5A5"/><circle cx="488.8" cy="196.3" r="1.15" fill="#A5A5A5"/><circle cx="498.6" cy="192.0" r="1.15" fill="#A5A5A5"/><circle cx="485.2" cy="192.8" r="1.15" fill="#A5A5A5"/><circle cx="492.6" cy="194.1" r="1.15" fill="#A5A5A5"/><circle cx="497.9" cy="196.9" r="1.15" fill="#A5A5A5"/><circle cx="494.3" cy="194.5" r="1.15" fill="#A5A5A5"/><circle cx="492.9" cy="195.8" r="1.15" fill="#A5A5A5"/><circle cx="490.2" cy="194.0" r="1.15" fill="#A5A5A5"/><circle cx="492.3" cy="194.6" r="1.15" fill="#A5A5A5"/><circle cx="491.1" cy="192.9" r="1.15" fill="#A5A5A5"/><circle cx="491.1" cy="192.6" r="1.15" fill="#A5A5A5"/><circle cx="487.5" cy="194.5" r="1.15" fill="#A5A5A5"/><circle cx="489.7" cy="196.0" r="1.15" fill="#A5A5A5"/><circle cx="490.9" cy="196.5" r="1.15" fill="#A5A5A5"/><circle cx="481.5" cy="193.6" r="1.15" fill="#A5A5A5"/><circle cx="506.1" cy="176.6" r="1.15" fill="#A5A5A5"/><circle cx="489.4" cy="194.3" r="1.15" fill="#A5A5A5"/><circle cx="480.5" cy="192.4" r="1.15" fill="#A5A5A5"/><circle cx="495.2" cy="192.2" r="1.15" fill="#A5A5A5"/><circle cx="480.4" cy="196.4" r="1.15" fill="#A5A5A5"/><circle cx="489.7" cy="191.8" r="1.15" fill="#A5A5A5"/><circle cx="487.1" cy="199.1" r="1.15" fill="#A5A5A5"/><circle cx="490.9" cy="193.9" r="1.15" fill="#A5A5A5"/><circle cx="491.2" cy="194.9" r="1.15" fill="#A5A5A5"/><circle cx="490.5" cy="192.6" r="1.15" fill="#A5A5A5"/><circle cx="484.7" cy="197.2" r="1.15" fill="#A5A5A5"/><circle cx="483.1" cy="190.3" r="1.15" fill="#A5A5A5"/><circle cx="484.0" cy="194.5" r="1.15" fill="#A5A5A5"/><circle cx="493.2" cy="192.4" r="1.15" fill="#A5A5A5"/><circle cx="487.7" cy="189.6" r="1.15" fill="#A5A5A5"/><circle cx="486.2" cy="192.4" r="1.15" fill="#A5A5A5"/><circle cx="496.4" cy="194.9" r="1.15" fill="#A5A5A5"/><circle cx="487.6" cy="193.9" r="1.15" fill="#A5A5A5"/><circle cx="493.9" cy="192.3" r="1.15" fill="#A5A5A5"/><circle cx="488.2" cy="195.1" r="1.15" fill="#A5A5A5"/><circle cx="494.9" cy="195.8" r="1.15" fill="#A5A5A5"/><circle cx="481.9" cy="193.4" r="1.15" fill="#A5A5A5"/><circle cx="493.4" cy="191.4" r="1.15" fill="#A5A5A5"/><circle cx="496.6" cy="194.1" r="1.15" fill="#A5A5A5"/><circle cx="489.4" cy="194.2" r="1.15" fill="#A5A5A5"/><circle cx="493.9" cy="192.8" r="1.15" fill="#A5A5A5"/><circle cx="487.6" cy="196.7" r="1.15" fill="#A5A5A5"/><circle cx="483.3" cy="195.8" r="1.15" fill="#A5A5A5"/><circle cx="489.5" cy="192.1" r="1.15" fill="#A5A5A5"/><circle cx="492.6" cy="193.9" r="1.15" fill="#A5A5A5"/><circle cx="494.1" cy="190.3" r="1.15" fill="#A5A5A5"/><circle cx="491.9" cy="191.3" r="1.15" fill="#A5A5A5"/><circle cx="489.3" cy="196.6" r="1.15" fill="#A5A5A5"/><circle cx="494.3" cy="191.1" r="1.15" fill="#A5A5A5"/><circle cx="486.3" cy="191.3" r="1.15" fill="#A5A5A5"/><circle cx="482.0" cy="194.0" r="1.15" fill="#A5A5A5"/><circle cx="487.1" cy="193.2" r="1.15" fill="#A5A5A5"/><circle cx="484.1" cy="194.5" r="1.15" fill="#A5A5A5"/><circle cx="487.5" cy="193.0" r="1.15" fill="#A5A5A5"/><circle cx="494.1" cy="190.6" r="1.15" fill="#A5A5A5"/><circle cx="487.9" cy="196.4" r="1.15" fill="#A5A5A5"/><circle cx="493.0" cy="192.5" r="1.15" fill="#A5A5A5"/><circle cx="483.4" cy="195.6" r="1.15" fill="#A5A5A5"/><circle cx="487.3" cy="192.0" r="1.15" fill="#A5A5A5"/><circle cx="487.2" cy="189.7" r="1.15" fill="#A5A5A5"/><circle cx="482.6" cy="195.8" r="1.15" fill="#A5A5A5"/><circle cx="491.2" cy="191.9" r="1.15" fill="#A5A5A5"/><circle cx="490.9" cy="192.2" r="1.15" fill="#A5A5A5"/><circle cx="501.2" cy="183.4" r="1.15" fill="#A5A5A5"/><circle cx="483.7" cy="199.0" r="1.15" fill="#A5A5A5"/><circle cx="494.3" cy="194.0" r="1.15" fill="#A5A5A5"/><circle cx="470.0" cy="211.2" r="1.15" fill="#A5A5A5"/><circle cx="489.6" cy="194.8" r="1.15" fill="#A5A5A5"/><circle cx="487.7" cy="211.2" r="1.15" fill="#A5A5A5"/><circle cx="492.3" cy="197.0" r="1.15" fill="#A5A5A5"/>
<g font-size="7.7" fill="#3A3A3A" style="stroke:#3A3A3A;stroke-width:0.18px">
<text transform="translate(435.3 147.4) scale(1.13 1)" text-anchor="end">15</text>
<text transform="translate(435.3 180.5) scale(1.13 1)" text-anchor="end">5</text>
<text transform="translate(435.3 213.7) scale(1.13 1)" text-anchor="end">-5</text>
<text transform="translate(435.3 246.8) scale(1.13 1)" text-anchor="end">-15</text>
<text transform="translate(441.6 256.5) scale(1.13 1)" text-anchor="middle">-15</text>
<text transform="translate(476.3 256.5) scale(1.13 1)" text-anchor="middle">-5</text>
<text transform="translate(510.9 256.5) scale(1.13 1)" text-anchor="middle">5</text>
<text transform="translate(545.6 256.5) scale(1.13 1)" text-anchor="middle">15</text>
</g>
<text x="491.7" y="277.7" font-size="14.2" fill="#111">P<tspan font-size="9.2" dy="2.7">s</tspan></text>
<g stroke="#404040" stroke-width="1.2" fill="none">
<rect x="577.4" y="144.6" width="104.0" height="99.4"/>
<line x1="629.4" y1="144.6" x2="629.4" y2="244.0"/>
<line x1="577.4" y1="194.3" x2="681.4" y2="194.3"/>
</g>
<circle cx="634.7" cy="190.9" r="1.15" fill="#5B9BD5"/><circle cx="657.5" cy="172.1" r="1.15" fill="#5B9BD5"/><circle cx="612.6" cy="202.9" r="1.15" fill="#5B9BD5"/><circle cx="638.7" cy="184.4" r="1.15" fill="#5B9BD5"/><circle cx="663.0" cy="182.7" r="1.15" fill="#5B9BD5"/><circle cx="648.1" cy="195.6" r="1.15" fill="#5B9BD5"/><circle cx="656.8" cy="161.5" r="1.15" fill="#5B9BD5"/><circle cx="624.4" cy="185.4" r="1.15" fill="#5B9BD5"/><circle cx="653.0" cy="184.7" r="1.15" fill="#5B9BD5"/><circle cx="588.1" cy="236.0" r="1.15" fill="#5B9BD5"/><circle cx="628.9" cy="186.4" r="1.15" fill="#ED7D31"/><circle cx="639.5" cy="177.4" r="1.15" fill="#5B9BD5"/><circle cx="627.3" cy="189.4" r="1.15" fill="#ED7D31"/><circle cx="627.4" cy="192.3" r="1.15" fill="#5B9BD5"/><circle cx="612.4" cy="206.2" r="1.15" fill="#ED7D31"/><circle cx="646.7" cy="189.0" r="1.15" fill="#5B9BD5"/><circle cx="631.7" cy="187.2" r="1.15" fill="#5B9BD5"/><circle cx="633.9" cy="186.7" r="1.15" fill="#ED7D31"/><circle cx="627.2" cy="197.1" r="1.15" fill="#5B9BD5"/><circle cx="648.5" cy="160.2" r="1.15" fill="#5B9BD5"/><circle cx="629.1" cy="208.2" r="1.15" fill="#5B9BD5"/><circle cx="619.8" cy="187.1" r="1.15" fill="#ED7D31"/><circle cx="621.5" cy="187.8" r="1.15" fill="#ED7D31"/><circle cx="626.9" cy="188.8" r="1.15" fill="#ED7D31"/><circle cx="653.0" cy="159.8" r="1.15" fill="#5B9BD5"/><circle cx="639.5" cy="188.3" r="1.15" fill="#5B9BD5"/><circle cx="625.8" cy="187.8" r="1.15" fill="#ED7D31"/><circle cx="642.6" cy="190.2" r="1.15" fill="#5B9BD5"/><circle cx="619.1" cy="185.0" r="1.15" fill="#ED7D31"/><circle cx="621.7" cy="187.0" r="1.15" fill="#ED7D31"/><circle cx="639.3" cy="183.5" r="1.15" fill="#5B9BD5"/><circle cx="624.9" cy="187.4" r="1.15" fill="#ED7D31"/><circle cx="643.3" cy="167.1" r="1.15" fill="#ED7D31"/><circle cx="632.4" cy="190.1" r="1.15" fill="#ED7D31"/><circle cx="623.8" cy="186.5" r="1.15" fill="#ED7D31"/><circle cx="624.8" cy="184.8" r="1.15" fill="#ED7D31"/><circle cx="621.8" cy="189.2" r="1.15" fill="#ED7D31"/><circle cx="623.0" cy="186.4" r="1.15" fill="#ED7D31"/><circle cx="618.8" cy="184.8" r="1.15" fill="#ED7D31"/><circle cx="630.4" cy="188.1" r="1.15" fill="#ED7D31"/><circle cx="630.5" cy="186.9" r="1.15" fill="#ED7D31"/><circle cx="641.9" cy="184.7" r="1.15" fill="#70AD47"/><circle cx="621.1" cy="186.6" r="1.15" fill="#ED7D31"/><circle cx="650.2" cy="173.4" r="1.15" fill="#70AD47"/><circle cx="625.2" cy="187.3" r="1.15" fill="#ED7D31"/><circle cx="628.1" cy="186.8" r="1.15" fill="#ED7D31"/><circle cx="637.0" cy="184.7" r="1.15" fill="#70AD47"/><circle cx="620.4" cy="201.6" r="1.15" fill="#70AD47"/><circle cx="621.3" cy="186.0" r="1.15" fill="#ED7D31"/><circle cx="624.7" cy="194.3" r="1.15" fill="#70AD47"/><circle cx="617.4" cy="190.4" r="1.15" fill="#70AD47"/><circle cx="619.2" cy="190.3" r="1.15" fill="#ED7D31"/><circle cx="634.2" cy="190.5" r="1.15" fill="#70AD47"/><circle cx="615.4" cy="189.3" r="1.15" fill="#ED7D31"/><circle cx="619.2" cy="193.5" r="1.15" fill="#70AD47"/><circle cx="622.2" cy="192.9" r="1.15" fill="#70AD47"/><circle cx="617.7" cy="189.6" r="1.15" fill="#70AD47"/><circle cx="620.5" cy="191.1" r="1.15" fill="#ED7D31"/><circle cx="618.9" cy="195.7" r="1.15" fill="#70AD47"/><circle cx="626.4" cy="187.8" r="1.15" fill="#ED7D31"/><circle cx="625.0" cy="191.5" r="1.15" fill="#ED7D31"/><circle cx="641.9" cy="176.6" r="1.15" fill="#ED7D31"/><circle cx="632.6" cy="189.7" r="1.15" fill="#ED7D31"/><circle cx="621.2" cy="188.0" r="1.15" fill="#ED7D31"/><circle cx="623.1" cy="191.2" r="1.15" fill="#ED7D31"/><circle cx="646.7" cy="161.2" r="1.15" fill="#ED7D31"/><circle cx="620.9" cy="191.1" r="1.15" fill="#ED7D31"/><circle cx="627.2" cy="185.9" r="1.15" fill="#ED7D31"/><circle cx="649.9" cy="162.2" r="1.15" fill="#ED7D31"/><circle cx="623.8" cy="185.6" r="1.15" fill="#ED7D31"/><circle cx="614.1" cy="204.9" r="1.15" fill="#70AD47"/><circle cx="623.6" cy="186.6" r="1.15" fill="#ED7D31"/><circle cx="630.7" cy="189.7" r="1.15" fill="#70AD47"/><circle cx="622.6" cy="191.0" r="1.15" fill="#ED7D31"/><circle cx="626.5" cy="194.3" r="1.15" fill="#70AD47"/><circle cx="620.4" cy="184.7" r="1.15" fill="#ED7D31"/><circle cx="589.2" cy="218.8" r="1.15" fill="#ED7D31"/><circle cx="631.7" cy="190.5" r="1.15" fill="#ED7D31"/><circle cx="623.3" cy="188.6" r="1.15" fill="#ED7D31"/><circle cx="627.3" cy="190.7" r="1.15" fill="#ED7D31"/><circle cx="651.1" cy="163.0" r="1.15" fill="#ED7D31"/><circle cx="626.5" cy="188.4" r="1.15" fill="#ED7D31"/><circle cx="622.8" cy="191.8" r="1.15" fill="#ED7D31"/><circle cx="629.7" cy="192.6" r="1.15" fill="#FFC000"/><circle cx="623.1" cy="193.8" r="1.15" fill="#FFC000"/><circle cx="624.9" cy="203.9" r="1.15" fill="#FFC000"/><circle cx="625.0" cy="194.3" r="1.15" fill="#70AD47"/><circle cx="626.3" cy="205.2" r="1.15" fill="#FFC000"/><circle cx="626.4" cy="193.6" r="1.15" fill="#FFC000"/><circle cx="627.3" cy="197.1" r="1.15" fill="#FFC000"/><circle cx="616.4" cy="192.0" r="1.15" fill="#70AD47"/><circle cx="622.6" cy="190.5" r="1.15" fill="#FFC000"/><circle cx="629.7" cy="194.2" r="1.15" fill="#FFC000"/><circle cx="626.3" cy="196.3" r="1.15" fill="#FFC000"/><circle cx="633.5" cy="191.3" r="1.15" fill="#FFC000"/><circle cx="628.5" cy="194.3" r="1.15" fill="#FFC000"/><circle cx="654.7" cy="166.6" r="1.15" fill="#FFC000"/><circle cx="633.3" cy="190.6" r="1.15" fill="#FFC000"/><circle cx="622.1" cy="191.1" r="1.15" fill="#70AD47"/><circle cx="636.0" cy="189.3" r="1.15" fill="#70AD47"/><circle cx="629.3" cy="196.7" r="1.15" fill="#FFC000"/><circle cx="625.1" cy="196.5" r="1.15" fill="#FFC000"/><circle cx="653.0" cy="164.1" r="1.15" fill="#70AD47"/><circle cx="626.2" cy="188.2" r="1.15" fill="#FFC000"/><circle cx="656.4" cy="167.0" r="1.15" fill="#FFC000"/><circle cx="622.7" cy="190.6" r="1.15" fill="#70AD47"/><circle cx="632.1" cy="194.9" r="1.15" fill="#FFC000"/><circle cx="625.6" cy="195.0" r="1.15" fill="#FFC000"/><circle cx="610.2" cy="191.0" r="1.15" fill="#70AD47"/><circle cx="630.6" cy="198.5" r="1.15" fill="#FFC000"/><circle cx="624.4" cy="193.7" r="1.15" fill="#FFC000"/><circle cx="626.4" cy="193.1" r="1.15" fill="#FFC000"/><circle cx="626.8" cy="189.7" r="1.15" fill="#FFC000"/><circle cx="589.5" cy="239.7" r="1.15" fill="#70AD47"/><circle cx="625.4" cy="190.9" r="1.15" fill="#FFC000"/><circle cx="627.4" cy="190.0" r="1.15" fill="#FFC000"/><circle cx="625.0" cy="189.7" r="1.15" fill="#70AD47"/><circle cx="629.6" cy="195.3" r="1.15" fill="#FFC000"/><circle cx="627.2" cy="195.5" r="1.15" fill="#FFC000"/><circle cx="637.5" cy="198.6" r="1.15" fill="#FFC000"/><circle cx="629.0" cy="199.7" r="1.15" fill="#FFC000"/><circle cx="623.2" cy="196.1" r="1.15" fill="#FFC000"/><circle cx="627.5" cy="195.1" r="1.15" fill="#FFC000"/><circle cx="597.2" cy="236.9" r="1.15" fill="#70AD47"/><circle cx="627.8" cy="193.6" r="1.15" fill="#FFC000"/><circle cx="628.3" cy="196.1" r="1.15" fill="#FFC000"/><circle cx="632.3" cy="195.1" r="1.15" fill="#FFC000"/><circle cx="619.8" cy="196.4" r="1.15" fill="#FFC000"/><circle cx="621.6" cy="193.6" r="1.15" fill="#FFC000"/><circle cx="618.3" cy="196.6" r="1.15" fill="#FFC000"/><circle cx="625.4" cy="193.5" r="1.15" fill="#FFC000"/><circle cx="627.1" cy="198.1" r="1.15" fill="#FFC000"/><circle cx="638.6" cy="193.7" r="1.15" fill="#FFC000"/><circle cx="632.0" cy="193.7" r="1.15" fill="#FFC000"/><circle cx="620.4" cy="192.3" r="1.15" fill="#70AD47"/><circle cx="618.7" cy="193.8" r="1.15" fill="#70AD47"/><circle cx="628.1" cy="195.5" r="1.15" fill="#70AD47"/><circle cx="603.2" cy="242.0" r="1.15" fill="#70AD47"/><circle cx="624.5" cy="194.6" r="1.15" fill="#70AD47"/><circle cx="641.2" cy="178.4" r="1.15" fill="#FFC000"/><circle cx="630.4" cy="191.8" r="1.15" fill="#FFC000"/><circle cx="630.0" cy="195.4" r="1.15" fill="#FFC000"/><circle cx="630.4" cy="193.5" r="1.15" fill="#FFC000"/><circle cx="626.7" cy="193.3" r="1.15" fill="#FFC000"/><circle cx="621.4" cy="195.8" r="1.15" fill="#FFC000"/><circle cx="627.4" cy="189.0" r="1.15" fill="#70AD47"/><circle cx="637.5" cy="193.0" r="1.15" fill="#A5A5A5"/><circle cx="627.0" cy="199.9" r="1.15" fill="#A5A5A5"/><circle cx="634.3" cy="197.9" r="1.15" fill="#A5A5A5"/><circle cx="637.3" cy="197.5" r="1.15" fill="#A5A5A5"/><circle cx="633.4" cy="195.4" r="1.15" fill="#FFC000"/><circle cx="627.4" cy="194.0" r="1.15" fill="#FFC000"/><circle cx="642.2" cy="198.9" r="1.15" fill="#A5A5A5"/><circle cx="634.2" cy="201.3" r="1.15" fill="#A5A5A5"/><circle cx="633.7" cy="197.5" r="1.15" fill="#A5A5A5"/><circle cx="640.1" cy="196.7" r="1.15" fill="#A5A5A5"/><circle cx="637.0" cy="193.5" r="1.15" fill="#A5A5A5"/><circle cx="645.7" cy="163.8" r="1.15" fill="#FFC000"/><circle cx="631.4" cy="190.0" r="1.15" fill="#FFC000"/><circle cx="619.0" cy="200.2" r="1.15" fill="#A5A5A5"/><circle cx="638.6" cy="198.0" r="1.15" fill="#A5A5A5"/><circle cx="634.4" cy="196.1" r="1.15" fill="#A5A5A5"/><circle cx="621.5" cy="193.1" r="1.15" fill="#FFC000"/><circle cx="631.6" cy="198.3" r="1.15" fill="#FFC000"/><circle cx="635.0" cy="197.4" r="1.15" fill="#A5A5A5"/><circle cx="612.4" cy="215.3" r="1.15" fill="#FFC000"/><circle cx="623.6" cy="194.8" r="1.15" fill="#FFC000"/><circle cx="621.8" cy="208.9" r="1.15" fill="#FFC000"/><circle cx="637.4" cy="203.0" r="1.15" fill="#A5A5A5"/><circle cx="633.0" cy="195.6" r="1.15" fill="#A5A5A5"/><circle cx="632.0" cy="198.8" r="1.15" fill="#FFC000"/><circle cx="635.9" cy="191.0" r="1.15" fill="#A5A5A5"/><circle cx="639.1" cy="203.6" r="1.15" fill="#A5A5A5"/><circle cx="640.2" cy="202.7" r="1.15" fill="#A5A5A5"/><circle cx="636.2" cy="201.7" r="1.15" fill="#A5A5A5"/><circle cx="626.0" cy="193.5" r="1.15" fill="#FFC000"/><circle cx="640.1" cy="195.0" r="1.15" fill="#A5A5A5"/><circle cx="634.2" cy="200.1" r="1.15" fill="#A5A5A5"/><circle cx="636.0" cy="192.8" r="1.15" fill="#FFC000"/><circle cx="626.7" cy="195.3" r="1.15" fill="#FFC000"/><circle cx="632.1" cy="198.5" r="1.15" fill="#A5A5A5"/><circle cx="648.1" cy="187.3" r="1.15" fill="#A5A5A5"/><circle cx="626.8" cy="201.4" r="1.15" fill="#FFC000"/><circle cx="635.9" cy="200.2" r="1.15" fill="#A5A5A5"/><circle cx="633.7" cy="198.6" r="1.15" fill="#A5A5A5"/><circle cx="621.5" cy="195.8" r="1.15" fill="#FFC000"/><circle cx="635.2" cy="198.3" r="1.15" fill="#A5A5A5"/><circle cx="627.8" cy="197.9" r="1.15" fill="#A5A5A5"/><circle cx="627.9" cy="195.9" r="1.15" fill="#FFC000"/><circle cx="632.0" cy="194.1" r="1.15" fill="#A5A5A5"/><circle cx="630.5" cy="197.3" r="1.15" fill="#A5A5A5"/><circle cx="622.5" cy="195.2" r="1.15" fill="#A5A5A5"/><circle cx="639.9" cy="200.1" r="1.15" fill="#A5A5A5"/><circle cx="629.4" cy="193.3" r="1.15" fill="#FFC000"/><circle cx="625.3" cy="201.1" r="1.15" fill="#A5A5A5"/><circle cx="628.4" cy="196.5" r="1.15" fill="#A5A5A5"/><circle cx="632.7" cy="198.8" r="1.15" fill="#FFC000"/><circle cx="624.1" cy="191.9" r="1.15" fill="#FFC000"/><circle cx="608.6" cy="228.4" r="1.15" fill="#A5A5A5"/><circle cx="627.6" cy="192.7" r="1.15" fill="#A5A5A5"/><circle cx="631.6" cy="196.5" r="1.15" fill="#FFC000"/><circle cx="630.7" cy="192.0" r="1.15" fill="#A5A5A5"/><circle cx="639.2" cy="198.9" r="1.15" fill="#A5A5A5"/><circle cx="653.3" cy="217.5" r="1.15" fill="#A5A5A5"/><circle cx="621.5" cy="193.9" r="1.15" fill="#FFC000"/><circle cx="639.5" cy="197.9" r="1.15" fill="#A5A5A5"/><circle cx="633.1" cy="192.3" r="1.15" fill="#FFC000"/><circle cx="626.7" cy="194.4" r="1.15" fill="#FFC000"/><circle cx="631.1" cy="195.7" r="1.15" fill="#FFC000"/><circle cx="630.7" cy="195.7" r="1.15" fill="#FFC000"/><circle cx="662.0" cy="193.0" r="1.15" fill="#A5A5A5"/><circle cx="631.8" cy="194.5" r="1.15" fill="#A5A5A5"/><circle cx="633.2" cy="198.5" r="1.15" fill="#A5A5A5"/><circle cx="626.7" cy="195.7" r="1.15" fill="#FFC000"/><circle cx="631.8" cy="197.2" r="1.15" fill="#FFC000"/><circle cx="636.6" cy="202.9" r="1.15" fill="#A5A5A5"/><circle cx="624.9" cy="195.1" r="1.15" fill="#FFC000"/><circle cx="628.4" cy="202.9" r="1.15" fill="#A5A5A5"/><circle cx="637.3" cy="199.4" r="1.15" fill="#A5A5A5"/><circle cx="662.3" cy="193.6" r="1.15" fill="#A5A5A5"/><circle cx="622.9" cy="194.7" r="1.15" fill="#FFC000"/><circle cx="634.4" cy="195.5" r="1.15" fill="#A5A5A5"/><circle cx="641.9" cy="197.2" r="1.15" fill="#A5A5A5"/><circle cx="640.1" cy="179.7" r="1.15" fill="#FFC000"/><circle cx="636.2" cy="199.2" r="1.15" fill="#A5A5A5"/><circle cx="626.4" cy="194.0" r="1.15" fill="#FFC000"/><circle cx="627.3" cy="197.8" r="1.15" fill="#A5A5A5"/><circle cx="633.2" cy="196.6" r="1.15" fill="#A5A5A5"/><circle cx="627.7" cy="194.8" r="1.15" fill="#A5A5A5"/><circle cx="630.6" cy="196.3" r="1.15" fill="#A5A5A5"/><circle cx="634.9" cy="196.5" r="1.15" fill="#FFC000"/><circle cx="622.8" cy="198.6" r="1.15" fill="#FFC000"/><circle cx="629.9" cy="197.1" r="1.15" fill="#A5A5A5"/><circle cx="626.9" cy="197.5" r="1.15" fill="#A5A5A5"/><circle cx="624.5" cy="197.9" r="1.15" fill="#A5A5A5"/><circle cx="632.0" cy="202.2" r="1.15" fill="#A5A5A5"/><circle cx="595.4" cy="239.7" r="1.15" fill="#A5A5A5"/><circle cx="641.9" cy="192.7" r="1.15" fill="#A5A5A5"/><circle cx="636.4" cy="199.7" r="1.15" fill="#A5A5A5"/><circle cx="636.0" cy="197.9" r="1.15" fill="#A5A5A5"/><circle cx="639.4" cy="195.1" r="1.15" fill="#A5A5A5"/><circle cx="620.7" cy="209.9" r="1.15" fill="#A5A5A5"/><circle cx="631.9" cy="192.9" r="1.15" fill="#A5A5A5"/><circle cx="631.9" cy="192.6" r="1.15" fill="#A5A5A5"/><circle cx="621.7" cy="194.7" r="1.15" fill="#A5A5A5"/><circle cx="627.0" cy="198.9" r="1.15" fill="#A5A5A5"/><circle cx="640.6" cy="193.8" r="1.15" fill="#A5A5A5"/><circle cx="630.8" cy="199.7" r="1.15" fill="#A5A5A5"/><circle cx="638.1" cy="196.5" r="1.15" fill="#A5A5A5"/><circle cx="636.2" cy="194.2" r="1.15" fill="#A5A5A5"/><circle cx="625.9" cy="200.2" r="1.15" fill="#A5A5A5"/><circle cx="641.5" cy="202.6" r="1.15" fill="#A5A5A5"/><circle cx="631.8" cy="190.9" r="1.15" fill="#A5A5A5"/><circle cx="626.7" cy="199.0" r="1.15" fill="#A5A5A5"/><circle cx="633.4" cy="199.5" r="1.15" fill="#A5A5A5"/><circle cx="637.2" cy="195.9" r="1.15" fill="#A5A5A5"/><circle cx="643.3" cy="194.9" r="1.15" fill="#A5A5A5"/><circle cx="632.1" cy="200.4" r="1.15" fill="#A5A5A5"/><circle cx="642.3" cy="200.9" r="1.15" fill="#A5A5A5"/><circle cx="639.2" cy="193.1" r="1.15" fill="#A5A5A5"/><circle cx="643.2" cy="196.5" r="1.15" fill="#A5A5A5"/><circle cx="644.4" cy="198.9" r="1.15" fill="#A5A5A5"/><circle cx="632.9" cy="200.3" r="1.15" fill="#A5A5A5"/><circle cx="647.7" cy="197.9" r="1.15" fill="#A5A5A5"/><circle cx="637.8" cy="195.6" r="1.15" fill="#A5A5A5"/><circle cx="596.8" cy="242.0" r="1.15" fill="#A5A5A5"/><circle cx="637.9" cy="198.2" r="1.15" fill="#A5A5A5"/><circle cx="641.3" cy="199.4" r="1.15" fill="#A5A5A5"/><circle cx="634.7" cy="191.9" r="1.15" fill="#A5A5A5"/><circle cx="634.0" cy="197.8" r="1.15" fill="#A5A5A5"/><circle cx="643.6" cy="195.0" r="1.15" fill="#A5A5A5"/><circle cx="623.2" cy="200.3" r="1.15" fill="#A5A5A5"/><circle cx="635.5" cy="195.2" r="1.15" fill="#A5A5A5"/><circle cx="657.1" cy="197.3" r="1.15" fill="#A5A5A5"/><circle cx="633.8" cy="195.1" r="1.15" fill="#A5A5A5"/><circle cx="642.9" cy="197.9" r="1.15" fill="#A5A5A5"/><circle cx="635.2" cy="192.8" r="1.15" fill="#A5A5A5"/><circle cx="634.2" cy="193.4" r="1.15" fill="#A5A5A5"/><circle cx="638.9" cy="198.4" r="1.15" fill="#A5A5A5"/><circle cx="630.5" cy="199.6" r="1.15" fill="#A5A5A5"/><circle cx="634.2" cy="201.7" r="1.15" fill="#A5A5A5"/><circle cx="640.1" cy="191.4" r="1.15" fill="#A5A5A5"/><circle cx="643.2" cy="194.4" r="1.15" fill="#A5A5A5"/><circle cx="655.7" cy="190.2" r="1.15" fill="#A5A5A5"/><circle cx="631.5" cy="197.9" r="1.15" fill="#A5A5A5"/><circle cx="640.2" cy="195.9" r="1.15" fill="#A5A5A5"/><circle cx="628.4" cy="197.6" r="1.15" fill="#A5A5A5"/><circle cx="626.0" cy="196.9" r="1.15" fill="#A5A5A5"/><circle cx="630.6" cy="192.8" r="1.15" fill="#A5A5A5"/><circle cx="632.3" cy="200.9" r="1.15" fill="#A5A5A5"/>
<g font-size="7.7" fill="#3A3A3A" style="stroke:#3A3A3A;stroke-width:0.18px">
<text transform="translate(571.1 147.4) scale(1.13 1)" text-anchor="end">15</text>
<text transform="translate(571.1 180.5) scale(1.13 1)" text-anchor="end">5</text>
<text transform="translate(571.1 213.7) scale(1.13 1)" text-anchor="end">-5</text>
<text transform="translate(571.1 246.8) scale(1.13 1)" text-anchor="end">-15</text>
<text transform="translate(577.4 256.5) scale(1.13 1)" text-anchor="middle">-15</text>
<text transform="translate(612.1 256.5) scale(1.13 1)" text-anchor="middle">-5</text>
<text transform="translate(646.7 256.5) scale(1.13 1)" text-anchor="middle">5</text>
<text transform="translate(681.4 256.5) scale(1.13 1)" text-anchor="middle">15</text>
</g>
<text x="625.6" y="277.7" font-size="14.2" fill="#111">P<tspan font-size="9.2" dy="2.7">s~</tspan></text>
<g font-size="10.1" fill="#111" letter-spacing="0.25">
<text x="80.5" y="12">Unit: mm</text>
<text x="89.5" y="24.3">Surgeon</text>
<text x="89.5" y="36.6">Fellow</text>
<text x="89.5" y="48.9">Engineer</text>
</g>
<circle cx="84.4" cy="20.8" r="1.45" fill="#FFC000"/>
<circle cx="84.4" cy="31.6" r="1.4" fill="#A5A5A5"/><circle cx="84.4" cy="34.9" r="1.4" fill="#70AD47"/>
<circle cx="84.4" cy="43.9" r="1.4" fill="#5B9BD5"/><circle cx="84.4" cy="47.2" r="1.4" fill="#ED7D31"/>
<circle cx="70.8" cy="172.6" r="18.2" fill="none" stroke="#FF3A3A" stroke-width="5.0" opacity="0.7" filter="url(#bl2)"/>
<circle cx="69.8" cy="174.3" r="14.2" fill="none" stroke="#FF2020" stroke-width="4.0" opacity="0.55" filter="url(#bl2)"/>
<path d="M80.74 184.31 A14.80 14.80 0 0 1 56.58 167.40" fill="none" stroke="#FF1010" stroke-width="4.6" opacity="0.8" filter="url(#bl3)"/>
<circle cx="70.8" cy="172.6" r="18.0" fill="none" stroke="#A00000" stroke-width="1.8" opacity="0.9"/>
<circle cx="70.2" cy="173.6" r="15.4" fill="none" stroke="#B80000" stroke-width="1.5" opacity="0.8"/>
<circle cx="69.5" cy="174.9" r="13.0" fill="none" stroke="#E00000" stroke-width="1.2" opacity="0.6"/>
<path d="M36.0 181.2 C37.0 180.9 40.1 179.8 41.7 179.2 C43.4 178.6 44.8 178.5 45.9 177.6 C47.0 176.7 47.5 175.5 48.1 174.0 C48.7 172.5 49.3 170.3 49.6 168.4 C49.9 166.5 50.2 164.4 50.1 162.7 C50.0 161.0 49.7 159.7 48.8 158.4 C47.9 157.1 46.0 156.1 44.5 154.9 C43.0 153.7 40.6 152.8 39.6 151.3 C38.6 149.8 38.5 147.3 38.2 145.7 C37.9 144.1 38.4 142.8 38.0 141.5 C37.6 140.2 37.1 139.1 35.6 138.0 C34.1 136.9 31.2 135.9 29.3 135.2 C27.4 134.5 25.6 134.5 24.5 133.6 C23.4 132.7 22.8 131.0 22.4 129.5 C22.0 128.0 22.2 126.2 22.4 124.5 C22.6 122.8 22.8 121.0 23.5 119.1 C24.2 117.1 25.4 114.9 26.7 112.8 C27.9 110.7 29.4 108.5 31.0 106.4 C32.6 104.3 33.9 102.5 36.3 100.2 C38.7 97.9 42.4 95.3 45.5 92.8 C48.6 90.3 51.6 87.9 55.0 85.2 C58.4 82.5 62.4 78.8 66.0 76.5 C69.6 74.2 73.4 72.5 76.6 71.2 C79.8 69.9 82.4 69.5 85.0 68.8 C87.6 68.1 89.7 67.5 92.4 67.1 C95.1 66.7 98.2 66.3 101.1 66.4 C104.0 66.5 107.1 66.8 109.8 67.6 C112.5 68.4 114.9 70.0 117.3 71.2 C119.7 72.4 122.0 73.6 124.0 75.0 C126.0 76.4 127.8 77.5 129.5 79.5 C131.2 81.5 133.1 84.2 134.5 87.0 C135.9 89.8 137.1 93.0 137.9 96.0 C138.7 99.0 139.1 102.3 139.3 105.0 C139.5 107.7 139.2 110.0 139.1 112.0 C139.0 114.0 139.1 114.9 138.5 116.8 C137.9 118.7 136.6 121.4 135.5 123.5 C134.4 125.6 133.1 127.8 131.9 129.5 C130.7 131.2 129.5 132.8 128.3 133.7 C127.2 134.6 125.5 134.9 125.0 135.2" fill="none" stroke="#000" stroke-width="1.75" stroke-linecap="round" stroke-linejoin="round"/>
<path d="M60.4 215.0 C60.3 213.0 60.1 206.2 60.0 203.0 C59.9 199.8 60.0 198.2 59.6 196.0 C59.2 193.8 58.5 191.6 57.6 189.5 C56.7 187.4 55.2 185.6 54.2 183.5 C53.2 181.4 52.0 179.2 51.5 177.0 C51.0 174.8 50.8 172.1 50.9 170.0 C51.0 167.9 51.2 166.1 52.0 164.5 C52.8 162.9 54.5 161.8 55.5 160.5 C56.5 159.2 57.8 157.8 57.8 156.6 C57.8 155.4 56.7 154.6 55.6 153.6 C54.5 152.6 52.4 152.0 51.2 150.8 C50.0 149.6 49.1 148.3 48.3 146.2 C47.5 144.1 47.0 140.4 46.2 138.4 C45.4 136.4 44.9 135.5 43.4 134.3 C41.9 133.2 38.5 132.4 37.0 131.5 C35.5 130.6 34.8 129.9 34.1 128.7 C33.4 127.5 32.8 126.1 32.6 124.5 C32.4 122.9 32.7 121.0 33.1 119.1 C33.5 117.1 34.3 114.9 35.2 112.8 C36.1 110.7 37.2 108.5 38.4 106.4 C39.5 104.3 40.6 102.1 42.1 100.2 C43.6 98.3 45.5 97.0 47.6 95.0 C49.8 93.0 51.9 90.8 55.0 88.0 C58.1 85.2 62.4 80.8 66.0 78.5 C69.6 76.2 73.4 75.7 76.6 74.5 C79.8 73.3 82.8 72.1 85.0 71.4 C87.2 70.7 88.6 70.6 90.0 70.4 C91.4 70.2 92.9 69.8 93.6 70.5 C94.3 71.2 93.7 73.5 94.0 74.5 C94.3 75.5 94.9 76.4 95.5 76.6 C96.1 76.8 97.0 76.8 97.4 75.9 C97.8 75.1 97.4 72.4 97.8 71.5 C98.2 70.6 98.8 70.0 99.6 70.3 C100.4 70.6 101.3 72.2 102.4 73.2 C103.5 74.2 105.0 75.6 106.1 76.3 C107.2 77.0 108.4 77.4 109.2 77.5 C110.0 77.6 110.7 76.6 111.0 76.9 C111.3 77.2 111.2 78.5 111.0 79.4 C110.8 80.3 109.9 81.3 109.6 82.5 C109.3 83.7 109.0 85.5 109.0 86.8 C109.0 88.1 108.8 89.2 109.3 90.5 C109.8 91.8 110.2 92.6 111.8 94.3 C113.3 96.0 116.6 98.5 118.6 100.4 C120.5 102.3 121.6 103.3 123.5 105.5 C125.4 107.7 128.3 110.9 130.1 113.5 C131.9 116.1 133.1 118.9 134.3 121.3 C135.5 123.7 136.4 125.9 137.3 127.8 C138.2 129.7 139.0 130.5 139.7 132.5 C140.3 134.5 141.0 137.1 141.2 140.0 C141.4 142.9 141.4 146.3 141.0 150.0 C140.6 153.7 139.9 158.5 138.9 162.2 C137.9 165.9 135.7 170.4 135.1 172.1" fill="none" stroke="#000" stroke-width="1.75" stroke-linecap="round" stroke-linejoin="round"/>
<path d="M101.5 90.8 C102.4 91.5 105.3 93.5 107.1 95.0 C108.9 96.5 110.6 97.9 112.4 99.5 C114.2 101.1 115.6 102.5 117.7 104.6 C119.8 106.7 123.2 109.6 125.3 112.0 C127.4 114.4 128.6 117.0 130.1 119.2 C131.6 121.4 133.1 123.1 134.3 125.3 C135.5 127.5 136.6 130.1 137.3 132.5 C138.0 134.9 138.3 136.8 138.5 139.7 C138.7 142.6 138.6 146.6 138.3 150.0 C138.1 153.4 137.7 156.3 137.0 160.0 C136.3 163.7 135.2 168.5 133.9 172.1 C132.7 175.7 130.7 179.3 129.5 181.5 C128.3 183.7 127.2 184.4 126.8 185.0" fill="none" stroke="#000" stroke-width="1.75" stroke-linecap="round" stroke-linejoin="round"/>
<path d="M80.5 108.0 C81.9 108.1 86.2 108.2 89.1 108.8 C92.0 109.4 95.2 110.9 97.7 111.8 C100.2 112.7 101.8 113.3 104.2 114.3 C106.6 115.3 109.7 116.9 112.0 118.0 C114.3 119.1 116.1 119.7 118.0 121.0 C119.9 122.3 122.0 124.2 123.5 125.9 C125.0 127.6 126.1 129.6 127.1 131.3 C128.1 133.0 128.8 134.3 129.5 136.1 C130.2 137.9 131.0 140.2 131.3 142.2 C131.6 144.2 131.6 145.5 131.4 148.0 C131.2 150.5 130.7 154.0 130.2 157.3 C129.7 160.6 129.0 164.7 128.5 168.0 C128.0 171.3 127.7 174.2 127.4 177.0 C127.1 179.8 126.9 183.7 126.8 185.0" fill="none" stroke="#000" stroke-width="1.75" stroke-linecap="round" stroke-linejoin="round"/>
<path d="M120.6 134.0 C120.2 133.5 119.8 132.1 118.5 131.2 C117.2 130.3 115.3 129.3 113.0 128.6 C110.7 127.9 106.9 127.1 104.5 127.1 C102.1 127.1 100.0 127.5 98.5 128.6 C97.0 129.7 95.8 131.4 95.2 133.5 C94.6 135.6 94.7 138.7 95.0 141.2 C95.3 143.7 96.2 145.9 97.1 148.3 C98.0 150.7 99.6 153.3 100.6 155.4 C101.5 157.5 102.0 158.2 102.8 161.0 C103.6 163.8 104.6 168.9 105.2 172.0 C105.8 175.1 105.6 176.7 106.6 179.3 C107.5 181.9 109.7 184.6 110.9 187.8 C112.1 191.0 113.4 194.9 113.6 198.4 C113.8 201.9 113.1 205.6 111.9 209.0 C110.7 212.4 108.4 216.1 106.6 218.6 C104.8 221.1 103.1 223.3 101.3 224.0 C99.5 224.7 97.8 223.5 96.0 222.9 C94.2 222.3 91.5 221.1 90.6 220.7" fill="none" stroke="#000" stroke-width="1.75" stroke-linecap="round" stroke-linejoin="round"/>
<path d="M120.6 134.0 C120.5 134.4 120.6 136.1 120.0 136.6 C119.4 137.1 118.5 137.3 117.0 137.0 C115.5 136.7 113.4 134.9 111.2 134.5 C109.0 134.1 105.6 134.0 103.8 134.3 C102.0 134.6 101.0 135.4 100.2 136.3 C99.4 137.2 99.0 138.4 98.7 140.0 C98.4 141.6 98.4 144.0 98.6 146.0 C98.8 148.0 99.1 150.1 99.6 152.0 C100.1 153.9 101.3 156.6 101.6 157.5" fill="none" stroke="#000" stroke-width="1.60" stroke-linecap="round" stroke-linejoin="round"/>
<path d="M37.0 190.0 C37.8 190.3 40.0 191.9 41.6 191.6 C43.2 191.3 44.5 189.2 46.4 188.2 C48.3 187.2 50.4 186.3 52.8 185.6 C55.2 184.9 58.6 184.4 60.8 184.0 C63.0 183.6 63.9 183.3 66.0 183.0 C68.1 182.7 70.4 182.1 73.2 182.0 C76.0 181.9 80.5 182.4 83.0 182.6 C85.5 182.8 86.7 183.1 88.5 183.4 C90.3 183.7 92.5 183.7 93.8 184.6 C95.0 185.5 95.8 186.9 96.0 188.8 C96.2 190.8 94.9 194.0 94.9 196.3 C94.9 198.6 96.0 200.8 96.0 202.7 C96.0 204.6 95.6 206.2 94.9 208.0 C94.2 209.8 92.6 211.4 91.7 213.3 C90.8 215.2 90.3 217.6 89.6 219.7 C88.9 221.8 88.3 223.8 87.4 226.0 C86.5 228.2 85.5 229.8 84.0 233.0 C82.5 236.2 79.4 243.2 78.5 245.2" fill="none" stroke="#000" stroke-width="1.75" stroke-linecap="round" stroke-linejoin="round"/>
<path d="M41.6 191.6 C42.4 192.4 44.7 194.9 46.4 196.7 C48.1 198.5 50.4 201.0 52.0 202.3 C53.6 203.6 54.6 204.0 56.0 204.6 C57.4 205.2 59.5 205.8 60.2 206.0" fill="none" stroke="#000" stroke-width="1.60" stroke-linecap="round" stroke-linejoin="round"/>
<path d="M60.4 212.0 C60.5 212.8 60.6 215.3 60.9 217.0 C61.2 218.7 61.8 219.8 62.0 222.0 C62.2 224.2 62.3 227.2 62.2 230.0 C62.1 232.8 61.6 236.4 61.3 239.0 C61.0 241.6 60.4 244.3 60.2 245.4" fill="none" stroke="#000" stroke-width="1.60" stroke-linecap="round" stroke-linejoin="round"/>
<path d="M55.5 182.5 C56.0 183.1 57.5 184.8 58.5 186.0 C59.5 187.2 60.3 188.0 61.2 189.5 C62.1 191.0 63.3 192.8 64.0 195.1 C64.7 197.3 65.2 200.5 65.6 203.0 C66.0 205.5 66.3 207.5 66.4 210.0 C66.5 212.5 66.4 215.0 66.3 218.0 C66.2 221.0 66.1 224.7 65.6 228.0 C65.1 231.3 64.4 235.1 63.5 238.0 C62.6 240.9 60.9 244.2 60.4 245.4" fill="none" stroke="#000" stroke-width="1.60" stroke-linecap="round" stroke-linejoin="round"/>
<path d="M66.8 77.6 C67.4 79.0 69.2 83.0 70.5 86.0 C71.8 89.0 74.1 93.8 74.8 95.4" fill="none" stroke="#000" stroke-width="1.70" stroke-linecap="round" stroke-linejoin="round"/>
<path d="M80.8 97.4 C80.5 97.2 82.4 94.5 83.5 93.2 C84.6 91.9 86.0 90.7 87.5 89.6 C89.0 88.5 90.8 87.6 92.5 86.8 C94.2 86.0 97.6 84.7 98.0 84.8 C98.4 84.9 96.2 86.6 94.8 87.6 C93.4 88.6 91.1 89.9 89.5 91.0 C87.9 92.1 86.5 93.3 85.0 94.4 C83.5 95.5 81.0 97.6 80.8 97.4Z" fill="none" stroke="#000" stroke-width="1.5" stroke-linejoin="round"/>
<path d="M96.2 81.8 C96.6 81.5 97.6 80.3 98.4 80.1 C99.2 79.9 100.2 79.9 100.8 80.6 C101.4 81.3 101.7 83.3 101.9 84.5 C102.1 85.7 101.8 87.4 101.8 88.0" fill="none" stroke="#000" stroke-width="1.60" stroke-linecap="round" stroke-linejoin="round"/>
<path d="M80.0 107.5 C81.6 105.8 86.6 100.4 89.8 97.6 C93.0 94.8 97.3 92.3 99.3 90.6 C101.3 88.9 101.5 88.0 101.9 87.5" fill="none" stroke="#000" stroke-width="1.60" stroke-linecap="round" stroke-linejoin="round"/>
<path d="M32.8 91.5 L79.5 98.0" stroke="#000" stroke-width="2.2" fill="none"/>
<path d="M85.5 99.1 L76.8 95.0 L77.8 101.4 Z" fill="#000"/>
<g transform="translate(28.4 127.6) rotate(-15.0)">
<ellipse rx="4.60" ry="7.00" fill="#FF6060" opacity="0.85" filter="url(#bl3)"/>
<ellipse rx="2.34" ry="3.78" fill="#FF0000" opacity="0.9" filter="url(#bl3)"/>
</g>
<g transform="translate(33.6 185.3) rotate(0.0)">
<ellipse rx="5.10" ry="5.10" fill="#FF6060" opacity="0.85" filter="url(#bl3)"/>
<ellipse rx="2.64" ry="2.64" fill="#FF0000" opacity="0.9" filter="url(#bl3)"/>
</g>
<g transform="translate(79.8 107.8) rotate(0.0)">
<ellipse rx="4.50" ry="4.50" fill="#FF6060" opacity="0.85" filter="url(#bl3)"/>
<ellipse rx="2.28" ry="2.28" fill="#FF0000" opacity="0.9" filter="url(#bl3)"/>
</g>
<g transform="translate(89.8 97.6) rotate(0.0)">
<ellipse rx="4.50" ry="4.50" fill="#FF6060" opacity="0.85" filter="url(#bl3)"/>
<ellipse rx="2.28" ry="2.28" fill="#FF0000" opacity="0.9" filter="url(#bl3)"/>
</g>
<g transform="translate(99.3 90.6) rotate(0.0)">
<ellipse rx="4.30" ry="4.30" fill="#FF6060" opacity="0.85" filter="url(#bl3)"/>
<ellipse rx="2.16" ry="2.16" fill="#FF0000" opacity="0.9" filter="url(#bl3)"/>
</g>
<g transform="translate(69.7 170.8) rotate(0.0)">
<ellipse rx="4.10" ry="4.10" fill="#FF6060" opacity="0.85" filter="url(#bl3)"/>
<ellipse rx="2.04" ry="2.04" fill="#FF0000" opacity="0.9" filter="url(#bl3)"/>
</g>
<g font-size="13.2" fill="#000"><text x="-0.6" y="89.1">P</text><text x="6.7" y="91.7" font-size="9.4">s</text><text x="10.6" y="88.7">,</text><text x="15.6" y="89.1">P</text><text x="23.2" y="91.7" font-size="9.4">s~</text></g>
<text x="11.0" y="135.7" font-size="13.9" fill="#000">P<tspan font-size="9.2" dy="2.8">a</tspan></text>
<text x="20.4" y="197.3" font-size="13.9" fill="#000">P<tspan font-size="9.2" dy="2.8">p</tspan></text>
<text x="71.1" y="121.1" font-size="13.9" fill="#000">P<tspan font-size="9.2" dy="2.8">sa</tspan></text>
<text x="110.0" y="94.8" font-size="13.9" fill="#000">P<tspan font-size="9.2" dy="2.8">sp</tspan></text>
<g font-size="13.9" fill="#000"><text x="57.2" y="178.1">P</text><text x="64.5" y="180.9" font-size="8.6">h</text><text x="68.9" y="178.1">,</text><text x="72.2" y="178.1">P</text><text x="79.3" y="180.9" font-size="8.8">h~</text></g>
</svg></body></html>
